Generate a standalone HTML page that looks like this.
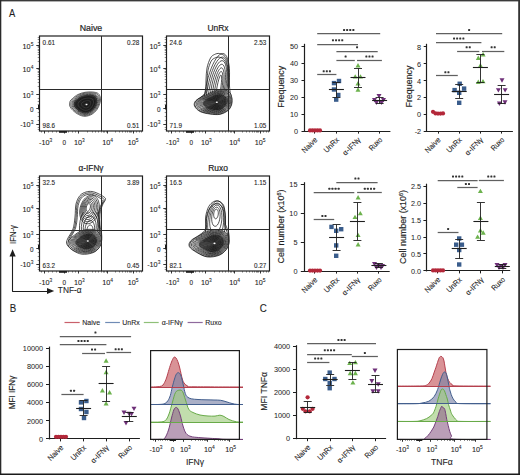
<!DOCTYPE html><html><head><meta charset="utf-8"><style>html,body{margin:0;padding:0;background:#fff;width:520px;height:475px;overflow:hidden;position:relative}</style></head><body><svg width="520" height="475" viewBox="0 0 520 475" style="position:absolute;left:0;top:0;font-family:'Liberation Sans', sans-serif">
<rect x="0" y="0" width="520" height="475" fill="#fff"/>
<rect x="0" y="0" width="520" height="1.4" fill="#3a3a3a"/>
<rect x="0" y="0" width="1.3" height="475" fill="#2a2a2a"/>
<rect x="518.2" y="0" width="1.8" height="475" fill="#333"/>
<rect x="0" y="473.5" width="520" height="1.5" fill="#1a1a1a"/>
<text transform="translate(9,16.8) scale(0.84,1)" font-size="11.2" text-anchor="start" fill="#1e1e1e" stroke="#1e1e1e" stroke-width="0.1">A</text>
<text transform="translate(9.8,311.8) scale(0.92,1)" font-size="10.6" text-anchor="start" fill="#1e1e1e" stroke="#1e1e1e" stroke-width="0.1">B</text>
<text transform="translate(259.8,312) scale(0.92,1)" font-size="10.6" text-anchor="start" fill="#1e1e1e" stroke="#1e1e1e" stroke-width="0.1">C</text>
<text transform="translate(91,31) scale(0.98,1)" font-size="9" text-anchor="middle" fill="#1e1e1e" stroke="#1e1e1e" stroke-width="0.2">Naive</text>
<line x1="36.3" y1="45.5" x2="39.5" y2="45.5" stroke="#1e1e1e" stroke-width="0.9"/>
<line x1="36.3" y1="68.5" x2="39.5" y2="68.5" stroke="#1e1e1e" stroke-width="0.9"/>
<line x1="36.3" y1="94.5" x2="39.5" y2="94.5" stroke="#1e1e1e" stroke-width="0.9"/>
<line x1="36.3" y1="108.5" x2="39.5" y2="108.5" stroke="#1e1e1e" stroke-width="0.9"/>
<line x1="36.3" y1="124.5" x2="39.5" y2="124.5" stroke="#1e1e1e" stroke-width="0.9"/>
<line x1="37.7" y1="61.5" x2="39.5" y2="61.5" stroke="#1e1e1e" stroke-width="0.5"/>
<line x1="37.7" y1="57.5" x2="39.5" y2="57.5" stroke="#1e1e1e" stroke-width="0.5"/>
<line x1="37.7" y1="54.5" x2="39.5" y2="54.5" stroke="#1e1e1e" stroke-width="0.5"/>
<line x1="37.7" y1="52.5" x2="39.5" y2="52.5" stroke="#1e1e1e" stroke-width="0.5"/>
<line x1="37.7" y1="50.5" x2="39.5" y2="50.5" stroke="#1e1e1e" stroke-width="0.5"/>
<line x1="37.7" y1="49.5" x2="39.5" y2="49.5" stroke="#1e1e1e" stroke-width="0.5"/>
<line x1="37.7" y1="47.5" x2="39.5" y2="47.5" stroke="#1e1e1e" stroke-width="0.5"/>
<line x1="37.7" y1="46.5" x2="39.5" y2="46.5" stroke="#1e1e1e" stroke-width="0.5"/>
<line x1="37.7" y1="86.5" x2="39.5" y2="86.5" stroke="#1e1e1e" stroke-width="0.5"/>
<line x1="37.7" y1="82.5" x2="39.5" y2="82.5" stroke="#1e1e1e" stroke-width="0.5"/>
<line x1="37.7" y1="79.5" x2="39.5" y2="79.5" stroke="#1e1e1e" stroke-width="0.5"/>
<line x1="37.7" y1="76.5" x2="39.5" y2="76.5" stroke="#1e1e1e" stroke-width="0.5"/>
<line x1="37.7" y1="74.5" x2="39.5" y2="74.5" stroke="#1e1e1e" stroke-width="0.5"/>
<line x1="37.7" y1="72.5" x2="39.5" y2="72.5" stroke="#1e1e1e" stroke-width="0.5"/>
<line x1="37.7" y1="71.5" x2="39.5" y2="71.5" stroke="#1e1e1e" stroke-width="0.5"/>
<line x1="37.7" y1="69.5" x2="39.5" y2="69.5" stroke="#1e1e1e" stroke-width="0.5"/>
<line x1="37.7" y1="37.5" x2="39.5" y2="37.5" stroke="#1e1e1e" stroke-width="0.5"/>
<line x1="37.7" y1="39.5" x2="39.5" y2="39.5" stroke="#1e1e1e" stroke-width="0.5"/>
<line x1="37.7" y1="42.5" x2="39.5" y2="42.5" stroke="#1e1e1e" stroke-width="0.5"/>
<line x1="37.7" y1="98.5" x2="39.5" y2="98.5" stroke="#1e1e1e" stroke-width="0.5"/>
<line x1="37.7" y1="101.5" x2="39.5" y2="101.5" stroke="#1e1e1e" stroke-width="0.5"/>
<line x1="37.7" y1="104.5" x2="39.5" y2="104.5" stroke="#1e1e1e" stroke-width="0.5"/>
<line x1="37.7" y1="112.5" x2="39.5" y2="112.5" stroke="#1e1e1e" stroke-width="0.5"/>
<line x1="37.7" y1="116.5" x2="39.5" y2="116.5" stroke="#1e1e1e" stroke-width="0.5"/>
<line x1="37.7" y1="120.5" x2="39.5" y2="120.5" stroke="#1e1e1e" stroke-width="0.5"/>
<line x1="37.7" y1="127.5" x2="39.5" y2="127.5" stroke="#1e1e1e" stroke-width="0.5"/>
<line x1="37.7" y1="129.5" x2="39.5" y2="129.5" stroke="#1e1e1e" stroke-width="0.5"/>
<rect x="38" y="105" width="1.8" height="4.5" fill="#1e1e1e"/>
<line x1="44.5" y1="131" x2="44.5" y2="133.5" stroke="#1e1e1e" stroke-width="0.9"/>
<line x1="64.5" y1="131" x2="64.5" y2="133.5" stroke="#1e1e1e" stroke-width="0.9"/>
<line x1="78.5" y1="131" x2="78.5" y2="133.5" stroke="#1e1e1e" stroke-width="0.9"/>
<line x1="107.5" y1="131" x2="107.5" y2="133.5" stroke="#1e1e1e" stroke-width="0.9"/>
<line x1="133.5" y1="131" x2="133.5" y2="133.5" stroke="#1e1e1e" stroke-width="0.9"/>
<line x1="87.5" y1="131" x2="87.5" y2="132.6" stroke="#1e1e1e" stroke-width="0.5"/>
<line x1="92.5" y1="131" x2="92.5" y2="132.6" stroke="#1e1e1e" stroke-width="0.5"/>
<line x1="95.5" y1="131" x2="95.5" y2="132.6" stroke="#1e1e1e" stroke-width="0.5"/>
<line x1="98.5" y1="131" x2="98.5" y2="132.6" stroke="#1e1e1e" stroke-width="0.5"/>
<line x1="101.5" y1="131" x2="101.5" y2="132.6" stroke="#1e1e1e" stroke-width="0.5"/>
<line x1="103.5" y1="131" x2="103.5" y2="132.6" stroke="#1e1e1e" stroke-width="0.5"/>
<line x1="104.5" y1="131" x2="104.5" y2="132.6" stroke="#1e1e1e" stroke-width="0.5"/>
<line x1="106.5" y1="131" x2="106.5" y2="132.6" stroke="#1e1e1e" stroke-width="0.5"/>
<line x1="115.5" y1="131" x2="115.5" y2="132.6" stroke="#1e1e1e" stroke-width="0.5"/>
<line x1="119.5" y1="131" x2="119.5" y2="132.6" stroke="#1e1e1e" stroke-width="0.5"/>
<line x1="122.5" y1="131" x2="122.5" y2="132.6" stroke="#1e1e1e" stroke-width="0.5"/>
<line x1="125.5" y1="131" x2="125.5" y2="132.6" stroke="#1e1e1e" stroke-width="0.5"/>
<line x1="127.5" y1="131" x2="127.5" y2="132.6" stroke="#1e1e1e" stroke-width="0.5"/>
<line x1="129.5" y1="131" x2="129.5" y2="132.6" stroke="#1e1e1e" stroke-width="0.5"/>
<line x1="130.5" y1="131" x2="130.5" y2="132.6" stroke="#1e1e1e" stroke-width="0.5"/>
<line x1="131.5" y1="131" x2="131.5" y2="132.6" stroke="#1e1e1e" stroke-width="0.5"/>
<line x1="41.5" y1="131" x2="41.5" y2="132.6" stroke="#1e1e1e" stroke-width="0.5"/>
<line x1="48.5" y1="131" x2="48.5" y2="132.6" stroke="#1e1e1e" stroke-width="0.5"/>
<line x1="52.5" y1="131" x2="52.5" y2="132.6" stroke="#1e1e1e" stroke-width="0.5"/>
<line x1="56.5" y1="131" x2="56.5" y2="132.6" stroke="#1e1e1e" stroke-width="0.5"/>
<line x1="68.5" y1="131" x2="68.5" y2="132.6" stroke="#1e1e1e" stroke-width="0.5"/>
<line x1="72.5" y1="131" x2="72.5" y2="132.6" stroke="#1e1e1e" stroke-width="0.5"/>
<line x1="75.5" y1="131" x2="75.5" y2="132.6" stroke="#1e1e1e" stroke-width="0.5"/>
<line x1="136.5" y1="131" x2="136.5" y2="132.6" stroke="#1e1e1e" stroke-width="0.5"/>
<line x1="139.5" y1="131" x2="139.5" y2="132.6" stroke="#1e1e1e" stroke-width="0.5"/>
<line x1="141.5" y1="131" x2="141.5" y2="132.6" stroke="#1e1e1e" stroke-width="0.5"/>
<rect x="59" y="131" width="8" height="1.8" fill="#1e1e1e"/>
<rect x="39.5" y="36" width="103" height="95" fill="none" stroke="#1e1e1e" stroke-width="1.2"/>
<text transform="translate(33.4,48.6) scale(0.93,1)" font-size="7.8" text-anchor="end" fill="#1e1e1e" stroke="#1e1e1e" stroke-width="0.1">10<tspan font-size="5.3" dy="-2.8" stroke-width="0.08">5</tspan></text>
<text transform="translate(33.4,71.8) scale(0.93,1)" font-size="7.8" text-anchor="end" fill="#1e1e1e" stroke="#1e1e1e" stroke-width="0.1">10<tspan font-size="5.3" dy="-2.8" stroke-width="0.08">4</tspan></text>
<text transform="translate(33.4,97.7) scale(0.93,1)" font-size="7.8" text-anchor="end" fill="#1e1e1e" stroke="#1e1e1e" stroke-width="0.1">10<tspan font-size="5.3" dy="-2.8" stroke-width="0.08">3</tspan></text>
<text transform="translate(33.4,127.1) scale(0.93,1)" font-size="7.8" text-anchor="end" fill="#1e1e1e" stroke="#1e1e1e" stroke-width="0.1">-10<tspan font-size="5.3" dy="-2.8" stroke-width="0.08">3</tspan></text>
<text transform="translate(33.6,111.5) scale(0.84,1)" font-size="7.6" text-anchor="end" fill="#1e1e1e" stroke="#1e1e1e" stroke-width="0.1">0</text>
<text transform="translate(39,144.5) scale(0.93,1)" font-size="7.8" text-anchor="start" fill="#1e1e1e" stroke="#1e1e1e" stroke-width="0.1">-10<tspan font-size="5.3" dy="-2.8" stroke-width="0.08">3</tspan></text>
<text transform="translate(62.6,144.5) scale(0.84,1)" font-size="7.6" text-anchor="start" fill="#1e1e1e" stroke="#1e1e1e" stroke-width="0.1">0</text>
<text transform="translate(74,144.5) scale(0.93,1)" font-size="7.8" text-anchor="start" fill="#1e1e1e" stroke="#1e1e1e" stroke-width="0.1">10<tspan font-size="5.3" dy="-2.8" stroke-width="0.08">3</tspan></text>
<text transform="translate(102.3,144.5) scale(0.93,1)" font-size="7.8" text-anchor="start" fill="#1e1e1e" stroke="#1e1e1e" stroke-width="0.1">10<tspan font-size="5.3" dy="-2.8" stroke-width="0.08">4</tspan></text>
<text transform="translate(127.8,144.5) scale(0.93,1)" font-size="7.8" text-anchor="start" fill="#1e1e1e" stroke="#1e1e1e" stroke-width="0.1">10<tspan font-size="5.3" dy="-2.8" stroke-width="0.08">5</tspan></text>
<text transform="translate(42.6,45.3) scale(0.86,1)" font-size="7.4" text-anchor="start" fill="#1e1e1e" stroke="#1e1e1e" stroke-width="0.1">0.61</text>
<text transform="translate(139.4,45.3) scale(0.86,1)" font-size="7.4" text-anchor="end" fill="#1e1e1e" stroke="#1e1e1e" stroke-width="0.1">0.28</text>
<text transform="translate(42.6,127.7) scale(0.86,1)" font-size="7.4" text-anchor="start" fill="#1e1e1e" stroke="#1e1e1e" stroke-width="0.1">98.6</text>
<text transform="translate(139.4,127.7) scale(0.86,1)" font-size="7.4" text-anchor="end" fill="#1e1e1e" stroke="#1e1e1e" stroke-width="0.1">0.51</text>
<text transform="translate(218,31) scale(0.94,1)" font-size="9" text-anchor="middle" fill="#1e1e1e" stroke="#1e1e1e" stroke-width="0.2">UnRx</text>
<line x1="163.3" y1="45.5" x2="166.5" y2="45.5" stroke="#1e1e1e" stroke-width="0.9"/>
<line x1="163.3" y1="68.5" x2="166.5" y2="68.5" stroke="#1e1e1e" stroke-width="0.9"/>
<line x1="163.3" y1="94.5" x2="166.5" y2="94.5" stroke="#1e1e1e" stroke-width="0.9"/>
<line x1="163.3" y1="108.5" x2="166.5" y2="108.5" stroke="#1e1e1e" stroke-width="0.9"/>
<line x1="163.3" y1="124.5" x2="166.5" y2="124.5" stroke="#1e1e1e" stroke-width="0.9"/>
<line x1="164.7" y1="61.5" x2="166.5" y2="61.5" stroke="#1e1e1e" stroke-width="0.5"/>
<line x1="164.7" y1="57.5" x2="166.5" y2="57.5" stroke="#1e1e1e" stroke-width="0.5"/>
<line x1="164.7" y1="54.5" x2="166.5" y2="54.5" stroke="#1e1e1e" stroke-width="0.5"/>
<line x1="164.7" y1="52.5" x2="166.5" y2="52.5" stroke="#1e1e1e" stroke-width="0.5"/>
<line x1="164.7" y1="50.5" x2="166.5" y2="50.5" stroke="#1e1e1e" stroke-width="0.5"/>
<line x1="164.7" y1="49.5" x2="166.5" y2="49.5" stroke="#1e1e1e" stroke-width="0.5"/>
<line x1="164.7" y1="47.5" x2="166.5" y2="47.5" stroke="#1e1e1e" stroke-width="0.5"/>
<line x1="164.7" y1="46.5" x2="166.5" y2="46.5" stroke="#1e1e1e" stroke-width="0.5"/>
<line x1="164.7" y1="86.5" x2="166.5" y2="86.5" stroke="#1e1e1e" stroke-width="0.5"/>
<line x1="164.7" y1="82.5" x2="166.5" y2="82.5" stroke="#1e1e1e" stroke-width="0.5"/>
<line x1="164.7" y1="79.5" x2="166.5" y2="79.5" stroke="#1e1e1e" stroke-width="0.5"/>
<line x1="164.7" y1="76.5" x2="166.5" y2="76.5" stroke="#1e1e1e" stroke-width="0.5"/>
<line x1="164.7" y1="74.5" x2="166.5" y2="74.5" stroke="#1e1e1e" stroke-width="0.5"/>
<line x1="164.7" y1="72.5" x2="166.5" y2="72.5" stroke="#1e1e1e" stroke-width="0.5"/>
<line x1="164.7" y1="71.5" x2="166.5" y2="71.5" stroke="#1e1e1e" stroke-width="0.5"/>
<line x1="164.7" y1="69.5" x2="166.5" y2="69.5" stroke="#1e1e1e" stroke-width="0.5"/>
<line x1="164.7" y1="37.5" x2="166.5" y2="37.5" stroke="#1e1e1e" stroke-width="0.5"/>
<line x1="164.7" y1="39.5" x2="166.5" y2="39.5" stroke="#1e1e1e" stroke-width="0.5"/>
<line x1="164.7" y1="42.5" x2="166.5" y2="42.5" stroke="#1e1e1e" stroke-width="0.5"/>
<line x1="164.7" y1="98.5" x2="166.5" y2="98.5" stroke="#1e1e1e" stroke-width="0.5"/>
<line x1="164.7" y1="101.5" x2="166.5" y2="101.5" stroke="#1e1e1e" stroke-width="0.5"/>
<line x1="164.7" y1="104.5" x2="166.5" y2="104.5" stroke="#1e1e1e" stroke-width="0.5"/>
<line x1="164.7" y1="112.5" x2="166.5" y2="112.5" stroke="#1e1e1e" stroke-width="0.5"/>
<line x1="164.7" y1="116.5" x2="166.5" y2="116.5" stroke="#1e1e1e" stroke-width="0.5"/>
<line x1="164.7" y1="120.5" x2="166.5" y2="120.5" stroke="#1e1e1e" stroke-width="0.5"/>
<line x1="164.7" y1="127.5" x2="166.5" y2="127.5" stroke="#1e1e1e" stroke-width="0.5"/>
<line x1="164.7" y1="129.5" x2="166.5" y2="129.5" stroke="#1e1e1e" stroke-width="0.5"/>
<rect x="165" y="105" width="1.8" height="4.5" fill="#1e1e1e"/>
<line x1="171.5" y1="131" x2="171.5" y2="133.5" stroke="#1e1e1e" stroke-width="0.9"/>
<line x1="191.5" y1="131" x2="191.5" y2="133.5" stroke="#1e1e1e" stroke-width="0.9"/>
<line x1="205.5" y1="131" x2="205.5" y2="133.5" stroke="#1e1e1e" stroke-width="0.9"/>
<line x1="234.5" y1="131" x2="234.5" y2="133.5" stroke="#1e1e1e" stroke-width="0.9"/>
<line x1="260.5" y1="131" x2="260.5" y2="133.5" stroke="#1e1e1e" stroke-width="0.9"/>
<line x1="214.5" y1="131" x2="214.5" y2="132.6" stroke="#1e1e1e" stroke-width="0.5"/>
<line x1="219.5" y1="131" x2="219.5" y2="132.6" stroke="#1e1e1e" stroke-width="0.5"/>
<line x1="222.5" y1="131" x2="222.5" y2="132.6" stroke="#1e1e1e" stroke-width="0.5"/>
<line x1="225.5" y1="131" x2="225.5" y2="132.6" stroke="#1e1e1e" stroke-width="0.5"/>
<line x1="228.5" y1="131" x2="228.5" y2="132.6" stroke="#1e1e1e" stroke-width="0.5"/>
<line x1="230.5" y1="131" x2="230.5" y2="132.6" stroke="#1e1e1e" stroke-width="0.5"/>
<line x1="231.5" y1="131" x2="231.5" y2="132.6" stroke="#1e1e1e" stroke-width="0.5"/>
<line x1="233.5" y1="131" x2="233.5" y2="132.6" stroke="#1e1e1e" stroke-width="0.5"/>
<line x1="242.5" y1="131" x2="242.5" y2="132.6" stroke="#1e1e1e" stroke-width="0.5"/>
<line x1="246.5" y1="131" x2="246.5" y2="132.6" stroke="#1e1e1e" stroke-width="0.5"/>
<line x1="249.5" y1="131" x2="249.5" y2="132.6" stroke="#1e1e1e" stroke-width="0.5"/>
<line x1="252.5" y1="131" x2="252.5" y2="132.6" stroke="#1e1e1e" stroke-width="0.5"/>
<line x1="254.5" y1="131" x2="254.5" y2="132.6" stroke="#1e1e1e" stroke-width="0.5"/>
<line x1="256.5" y1="131" x2="256.5" y2="132.6" stroke="#1e1e1e" stroke-width="0.5"/>
<line x1="257.5" y1="131" x2="257.5" y2="132.6" stroke="#1e1e1e" stroke-width="0.5"/>
<line x1="258.5" y1="131" x2="258.5" y2="132.6" stroke="#1e1e1e" stroke-width="0.5"/>
<line x1="168.5" y1="131" x2="168.5" y2="132.6" stroke="#1e1e1e" stroke-width="0.5"/>
<line x1="175.5" y1="131" x2="175.5" y2="132.6" stroke="#1e1e1e" stroke-width="0.5"/>
<line x1="179.5" y1="131" x2="179.5" y2="132.6" stroke="#1e1e1e" stroke-width="0.5"/>
<line x1="183.5" y1="131" x2="183.5" y2="132.6" stroke="#1e1e1e" stroke-width="0.5"/>
<line x1="195.5" y1="131" x2="195.5" y2="132.6" stroke="#1e1e1e" stroke-width="0.5"/>
<line x1="199.5" y1="131" x2="199.5" y2="132.6" stroke="#1e1e1e" stroke-width="0.5"/>
<line x1="202.5" y1="131" x2="202.5" y2="132.6" stroke="#1e1e1e" stroke-width="0.5"/>
<line x1="263.5" y1="131" x2="263.5" y2="132.6" stroke="#1e1e1e" stroke-width="0.5"/>
<line x1="266.5" y1="131" x2="266.5" y2="132.6" stroke="#1e1e1e" stroke-width="0.5"/>
<line x1="268.5" y1="131" x2="268.5" y2="132.6" stroke="#1e1e1e" stroke-width="0.5"/>
<rect x="186" y="131" width="8" height="1.8" fill="#1e1e1e"/>
<rect x="166.5" y="36" width="103" height="95" fill="none" stroke="#1e1e1e" stroke-width="1.2"/>
<text transform="translate(160.4,48.6) scale(0.93,1)" font-size="7.8" text-anchor="end" fill="#1e1e1e" stroke="#1e1e1e" stroke-width="0.1">10<tspan font-size="5.3" dy="-2.8" stroke-width="0.08">5</tspan></text>
<text transform="translate(160.4,71.8) scale(0.93,1)" font-size="7.8" text-anchor="end" fill="#1e1e1e" stroke="#1e1e1e" stroke-width="0.1">10<tspan font-size="5.3" dy="-2.8" stroke-width="0.08">4</tspan></text>
<text transform="translate(160.4,97.7) scale(0.93,1)" font-size="7.8" text-anchor="end" fill="#1e1e1e" stroke="#1e1e1e" stroke-width="0.1">10<tspan font-size="5.3" dy="-2.8" stroke-width="0.08">3</tspan></text>
<text transform="translate(160.4,127.1) scale(0.93,1)" font-size="7.8" text-anchor="end" fill="#1e1e1e" stroke="#1e1e1e" stroke-width="0.1">-10<tspan font-size="5.3" dy="-2.8" stroke-width="0.08">3</tspan></text>
<text transform="translate(160.6,111.5) scale(0.84,1)" font-size="7.6" text-anchor="end" fill="#1e1e1e" stroke="#1e1e1e" stroke-width="0.1">0</text>
<text transform="translate(166,144.5) scale(0.93,1)" font-size="7.8" text-anchor="start" fill="#1e1e1e" stroke="#1e1e1e" stroke-width="0.1">-10<tspan font-size="5.3" dy="-2.8" stroke-width="0.08">3</tspan></text>
<text transform="translate(189.6,144.5) scale(0.84,1)" font-size="7.6" text-anchor="start" fill="#1e1e1e" stroke="#1e1e1e" stroke-width="0.1">0</text>
<text transform="translate(201,144.5) scale(0.93,1)" font-size="7.8" text-anchor="start" fill="#1e1e1e" stroke="#1e1e1e" stroke-width="0.1">10<tspan font-size="5.3" dy="-2.8" stroke-width="0.08">3</tspan></text>
<text transform="translate(229.3,144.5) scale(0.93,1)" font-size="7.8" text-anchor="start" fill="#1e1e1e" stroke="#1e1e1e" stroke-width="0.1">10<tspan font-size="5.3" dy="-2.8" stroke-width="0.08">4</tspan></text>
<text transform="translate(254.8,144.5) scale(0.93,1)" font-size="7.8" text-anchor="start" fill="#1e1e1e" stroke="#1e1e1e" stroke-width="0.1">10<tspan font-size="5.3" dy="-2.8" stroke-width="0.08">5</tspan></text>
<text transform="translate(169.6,45.3) scale(0.86,1)" font-size="7.4" text-anchor="start" fill="#1e1e1e" stroke="#1e1e1e" stroke-width="0.1">24.6</text>
<text transform="translate(266.4,45.3) scale(0.86,1)" font-size="7.4" text-anchor="end" fill="#1e1e1e" stroke="#1e1e1e" stroke-width="0.1">2.53</text>
<text transform="translate(169.6,127.7) scale(0.86,1)" font-size="7.4" text-anchor="start" fill="#1e1e1e" stroke="#1e1e1e" stroke-width="0.1">71.9</text>
<text transform="translate(266.4,127.7) scale(0.86,1)" font-size="7.4" text-anchor="end" fill="#1e1e1e" stroke="#1e1e1e" stroke-width="0.1">1.05</text>
<text transform="translate(91,171) scale(0.92,1)" font-size="9" text-anchor="middle" fill="#1e1e1e" stroke="#1e1e1e" stroke-width="0.2">α-IFNγ</text>
<line x1="36.3" y1="185.5" x2="39.5" y2="185.5" stroke="#1e1e1e" stroke-width="0.9"/>
<line x1="36.3" y1="208.5" x2="39.5" y2="208.5" stroke="#1e1e1e" stroke-width="0.9"/>
<line x1="36.3" y1="234.5" x2="39.5" y2="234.5" stroke="#1e1e1e" stroke-width="0.9"/>
<line x1="36.3" y1="248.5" x2="39.5" y2="248.5" stroke="#1e1e1e" stroke-width="0.9"/>
<line x1="36.3" y1="264.5" x2="39.5" y2="264.5" stroke="#1e1e1e" stroke-width="0.9"/>
<line x1="37.7" y1="201.5" x2="39.5" y2="201.5" stroke="#1e1e1e" stroke-width="0.5"/>
<line x1="37.7" y1="197.5" x2="39.5" y2="197.5" stroke="#1e1e1e" stroke-width="0.5"/>
<line x1="37.7" y1="194.5" x2="39.5" y2="194.5" stroke="#1e1e1e" stroke-width="0.5"/>
<line x1="37.7" y1="192.5" x2="39.5" y2="192.5" stroke="#1e1e1e" stroke-width="0.5"/>
<line x1="37.7" y1="190.5" x2="39.5" y2="190.5" stroke="#1e1e1e" stroke-width="0.5"/>
<line x1="37.7" y1="189.5" x2="39.5" y2="189.5" stroke="#1e1e1e" stroke-width="0.5"/>
<line x1="37.7" y1="187.5" x2="39.5" y2="187.5" stroke="#1e1e1e" stroke-width="0.5"/>
<line x1="37.7" y1="186.5" x2="39.5" y2="186.5" stroke="#1e1e1e" stroke-width="0.5"/>
<line x1="37.7" y1="226.5" x2="39.5" y2="226.5" stroke="#1e1e1e" stroke-width="0.5"/>
<line x1="37.7" y1="222.5" x2="39.5" y2="222.5" stroke="#1e1e1e" stroke-width="0.5"/>
<line x1="37.7" y1="219.5" x2="39.5" y2="219.5" stroke="#1e1e1e" stroke-width="0.5"/>
<line x1="37.7" y1="216.5" x2="39.5" y2="216.5" stroke="#1e1e1e" stroke-width="0.5"/>
<line x1="37.7" y1="214.5" x2="39.5" y2="214.5" stroke="#1e1e1e" stroke-width="0.5"/>
<line x1="37.7" y1="212.5" x2="39.5" y2="212.5" stroke="#1e1e1e" stroke-width="0.5"/>
<line x1="37.7" y1="211.5" x2="39.5" y2="211.5" stroke="#1e1e1e" stroke-width="0.5"/>
<line x1="37.7" y1="209.5" x2="39.5" y2="209.5" stroke="#1e1e1e" stroke-width="0.5"/>
<line x1="37.7" y1="177.5" x2="39.5" y2="177.5" stroke="#1e1e1e" stroke-width="0.5"/>
<line x1="37.7" y1="179.5" x2="39.5" y2="179.5" stroke="#1e1e1e" stroke-width="0.5"/>
<line x1="37.7" y1="182.5" x2="39.5" y2="182.5" stroke="#1e1e1e" stroke-width="0.5"/>
<line x1="37.7" y1="238.5" x2="39.5" y2="238.5" stroke="#1e1e1e" stroke-width="0.5"/>
<line x1="37.7" y1="241.5" x2="39.5" y2="241.5" stroke="#1e1e1e" stroke-width="0.5"/>
<line x1="37.7" y1="244.5" x2="39.5" y2="244.5" stroke="#1e1e1e" stroke-width="0.5"/>
<line x1="37.7" y1="252.5" x2="39.5" y2="252.5" stroke="#1e1e1e" stroke-width="0.5"/>
<line x1="37.7" y1="256.5" x2="39.5" y2="256.5" stroke="#1e1e1e" stroke-width="0.5"/>
<line x1="37.7" y1="260.5" x2="39.5" y2="260.5" stroke="#1e1e1e" stroke-width="0.5"/>
<line x1="37.7" y1="267.5" x2="39.5" y2="267.5" stroke="#1e1e1e" stroke-width="0.5"/>
<line x1="37.7" y1="269.5" x2="39.5" y2="269.5" stroke="#1e1e1e" stroke-width="0.5"/>
<rect x="38" y="245" width="1.8" height="4.5" fill="#1e1e1e"/>
<line x1="44.5" y1="271" x2="44.5" y2="273.5" stroke="#1e1e1e" stroke-width="0.9"/>
<line x1="64.5" y1="271" x2="64.5" y2="273.5" stroke="#1e1e1e" stroke-width="0.9"/>
<line x1="78.5" y1="271" x2="78.5" y2="273.5" stroke="#1e1e1e" stroke-width="0.9"/>
<line x1="107.5" y1="271" x2="107.5" y2="273.5" stroke="#1e1e1e" stroke-width="0.9"/>
<line x1="133.5" y1="271" x2="133.5" y2="273.5" stroke="#1e1e1e" stroke-width="0.9"/>
<line x1="87.5" y1="271" x2="87.5" y2="272.6" stroke="#1e1e1e" stroke-width="0.5"/>
<line x1="92.5" y1="271" x2="92.5" y2="272.6" stroke="#1e1e1e" stroke-width="0.5"/>
<line x1="95.5" y1="271" x2="95.5" y2="272.6" stroke="#1e1e1e" stroke-width="0.5"/>
<line x1="98.5" y1="271" x2="98.5" y2="272.6" stroke="#1e1e1e" stroke-width="0.5"/>
<line x1="101.5" y1="271" x2="101.5" y2="272.6" stroke="#1e1e1e" stroke-width="0.5"/>
<line x1="103.5" y1="271" x2="103.5" y2="272.6" stroke="#1e1e1e" stroke-width="0.5"/>
<line x1="104.5" y1="271" x2="104.5" y2="272.6" stroke="#1e1e1e" stroke-width="0.5"/>
<line x1="106.5" y1="271" x2="106.5" y2="272.6" stroke="#1e1e1e" stroke-width="0.5"/>
<line x1="115.5" y1="271" x2="115.5" y2="272.6" stroke="#1e1e1e" stroke-width="0.5"/>
<line x1="119.5" y1="271" x2="119.5" y2="272.6" stroke="#1e1e1e" stroke-width="0.5"/>
<line x1="122.5" y1="271" x2="122.5" y2="272.6" stroke="#1e1e1e" stroke-width="0.5"/>
<line x1="125.5" y1="271" x2="125.5" y2="272.6" stroke="#1e1e1e" stroke-width="0.5"/>
<line x1="127.5" y1="271" x2="127.5" y2="272.6" stroke="#1e1e1e" stroke-width="0.5"/>
<line x1="129.5" y1="271" x2="129.5" y2="272.6" stroke="#1e1e1e" stroke-width="0.5"/>
<line x1="130.5" y1="271" x2="130.5" y2="272.6" stroke="#1e1e1e" stroke-width="0.5"/>
<line x1="131.5" y1="271" x2="131.5" y2="272.6" stroke="#1e1e1e" stroke-width="0.5"/>
<line x1="41.5" y1="271" x2="41.5" y2="272.6" stroke="#1e1e1e" stroke-width="0.5"/>
<line x1="48.5" y1="271" x2="48.5" y2="272.6" stroke="#1e1e1e" stroke-width="0.5"/>
<line x1="52.5" y1="271" x2="52.5" y2="272.6" stroke="#1e1e1e" stroke-width="0.5"/>
<line x1="56.5" y1="271" x2="56.5" y2="272.6" stroke="#1e1e1e" stroke-width="0.5"/>
<line x1="68.5" y1="271" x2="68.5" y2="272.6" stroke="#1e1e1e" stroke-width="0.5"/>
<line x1="72.5" y1="271" x2="72.5" y2="272.6" stroke="#1e1e1e" stroke-width="0.5"/>
<line x1="75.5" y1="271" x2="75.5" y2="272.6" stroke="#1e1e1e" stroke-width="0.5"/>
<line x1="136.5" y1="271" x2="136.5" y2="272.6" stroke="#1e1e1e" stroke-width="0.5"/>
<line x1="139.5" y1="271" x2="139.5" y2="272.6" stroke="#1e1e1e" stroke-width="0.5"/>
<line x1="141.5" y1="271" x2="141.5" y2="272.6" stroke="#1e1e1e" stroke-width="0.5"/>
<rect x="59" y="271" width="8" height="1.8" fill="#1e1e1e"/>
<rect x="39.5" y="176" width="103" height="95" fill="none" stroke="#1e1e1e" stroke-width="1.2"/>
<text transform="translate(33.4,188.6) scale(0.93,1)" font-size="7.8" text-anchor="end" fill="#1e1e1e" stroke="#1e1e1e" stroke-width="0.1">10<tspan font-size="5.3" dy="-2.8" stroke-width="0.08">5</tspan></text>
<text transform="translate(33.4,211.8) scale(0.93,1)" font-size="7.8" text-anchor="end" fill="#1e1e1e" stroke="#1e1e1e" stroke-width="0.1">10<tspan font-size="5.3" dy="-2.8" stroke-width="0.08">4</tspan></text>
<text transform="translate(33.4,237.7) scale(0.93,1)" font-size="7.8" text-anchor="end" fill="#1e1e1e" stroke="#1e1e1e" stroke-width="0.1">10<tspan font-size="5.3" dy="-2.8" stroke-width="0.08">3</tspan></text>
<text transform="translate(33.4,267.1) scale(0.93,1)" font-size="7.8" text-anchor="end" fill="#1e1e1e" stroke="#1e1e1e" stroke-width="0.1">-10<tspan font-size="5.3" dy="-2.8" stroke-width="0.08">3</tspan></text>
<text transform="translate(33.6,251.5) scale(0.84,1)" font-size="7.6" text-anchor="end" fill="#1e1e1e" stroke="#1e1e1e" stroke-width="0.1">0</text>
<text transform="translate(39,284.5) scale(0.93,1)" font-size="7.8" text-anchor="start" fill="#1e1e1e" stroke="#1e1e1e" stroke-width="0.1">-10<tspan font-size="5.3" dy="-2.8" stroke-width="0.08">3</tspan></text>
<text transform="translate(62.6,284.5) scale(0.84,1)" font-size="7.6" text-anchor="start" fill="#1e1e1e" stroke="#1e1e1e" stroke-width="0.1">0</text>
<text transform="translate(74,284.5) scale(0.93,1)" font-size="7.8" text-anchor="start" fill="#1e1e1e" stroke="#1e1e1e" stroke-width="0.1">10<tspan font-size="5.3" dy="-2.8" stroke-width="0.08">3</tspan></text>
<text transform="translate(102.3,284.5) scale(0.93,1)" font-size="7.8" text-anchor="start" fill="#1e1e1e" stroke="#1e1e1e" stroke-width="0.1">10<tspan font-size="5.3" dy="-2.8" stroke-width="0.08">4</tspan></text>
<text transform="translate(127.8,284.5) scale(0.93,1)" font-size="7.8" text-anchor="start" fill="#1e1e1e" stroke="#1e1e1e" stroke-width="0.1">10<tspan font-size="5.3" dy="-2.8" stroke-width="0.08">5</tspan></text>
<text transform="translate(42.6,185.3) scale(0.86,1)" font-size="7.4" text-anchor="start" fill="#1e1e1e" stroke="#1e1e1e" stroke-width="0.1">32.5</text>
<text transform="translate(139.4,185.3) scale(0.86,1)" font-size="7.4" text-anchor="end" fill="#1e1e1e" stroke="#1e1e1e" stroke-width="0.1">3.89</text>
<text transform="translate(42.6,267.7) scale(0.86,1)" font-size="7.4" text-anchor="start" fill="#1e1e1e" stroke="#1e1e1e" stroke-width="0.1">63.2</text>
<text transform="translate(139.4,267.7) scale(0.86,1)" font-size="7.4" text-anchor="end" fill="#1e1e1e" stroke="#1e1e1e" stroke-width="0.1">0.45</text>
<text transform="translate(218,171) scale(0.94,1)" font-size="9" text-anchor="middle" fill="#1e1e1e" stroke="#1e1e1e" stroke-width="0.2">Ruxo</text>
<line x1="163.3" y1="185.5" x2="166.5" y2="185.5" stroke="#1e1e1e" stroke-width="0.9"/>
<line x1="163.3" y1="208.5" x2="166.5" y2="208.5" stroke="#1e1e1e" stroke-width="0.9"/>
<line x1="163.3" y1="234.5" x2="166.5" y2="234.5" stroke="#1e1e1e" stroke-width="0.9"/>
<line x1="163.3" y1="248.5" x2="166.5" y2="248.5" stroke="#1e1e1e" stroke-width="0.9"/>
<line x1="163.3" y1="264.5" x2="166.5" y2="264.5" stroke="#1e1e1e" stroke-width="0.9"/>
<line x1="164.7" y1="201.5" x2="166.5" y2="201.5" stroke="#1e1e1e" stroke-width="0.5"/>
<line x1="164.7" y1="197.5" x2="166.5" y2="197.5" stroke="#1e1e1e" stroke-width="0.5"/>
<line x1="164.7" y1="194.5" x2="166.5" y2="194.5" stroke="#1e1e1e" stroke-width="0.5"/>
<line x1="164.7" y1="192.5" x2="166.5" y2="192.5" stroke="#1e1e1e" stroke-width="0.5"/>
<line x1="164.7" y1="190.5" x2="166.5" y2="190.5" stroke="#1e1e1e" stroke-width="0.5"/>
<line x1="164.7" y1="189.5" x2="166.5" y2="189.5" stroke="#1e1e1e" stroke-width="0.5"/>
<line x1="164.7" y1="187.5" x2="166.5" y2="187.5" stroke="#1e1e1e" stroke-width="0.5"/>
<line x1="164.7" y1="186.5" x2="166.5" y2="186.5" stroke="#1e1e1e" stroke-width="0.5"/>
<line x1="164.7" y1="226.5" x2="166.5" y2="226.5" stroke="#1e1e1e" stroke-width="0.5"/>
<line x1="164.7" y1="222.5" x2="166.5" y2="222.5" stroke="#1e1e1e" stroke-width="0.5"/>
<line x1="164.7" y1="219.5" x2="166.5" y2="219.5" stroke="#1e1e1e" stroke-width="0.5"/>
<line x1="164.7" y1="216.5" x2="166.5" y2="216.5" stroke="#1e1e1e" stroke-width="0.5"/>
<line x1="164.7" y1="214.5" x2="166.5" y2="214.5" stroke="#1e1e1e" stroke-width="0.5"/>
<line x1="164.7" y1="212.5" x2="166.5" y2="212.5" stroke="#1e1e1e" stroke-width="0.5"/>
<line x1="164.7" y1="211.5" x2="166.5" y2="211.5" stroke="#1e1e1e" stroke-width="0.5"/>
<line x1="164.7" y1="209.5" x2="166.5" y2="209.5" stroke="#1e1e1e" stroke-width="0.5"/>
<line x1="164.7" y1="177.5" x2="166.5" y2="177.5" stroke="#1e1e1e" stroke-width="0.5"/>
<line x1="164.7" y1="179.5" x2="166.5" y2="179.5" stroke="#1e1e1e" stroke-width="0.5"/>
<line x1="164.7" y1="182.5" x2="166.5" y2="182.5" stroke="#1e1e1e" stroke-width="0.5"/>
<line x1="164.7" y1="238.5" x2="166.5" y2="238.5" stroke="#1e1e1e" stroke-width="0.5"/>
<line x1="164.7" y1="241.5" x2="166.5" y2="241.5" stroke="#1e1e1e" stroke-width="0.5"/>
<line x1="164.7" y1="244.5" x2="166.5" y2="244.5" stroke="#1e1e1e" stroke-width="0.5"/>
<line x1="164.7" y1="252.5" x2="166.5" y2="252.5" stroke="#1e1e1e" stroke-width="0.5"/>
<line x1="164.7" y1="256.5" x2="166.5" y2="256.5" stroke="#1e1e1e" stroke-width="0.5"/>
<line x1="164.7" y1="260.5" x2="166.5" y2="260.5" stroke="#1e1e1e" stroke-width="0.5"/>
<line x1="164.7" y1="267.5" x2="166.5" y2="267.5" stroke="#1e1e1e" stroke-width="0.5"/>
<line x1="164.7" y1="269.5" x2="166.5" y2="269.5" stroke="#1e1e1e" stroke-width="0.5"/>
<rect x="165" y="245" width="1.8" height="4.5" fill="#1e1e1e"/>
<line x1="171.5" y1="271" x2="171.5" y2="273.5" stroke="#1e1e1e" stroke-width="0.9"/>
<line x1="191.5" y1="271" x2="191.5" y2="273.5" stroke="#1e1e1e" stroke-width="0.9"/>
<line x1="205.5" y1="271" x2="205.5" y2="273.5" stroke="#1e1e1e" stroke-width="0.9"/>
<line x1="234.5" y1="271" x2="234.5" y2="273.5" stroke="#1e1e1e" stroke-width="0.9"/>
<line x1="260.5" y1="271" x2="260.5" y2="273.5" stroke="#1e1e1e" stroke-width="0.9"/>
<line x1="214.5" y1="271" x2="214.5" y2="272.6" stroke="#1e1e1e" stroke-width="0.5"/>
<line x1="219.5" y1="271" x2="219.5" y2="272.6" stroke="#1e1e1e" stroke-width="0.5"/>
<line x1="222.5" y1="271" x2="222.5" y2="272.6" stroke="#1e1e1e" stroke-width="0.5"/>
<line x1="225.5" y1="271" x2="225.5" y2="272.6" stroke="#1e1e1e" stroke-width="0.5"/>
<line x1="228.5" y1="271" x2="228.5" y2="272.6" stroke="#1e1e1e" stroke-width="0.5"/>
<line x1="230.5" y1="271" x2="230.5" y2="272.6" stroke="#1e1e1e" stroke-width="0.5"/>
<line x1="231.5" y1="271" x2="231.5" y2="272.6" stroke="#1e1e1e" stroke-width="0.5"/>
<line x1="233.5" y1="271" x2="233.5" y2="272.6" stroke="#1e1e1e" stroke-width="0.5"/>
<line x1="242.5" y1="271" x2="242.5" y2="272.6" stroke="#1e1e1e" stroke-width="0.5"/>
<line x1="246.5" y1="271" x2="246.5" y2="272.6" stroke="#1e1e1e" stroke-width="0.5"/>
<line x1="249.5" y1="271" x2="249.5" y2="272.6" stroke="#1e1e1e" stroke-width="0.5"/>
<line x1="252.5" y1="271" x2="252.5" y2="272.6" stroke="#1e1e1e" stroke-width="0.5"/>
<line x1="254.5" y1="271" x2="254.5" y2="272.6" stroke="#1e1e1e" stroke-width="0.5"/>
<line x1="256.5" y1="271" x2="256.5" y2="272.6" stroke="#1e1e1e" stroke-width="0.5"/>
<line x1="257.5" y1="271" x2="257.5" y2="272.6" stroke="#1e1e1e" stroke-width="0.5"/>
<line x1="258.5" y1="271" x2="258.5" y2="272.6" stroke="#1e1e1e" stroke-width="0.5"/>
<line x1="168.5" y1="271" x2="168.5" y2="272.6" stroke="#1e1e1e" stroke-width="0.5"/>
<line x1="175.5" y1="271" x2="175.5" y2="272.6" stroke="#1e1e1e" stroke-width="0.5"/>
<line x1="179.5" y1="271" x2="179.5" y2="272.6" stroke="#1e1e1e" stroke-width="0.5"/>
<line x1="183.5" y1="271" x2="183.5" y2="272.6" stroke="#1e1e1e" stroke-width="0.5"/>
<line x1="195.5" y1="271" x2="195.5" y2="272.6" stroke="#1e1e1e" stroke-width="0.5"/>
<line x1="199.5" y1="271" x2="199.5" y2="272.6" stroke="#1e1e1e" stroke-width="0.5"/>
<line x1="202.5" y1="271" x2="202.5" y2="272.6" stroke="#1e1e1e" stroke-width="0.5"/>
<line x1="263.5" y1="271" x2="263.5" y2="272.6" stroke="#1e1e1e" stroke-width="0.5"/>
<line x1="266.5" y1="271" x2="266.5" y2="272.6" stroke="#1e1e1e" stroke-width="0.5"/>
<line x1="268.5" y1="271" x2="268.5" y2="272.6" stroke="#1e1e1e" stroke-width="0.5"/>
<rect x="186" y="271" width="8" height="1.8" fill="#1e1e1e"/>
<rect x="166.5" y="176" width="103" height="95" fill="none" stroke="#1e1e1e" stroke-width="1.2"/>
<text transform="translate(160.4,188.6) scale(0.93,1)" font-size="7.8" text-anchor="end" fill="#1e1e1e" stroke="#1e1e1e" stroke-width="0.1">10<tspan font-size="5.3" dy="-2.8" stroke-width="0.08">5</tspan></text>
<text transform="translate(160.4,211.8) scale(0.93,1)" font-size="7.8" text-anchor="end" fill="#1e1e1e" stroke="#1e1e1e" stroke-width="0.1">10<tspan font-size="5.3" dy="-2.8" stroke-width="0.08">4</tspan></text>
<text transform="translate(160.4,237.7) scale(0.93,1)" font-size="7.8" text-anchor="end" fill="#1e1e1e" stroke="#1e1e1e" stroke-width="0.1">10<tspan font-size="5.3" dy="-2.8" stroke-width="0.08">3</tspan></text>
<text transform="translate(160.4,267.1) scale(0.93,1)" font-size="7.8" text-anchor="end" fill="#1e1e1e" stroke="#1e1e1e" stroke-width="0.1">-10<tspan font-size="5.3" dy="-2.8" stroke-width="0.08">3</tspan></text>
<text transform="translate(160.6,251.5) scale(0.84,1)" font-size="7.6" text-anchor="end" fill="#1e1e1e" stroke="#1e1e1e" stroke-width="0.1">0</text>
<text transform="translate(166,284.5) scale(0.93,1)" font-size="7.8" text-anchor="start" fill="#1e1e1e" stroke="#1e1e1e" stroke-width="0.1">-10<tspan font-size="5.3" dy="-2.8" stroke-width="0.08">3</tspan></text>
<text transform="translate(189.6,284.5) scale(0.84,1)" font-size="7.6" text-anchor="start" fill="#1e1e1e" stroke="#1e1e1e" stroke-width="0.1">0</text>
<text transform="translate(201,284.5) scale(0.93,1)" font-size="7.8" text-anchor="start" fill="#1e1e1e" stroke="#1e1e1e" stroke-width="0.1">10<tspan font-size="5.3" dy="-2.8" stroke-width="0.08">3</tspan></text>
<text transform="translate(229.3,284.5) scale(0.93,1)" font-size="7.8" text-anchor="start" fill="#1e1e1e" stroke="#1e1e1e" stroke-width="0.1">10<tspan font-size="5.3" dy="-2.8" stroke-width="0.08">4</tspan></text>
<text transform="translate(254.8,284.5) scale(0.93,1)" font-size="7.8" text-anchor="start" fill="#1e1e1e" stroke="#1e1e1e" stroke-width="0.1">10<tspan font-size="5.3" dy="-2.8" stroke-width="0.08">5</tspan></text>
<text transform="translate(169.6,185.3) scale(0.86,1)" font-size="7.4" text-anchor="start" fill="#1e1e1e" stroke="#1e1e1e" stroke-width="0.1">16.5</text>
<text transform="translate(266.4,185.3) scale(0.86,1)" font-size="7.4" text-anchor="end" fill="#1e1e1e" stroke="#1e1e1e" stroke-width="0.1">1.15</text>
<text transform="translate(169.6,267.7) scale(0.86,1)" font-size="7.4" text-anchor="start" fill="#1e1e1e" stroke="#1e1e1e" stroke-width="0.1">82.1</text>
<text transform="translate(266.4,267.7) scale(0.86,1)" font-size="7.4" text-anchor="end" fill="#1e1e1e" stroke="#1e1e1e" stroke-width="0.1">0.27</text>
<path d="M72.5,98.5 C73.83,97.33 75.92,95.53 78,94.5 C80.08,93.47 82.58,92.72 85,92.3 C87.42,91.88 90.28,91.78 92.5,92 C94.72,92.22 96.97,92.52 98.3,93.6 C99.63,94.68 100.25,96.85 100.5,98.5 C100.75,100.15 100.38,101.67 99.8,103.5 C99.22,105.33 98.3,107.72 97,109.5 C95.7,111.28 94,113.07 92,114.2 C90,115.33 87.25,116.25 85,116.3 C82.75,116.35 80.5,115.47 78.5,114.5 C76.5,113.53 74.45,111.92 73,110.5 C71.55,109.08 70.3,107.5 69.8,106 C69.3,104.5 69.55,102.75 70,101.5 C70.45,100.25 71.17,99.67 72.5,98.5Z" fill="none" stroke="#111" stroke-width="0.65"/>
<path d="M73.48,98.91 C74.72,97.83 76.66,96.15 78.59,95.19 C80.53,94.23 82.86,93.53 85.1,93.15 C87.35,92.76 90.02,92.67 92.08,92.87 C94.14,93.07 96.23,93.35 97.47,94.36 C98.71,95.36 99.29,97.38 99.52,98.91 C99.75,100.45 99.41,101.86 98.87,103.56 C98.33,105.27 97.47,107.48 96.27,109.14 C95.06,110.8 93.48,112.46 91.62,113.51 C89.76,114.57 87.2,115.42 85.1,115.47 C83.01,115.51 80.92,114.69 79.06,113.79 C77.2,112.89 75.29,111.39 73.94,110.07 C72.6,108.76 71.43,107.28 70.97,105.89 C70.5,104.49 70.74,102.87 71.16,101.7 C71.57,100.54 72.24,100 73.48,98.91Z" fill="none" stroke="#111" stroke-width="0.65"/>
<path d="M74.46,99.33 C75.61,98.32 77.4,96.77 79.19,95.89 C80.98,95 83.13,94.35 85.21,93.99 C87.29,93.64 89.75,93.55 91.66,93.74 C93.57,93.92 95.5,94.18 96.65,95.11 C97.79,96.04 98.32,97.91 98.54,99.33 C98.75,100.74 98.44,102.05 97.94,103.63 C97.44,105.2 96.65,107.25 95.53,108.79 C94.41,110.32 92.95,111.85 91.23,112.83 C89.51,113.8 87.14,114.59 85.21,114.63 C83.27,114.68 81.34,113.92 79.62,113.09 C77.9,112.25 76.14,110.86 74.89,109.65 C73.64,108.43 72.57,107.07 72.14,105.78 C71.71,104.49 71.92,102.98 72.31,101.91 C72.7,100.83 73.31,100.33 74.46,99.33Z" fill="none" stroke="#111" stroke-width="0.65"/>
<path d="M75.3,99.68 C76.37,98.75 78.03,97.31 79.7,96.48 C81.37,95.65 83.37,95.05 85.3,94.72 C87.23,94.39 89.53,94.31 91.3,94.48 C93.07,94.65 94.87,94.89 95.94,95.76 C97.01,96.63 97.5,98.36 97.7,99.68 C97.9,101 97.61,102.21 97.14,103.68 C96.67,105.15 95.94,107.05 94.9,108.48 C93.86,109.91 92.5,111.33 90.9,112.24 C89.3,113.15 87.1,113.88 85.3,113.92 C83.5,113.96 81.7,113.25 80.1,112.48 C78.5,111.71 76.86,110.41 75.7,109.28 C74.54,108.15 73.54,106.88 73.14,105.68 C72.74,104.48 72.94,103.08 73.3,102.08 C73.66,101.08 74.23,100.61 75.3,99.68Z" fill="none" stroke="#111" stroke-width="0.72"/>
<path d="M76.22,100.07 C77.2,99.21 78.73,97.89 80.26,97.13 C81.79,96.37 83.62,95.82 85.4,95.51 C87.17,95.21 89.28,95.13 90.91,95.29 C92.53,95.45 94.19,95.67 95.17,96.47 C96.15,97.26 96.6,98.85 96.78,100.07 C96.97,101.28 96.7,102.39 96.27,103.74 C95.84,105.09 95.17,106.84 94.21,108.15 C93.26,109.46 92.01,110.77 90.54,111.6 C89.07,112.43 87.05,113.1 85.4,113.14 C83.75,113.18 82.09,112.53 80.62,111.82 C79.16,111.11 77.65,109.92 76.58,108.88 C75.52,107.84 74.6,106.68 74.23,105.58 C73.87,104.47 74.05,103.19 74.38,102.27 C74.71,101.35 75.24,100.92 76.22,100.07Z" fill="none" stroke="#111" stroke-width="0.72"/>
<path d="M77.01,100.4 C77.92,99.61 79.33,98.39 80.74,97.69 C82.15,96.99 83.85,96.48 85.48,96.2 C87.12,95.92 89.06,95.85 90.57,96 C92.07,96.14 93.59,96.35 94.5,97.08 C95.4,97.82 95.82,99.28 95.99,100.4 C96.16,101.52 95.91,102.55 95.51,103.79 C95.12,105.03 94.5,106.65 93.62,107.86 C92.73,109.06 91.58,110.27 90.23,111.04 C88.87,111.81 87.01,112.43 85.48,112.46 C83.96,112.5 82.43,111.9 81.08,111.24 C79.72,110.59 78.33,109.49 77.35,108.53 C76.37,107.57 75.52,106.5 75.18,105.48 C74.84,104.47 75.01,103.28 75.32,102.43 C75.62,101.59 76.11,101.19 77.01,100.4Z" fill="none" stroke="#111" stroke-width="0.72"/>
<path d="M77.77,100.72 C78.6,99.99 79.9,98.87 81.2,98.22 C82.5,97.58 84.06,97.11 85.56,96.85 C87.07,96.59 88.86,96.53 90.24,96.66 C91.63,96.8 93.03,96.99 93.86,97.66 C94.69,98.34 95.08,99.69 95.23,100.72 C95.39,101.75 95.16,102.69 94.8,103.84 C94.43,104.98 93.86,106.47 93.05,107.58 C92.24,108.69 91.18,109.81 89.93,110.51 C88.68,111.22 86.97,111.79 85.56,111.82 C84.16,111.85 82.76,111.3 81.51,110.7 C80.26,110.1 78.98,109.09 78.08,108.21 C77.17,107.32 76.39,106.33 76.08,105.4 C75.77,104.46 75.93,103.37 76.21,102.59 C76.49,101.81 76.93,101.45 77.77,100.72Z" fill="none" stroke="#111" stroke-width="0.72"/>
<path d="M78.5,101.03 C79.26,100.36 80.45,99.33 81.64,98.74 C82.83,98.15 84.26,97.72 85.64,97.48 C87.02,97.24 88.66,97.19 89.93,97.31 C91.2,97.43 92.48,97.61 93.25,98.23 C94.01,98.84 94.36,100.08 94.5,101.03 C94.65,101.97 94.44,102.84 94.1,103.89 C93.77,104.93 93.25,106.3 92.5,107.32 C91.76,108.34 90.79,109.36 89.64,110 C88.5,110.65 86.93,111.18 85.64,111.2 C84.36,111.23 83.07,110.73 81.93,110.17 C80.78,109.62 79.61,108.7 78.78,107.89 C77.95,107.08 77.24,106.17 76.95,105.31 C76.67,104.46 76.81,103.46 77.07,102.74 C77.32,102.03 77.73,101.69 78.5,101.03Z" fill="none" stroke="#111" stroke-width="0.72"/>
<path d="M79.21,101.33 C79.9,100.72 80.99,99.78 82.07,99.24 C83.16,98.7 84.46,98.31 85.72,98.1 C86.98,97.88 88.47,97.83 89.63,97.94 C90.78,98.05 91.95,98.21 92.65,98.77 C93.34,99.34 93.66,100.47 93.79,101.33 C93.92,102.19 93.73,102.98 93.43,103.93 C93.12,104.89 92.65,106.13 91.97,107.06 C91.29,107.99 90.41,108.92 89.37,109.51 C88.32,110.1 86.89,110.57 85.72,110.6 C84.55,110.63 83.37,110.17 82.33,109.66 C81.29,109.16 80.22,108.32 79.47,107.58 C78.71,106.84 78.06,106.02 77.8,105.23 C77.54,104.45 77.67,103.54 77.9,102.89 C78.14,102.24 78.51,101.93 79.21,101.33Z" fill="none" stroke="#111" stroke-width="0.72"/>
<path d="M79.9,101.62 C80.53,101.07 81.51,100.22 82.49,99.73 C83.48,99.25 84.65,98.89 85.79,98.7 C86.93,98.5 88.28,98.45 89.33,98.56 C90.37,98.66 91.43,98.8 92.06,99.31 C92.69,99.82 92.98,100.84 93.1,101.62 C93.21,102.4 93.04,103.11 92.77,103.98 C92.49,104.84 92.06,105.96 91.45,106.8 C90.84,107.64 90.03,108.48 89.09,109.02 C88.15,109.55 86.85,109.98 85.79,110.01 C84.73,110.03 83.67,109.61 82.73,109.16 C81.79,108.7 80.82,107.94 80.14,107.27 C79.46,106.61 78.87,105.86 78.63,105.15 C78.4,104.45 78.51,103.62 78.72,103.03 C78.94,102.44 79.27,102.17 79.9,101.62Z" fill="none" stroke="#111" stroke-width="0.72"/>
<path d="M80.59,101.91 C81.15,101.42 82.03,100.66 82.91,100.22 C83.79,99.78 84.85,99.47 85.87,99.29 C86.89,99.11 88.1,99.07 89.03,99.16 C89.97,99.26 90.92,99.38 91.48,99.84 C92.05,100.3 92.31,101.21 92.41,101.91 C92.52,102.61 92.36,103.25 92.12,104.02 C91.87,104.79 91.48,105.8 90.93,106.55 C90.38,107.31 89.67,108.06 88.82,108.54 C87.98,109.02 86.82,109.4 85.87,109.43 C84.92,109.45 83.97,109.07 83.12,108.67 C82.28,108.26 81.41,107.57 80.8,106.98 C80.19,106.38 79.66,105.71 79.45,105.08 C79.24,104.44 79.34,103.7 79.53,103.18 C79.72,102.65 80.03,102.4 80.59,101.91Z" fill="none" stroke="#111" stroke-width="0.72"/>
<path d="M81.26,102.19 C81.76,101.76 82.54,101.08 83.32,100.7 C84.1,100.31 85.03,100.03 85.94,99.87 C86.84,99.72 87.92,99.68 88.74,99.76 C89.57,99.84 90.42,99.96 90.91,100.36 C91.41,100.77 91.64,101.58 91.74,102.19 C91.83,102.81 91.69,103.38 91.47,104.06 C91.26,104.75 90.91,105.64 90.43,106.31 C89.94,106.97 89.31,107.64 88.56,108.07 C87.81,108.49 86.78,108.83 85.94,108.85 C85.1,108.87 84.26,108.54 83.51,108.18 C82.76,107.82 81.99,107.21 81.45,106.68 C80.91,106.15 80.44,105.56 80.25,105 C80.07,104.44 80.16,103.78 80.33,103.32 C80.5,102.85 80.76,102.63 81.26,102.19Z" fill="none" stroke="#111" stroke-width="0.72"/>
<path d="M81.93,102.47 C82.37,102.09 83.05,101.51 83.73,101.17 C84.41,100.83 85.22,100.59 86.01,100.45 C86.8,100.31 87.73,100.28 88.46,100.35 C89.18,100.42 89.92,100.52 90.35,100.87 C90.79,101.23 90.99,101.94 91.07,102.47 C91.15,103.01 91.03,103.51 90.84,104.11 C90.65,104.7 90.35,105.48 89.93,106.06 C89.5,106.65 88.95,107.23 88.3,107.6 C87.64,107.97 86.74,108.27 86.01,108.28 C85.28,108.3 84.54,108.01 83.89,107.7 C83.24,107.38 82.57,106.85 82.09,106.39 C81.62,105.93 81.21,105.41 81.05,104.92 C80.89,104.43 80.97,103.86 81.11,103.45 C81.26,103.05 81.49,102.85 81.93,102.47Z" fill="none" stroke="#111" stroke-width="0.72"/>
<path d="M82.59,102.75 C82.96,102.43 83.54,101.92 84.13,101.63 C84.71,101.35 85.41,101.14 86.08,101.02 C86.76,100.9 87.56,100.88 88.18,100.94 C88.79,101 89.42,101.08 89.8,101.38 C90.17,101.69 90.34,102.29 90.41,102.75 C90.48,103.21 90.38,103.64 90.21,104.15 C90.05,104.66 89.8,105.33 89.43,105.82 C89.07,106.32 88.59,106.82 88.04,107.14 C87.48,107.45 86.71,107.71 86.08,107.72 C85.45,107.74 84.82,107.49 84.27,107.22 C83.71,106.95 83.13,106.5 82.73,106.1 C82.32,105.71 81.98,105.27 81.84,104.85 C81.7,104.43 81.77,103.94 81.89,103.59 C82.02,103.24 82.22,103.08 82.59,102.75Z" fill="none" stroke="#111" stroke-width="0.72"/>
<path d="M83.24,103.03 C83.55,102.76 84.04,102.34 84.52,102.1 C85.01,101.86 85.59,101.68 86.15,101.58 C86.71,101.49 87.38,101.46 87.9,101.51 C88.41,101.57 88.94,101.64 89.25,101.89 C89.56,102.14 89.7,102.64 89.76,103.03 C89.82,103.41 89.73,103.76 89.59,104.19 C89.46,104.62 89.25,105.17 88.94,105.59 C88.64,106 88.25,106.42 87.78,106.68 C87.31,106.94 86.67,107.16 86.15,107.17 C85.63,107.18 85.1,106.97 84.64,106.75 C84.17,106.53 83.7,106.15 83.36,105.82 C83.02,105.49 82.73,105.12 82.61,104.77 C82.5,104.42 82.56,104.02 82.66,103.73 C82.77,103.43 82.93,103.3 83.24,103.03Z" fill="none" stroke="#111" stroke-width="0.72"/>
<path d="M83.89,103.3 C84.14,103.08 84.53,102.75 84.92,102.55 C85.3,102.36 85.77,102.22 86.22,102.14 C86.67,102.07 87.21,102.05 87.62,102.09 C88.03,102.13 88.45,102.18 88.7,102.39 C88.95,102.59 89.06,102.99 89.11,103.3 C89.16,103.61 89.09,103.89 88.98,104.23 C88.87,104.57 88.7,105.02 88.46,105.35 C88.22,105.68 87.9,106.02 87.53,106.23 C87.15,106.44 86.64,106.61 86.22,106.62 C85.8,106.63 85.38,106.46 85.01,106.28 C84.64,106.1 84.25,105.8 83.98,105.54 C83.71,105.27 83.48,104.98 83.39,104.7 C83.29,104.42 83.34,104.09 83.42,103.86 C83.51,103.63 83.64,103.52 83.89,103.3Z" fill="none" stroke="#111" stroke-width="0.72"/>
<path d="M84.53,103.57 C84.72,103.41 85.01,103.15 85.3,103.01 C85.6,102.86 85.95,102.76 86.29,102.7 C86.63,102.64 87.03,102.63 87.34,102.66 C87.66,102.69 87.97,102.73 88.16,102.88 C88.35,103.03 88.43,103.34 88.47,103.57 C88.5,103.8 88.45,104.02 88.37,104.27 C88.29,104.53 88.16,104.87 87.98,105.12 C87.79,105.37 87.55,105.62 87.27,105.78 C86.99,105.94 86.61,106.07 86.29,106.07 C85.97,106.08 85.66,105.96 85.37,105.82 C85.09,105.68 84.81,105.46 84.6,105.26 C84.4,105.06 84.22,104.84 84.15,104.63 C84.08,104.41 84.12,104.17 84.18,103.99 C84.24,103.82 84.34,103.73 84.53,103.57Z" fill="none" stroke="#111" stroke-width="0.72"/>
<path d="M85.17,103.84 C85.29,103.73 85.49,103.56 85.69,103.46 C85.89,103.36 86.13,103.29 86.36,103.25 C86.59,103.21 86.86,103.2 87.07,103.22 C87.28,103.24 87.5,103.27 87.62,103.37 C87.75,103.48 87.81,103.68 87.83,103.84 C87.86,104 87.82,104.14 87.77,104.31 C87.71,104.49 87.62,104.72 87.5,104.89 C87.38,105.05 87.21,105.22 87.02,105.33 C86.83,105.44 86.57,105.53 86.36,105.53 C86.14,105.54 85.93,105.45 85.74,105.36 C85.55,105.27 85.35,105.12 85.22,104.98 C85.08,104.85 84.96,104.69 84.91,104.55 C84.86,104.41 84.89,104.24 84.93,104.12 C84.97,104.01 85.04,103.95 85.17,103.84Z" fill="none" stroke="#111" stroke-width="0.72"/>
<path d="M85.8,104.11 C85.87,104.05 85.97,103.96 86.08,103.91 C86.18,103.85 86.3,103.82 86.42,103.8 C86.55,103.77 86.69,103.77 86.8,103.78 C86.91,103.79 87.02,103.81 87.09,103.86 C87.16,103.91 87.19,104.02 87.2,104.11 C87.21,104.19 87.19,104.26 87.17,104.36 C87.14,104.45 87.09,104.57 87.03,104.66 C86.96,104.74 86.88,104.83 86.78,104.89 C86.68,104.95 86.54,104.99 86.42,105 C86.31,105 86.2,104.95 86.1,104.91 C86,104.86 85.9,104.78 85.83,104.71 C85.75,104.63 85.69,104.56 85.67,104.48 C85.64,104.41 85.65,104.32 85.67,104.26 C85.7,104.19 85.73,104.16 85.8,104.11Z" fill="none" stroke="#111" stroke-width="0.72"/>
<path d="M75.93,99.94 C76.95,99.05 78.53,97.69 80.11,96.9 C81.7,96.11 83.6,95.54 85.43,95.23 C87.27,94.91 89.45,94.84 91.13,95 C92.82,95.16 94.53,95.39 95.54,96.22 C96.55,97.04 97.02,98.69 97.21,99.94 C97.4,101.19 97.12,102.35 96.68,103.74 C96.24,105.13 95.54,106.94 94.55,108.3 C93.56,109.66 92.27,111.01 90.75,111.87 C89.23,112.73 87.14,113.43 85.43,113.47 C83.72,113.51 82.01,112.83 80.49,112.1 C78.97,111.37 77.41,110.14 76.31,109.06 C75.21,107.98 74.26,106.78 73.88,105.64 C73.5,104.5 73.69,103.17 74.03,102.22 C74.37,101.27 74.92,100.83 75.93,99.94Z" fill="#141414" fill-opacity="0.85"/>
<path d="M76.7,100.27 C77.63,99.45 79.09,98.19 80.55,97.47 C82.01,96.75 83.76,96.22 85.45,95.93 C87.14,95.64 89.15,95.57 90.7,95.72 C92.25,95.87 93.83,96.08 94.76,96.84 C95.69,97.6 96.12,99.11 96.3,100.27 C96.47,101.42 96.22,102.49 95.81,103.77 C95.4,105.05 94.76,106.72 93.85,107.97 C92.94,109.22 91.75,110.47 90.35,111.26 C88.95,112.05 87.03,112.7 85.45,112.73 C83.88,112.77 82.3,112.15 80.9,111.47 C79.5,110.79 78.06,109.66 77.05,108.67 C76.03,107.68 75.16,106.57 74.81,105.52 C74.46,104.47 74.64,103.25 74.95,102.37 C75.27,101.5 75.77,101.09 76.7,100.27Z" fill="none" stroke="#666" stroke-width="0.35"/>
<path d="M79.5,101.45 C80.17,100.87 81.21,99.97 82.25,99.45 C83.29,98.93 84.54,98.56 85.75,98.35 C86.96,98.14 88.39,98.09 89.5,98.2 C90.61,98.31 91.73,98.46 92.4,99 C93.07,99.54 93.38,100.63 93.5,101.45 C93.62,102.28 93.44,103.03 93.15,103.95 C92.86,104.87 92.4,106.06 91.75,106.95 C91.1,107.84 90.25,108.73 89.25,109.3 C88.25,109.87 86.88,110.33 85.75,110.35 C84.62,110.38 83.5,109.93 82.5,109.45 C81.5,108.97 80.47,108.16 79.75,107.45 C79.03,106.74 78.4,105.95 78.15,105.2 C77.9,104.45 78.03,103.58 78.25,102.95 C78.47,102.33 78.83,102.03 79.5,101.45Z" fill="none" stroke="#666" stroke-width="0.35"/>
<path d="M82.3,102.63 C82.7,102.28 83.33,101.74 83.95,101.43 C84.58,101.12 85.33,100.89 86.05,100.77 C86.77,100.64 87.63,100.62 88.3,100.68 C88.97,100.75 89.64,100.83 90.04,101.16 C90.44,101.48 90.62,102.13 90.7,102.63 C90.78,103.12 90.66,103.58 90.49,104.13 C90.31,104.68 90.04,105.4 89.65,105.93 C89.26,106.47 88.75,107 88.15,107.34 C87.55,107.68 86.72,107.95 86.05,107.97 C85.38,107.98 84.7,107.72 84.1,107.43 C83.5,107.14 82.89,106.65 82.45,106.23 C82.02,105.8 81.64,105.33 81.49,104.88 C81.34,104.43 81.41,103.91 81.55,103.53 C81.69,103.16 81.9,102.98 82.3,102.63Z" fill="none" stroke="#666" stroke-width="0.35"/>
<path d="M85.1,103.81 C85.23,103.69 85.44,103.51 85.65,103.41 C85.86,103.31 86.11,103.23 86.35,103.19 C86.59,103.15 86.88,103.14 87.1,103.16 C87.32,103.18 87.55,103.21 87.68,103.32 C87.81,103.43 87.88,103.65 87.9,103.81 C87.93,103.97 87.89,104.13 87.83,104.31 C87.77,104.49 87.68,104.73 87.55,104.91 C87.42,105.09 87.25,105.27 87.05,105.38 C86.85,105.49 86.57,105.59 86.35,105.59 C86.12,105.59 85.9,105.51 85.7,105.41 C85.5,105.31 85.3,105.15 85.15,105.01 C85.01,104.87 84.88,104.71 84.83,104.56 C84.78,104.41 84.8,104.23 84.85,104.11 C84.89,103.98 84.97,103.93 85.1,103.81Z" fill="none" stroke="#666" stroke-width="0.35"/>
<ellipse cx="86.5" cy="104.4" rx="1.02" ry="0.77" fill="#fff"/>
<path d="M219.5,53.5 C221.25,53.83 223.53,54.75 225,56.5 C226.47,58.25 227.63,60.92 228.3,64 C228.97,67.08 228.8,71.33 229,75 C229.2,78.67 229.25,82.83 229.5,86 C229.75,89.17 230.08,91.83 230.5,94 C230.92,96.17 231.83,97.17 232,99 C232.17,100.83 232.17,103.08 231.5,105 C230.83,106.92 229.92,108.95 228,110.5 C226.08,112.05 223,113.72 220,114.3 C217,114.88 213.33,114.47 210,114 C206.67,113.53 202.58,112.83 200,111.5 C197.42,110.17 195.25,107.75 194.5,106 C193.75,104.25 194.42,102.5 195.5,101 C196.58,99.5 199.33,98.5 201,97 C202.67,95.5 204.67,94.83 205.5,92 C206.33,89.17 205.75,84 206,80 C206.25,76 206.25,71.67 207,68 C207.75,64.33 209.25,60.25 210.5,58 C211.75,55.75 213,55.25 214.5,54.5 C216,53.75 217.75,53.17 219.5,53.5Z" fill="none" stroke="#111" stroke-width="0.72"/>
<path d="M219.25,57.15 C220.82,57.45 222.88,58.27 224.2,59.85 C225.52,61.42 226.57,63.82 227.17,66.6 C227.77,69.38 227.62,73.2 227.8,76.5 C227.98,79.8 228.03,83.55 228.25,86.4 C228.47,89.25 228.78,91.65 229.15,93.6 C229.53,95.55 230.35,96.45 230.5,98.1 C230.65,99.75 230.65,101.78 230.05,103.5 C229.45,105.22 228.62,107.06 226.9,108.45 C225.18,109.84 222.4,111.34 219.7,111.87 C217,112.4 213.7,112.02 210.7,111.6 C207.7,111.18 204.02,110.55 201.7,109.35 C199.38,108.15 197.43,105.98 196.75,104.4 C196.07,102.83 196.68,101.25 197.65,99.9 C198.62,98.55 201.1,97.65 202.6,96.3 C204.1,94.95 205.9,94.35 206.65,91.8 C207.4,89.25 206.88,84.6 207.1,81 C207.32,77.4 207.32,73.5 208,70.2 C208.68,66.9 210.03,63.23 211.15,61.2 C212.28,59.18 213.4,58.72 214.75,58.05 C216.1,57.38 217.68,56.85 219.25,57.15Z" fill="none" stroke="#111" stroke-width="0.72"/>
<defs><clipPath id="cu1"><rect x="180" y="40" width="70" height="60"/></clipPath><clipPath id="cu4"><rect x="180" y="190" width="70" height="46"/></clipPath></defs>
<g clip-path="url(#cu1)">
<path d="M228,92 C227.47,95.32 226.78,98.76 226.01,101.96 C225.24,105.17 224.34,108.37 223.38,111.25 C222.42,114.13 221.35,116.87 220.28,119.22 C219.2,121.57 218.04,123.68 216.92,125.34 C215.79,127 214.62,128.33 213.53,129.19 C212.43,130.05 211.33,130.5 210.34,130.5 C209.35,130.5 208.39,130.05 207.57,129.19 C206.75,128.33 206.01,127 205.42,125.34 C204.82,123.68 204.34,121.57 204.01,119.22 C203.69,116.87 203.5,114.13 203.46,111.25 C203.42,108.37 203.54,105.17 203.8,101.96 C204.05,98.76 204.47,95.32 205,92 C205.53,88.68 206.22,85.24 206.99,82.04 C207.76,78.83 208.66,75.63 209.62,72.75 C210.58,69.87 211.65,67.13 212.72,64.78 C213.8,62.43 214.96,60.32 216.08,58.66 C217.21,57 218.38,55.67 219.47,54.81 C220.57,53.95 221.67,53.5 222.66,53.5 C223.65,53.5 224.61,53.95 225.43,54.81 C226.25,55.67 226.99,57 227.58,58.66 C228.18,60.32 228.66,62.43 228.99,64.78 C229.31,67.13 229.5,69.87 229.54,72.75 C229.58,75.63 229.46,78.83 229.2,82.04 C228.95,85.24 228.53,88.68 228,92Z" fill="none" stroke="#111" stroke-width="0.72"/>
<path d="M226.75,91.67 C226.27,94.65 225.66,97.74 224.98,100.62 C224.3,103.5 223.5,106.37 222.65,108.96 C221.81,111.54 220.88,114.01 219.93,116.12 C218.99,118.23 217.98,120.12 217,121.62 C216.02,123.11 215.01,124.3 214.06,125.07 C213.11,125.84 212.16,126.25 211.3,126.25 C210.44,126.25 209.62,125.84 208.92,125.07 C208.22,124.3 207.59,123.11 207.08,121.62 C206.58,120.12 206.18,118.23 205.91,116.12 C205.64,114.01 205.49,111.54 205.48,108.96 C205.46,106.37 205.58,103.5 205.82,100.62 C206.06,97.74 206.44,94.65 206.92,91.67 C207.39,88.68 208,85.6 208.69,82.72 C209.37,79.83 210.17,76.96 211.01,74.38 C211.85,71.79 212.79,69.32 213.73,67.21 C214.68,65.1 215.69,63.21 216.67,61.72 C217.65,60.22 218.66,59.03 219.61,58.26 C220.56,57.49 221.51,57.08 222.37,57.08 C223.22,57.08 224.04,57.49 224.74,58.26 C225.45,59.03 226.08,60.22 226.58,61.72 C227.09,63.21 227.49,65.1 227.76,67.21 C228.03,69.32 228.17,71.79 228.19,74.38 C228.2,76.96 228.08,79.83 227.84,82.72 C227.6,85.6 227.23,88.68 226.75,91.67Z" fill="none" stroke="#111" stroke-width="0.72"/>
<path d="M225.5,91.33 C225.08,93.98 224.54,96.71 223.95,99.27 C223.35,101.83 222.66,104.38 221.93,106.67 C221.2,108.96 220.4,111.15 219.59,113.02 C218.78,114.89 217.92,116.57 217.08,117.89 C216.25,119.21 215.39,120.27 214.58,120.96 C213.78,121.64 212.98,122 212.26,122 C211.54,122 210.86,121.64 210.27,120.96 C209.69,120.27 209.16,119.21 208.75,117.89 C208.34,116.57 208.01,114.89 207.8,113.02 C207.6,111.15 207.49,108.96 207.5,106.67 C207.5,104.38 207.62,101.83 207.85,99.27 C208.07,96.71 208.41,93.98 208.83,91.33 C209.26,88.69 209.79,85.95 210.39,83.4 C210.98,80.84 211.68,78.29 212.4,76 C213.13,73.71 213.94,71.52 214.74,69.65 C215.55,67.78 216.42,66.1 217.25,64.78 C218.08,63.45 218.95,62.4 219.75,61.71 C220.55,61.03 221.35,60.67 222.07,60.67 C222.79,60.67 223.48,61.03 224.06,61.71 C224.65,62.4 225.17,63.45 225.58,64.78 C225.99,66.1 226.32,67.78 226.53,69.65 C226.74,71.52 226.84,73.71 226.84,76 C226.83,78.29 226.71,80.84 226.49,83.4 C226.26,85.95 225.92,88.69 225.5,91.33Z" fill="none" stroke="#111" stroke-width="0.72"/>
<path d="M224.25,91 C223.88,93.31 223.42,95.69 222.91,97.92 C222.4,100.15 221.82,102.38 221.21,104.38 C220.59,106.37 219.92,108.28 219.25,109.92 C218.57,111.55 217.86,113.01 217.17,114.17 C216.48,115.32 215.77,116.24 215.11,116.84 C214.45,117.44 213.8,117.75 213.22,117.75 C212.64,117.75 212.09,117.44 211.62,116.84 C211.15,116.24 210.74,115.32 210.42,114.17 C210.1,113.01 209.85,111.55 209.7,109.92 C209.55,108.28 209.49,106.37 209.51,104.38 C209.54,102.38 209.67,100.15 209.87,97.92 C210.08,95.69 210.38,93.31 210.75,91 C211.12,88.69 211.58,86.31 212.09,84.08 C212.6,81.85 213.18,79.62 213.79,77.62 C214.41,75.63 215.08,73.72 215.75,72.08 C216.43,70.45 217.14,68.99 217.83,67.83 C218.52,66.68 219.23,65.76 219.89,65.16 C220.55,64.56 221.2,64.25 221.78,64.25 C222.36,64.25 222.91,64.56 223.38,65.16 C223.85,65.76 224.26,66.68 224.58,67.83 C224.9,68.99 225.15,70.45 225.3,72.08 C225.45,73.72 225.51,75.63 225.49,77.62 C225.46,79.62 225.33,81.85 225.13,84.08 C224.92,86.31 224.62,88.69 224.25,91Z" fill="none" stroke="#111" stroke-width="0.72"/>
<path d="M223,90.67 C222.68,92.64 222.3,94.67 221.88,96.58 C221.46,98.48 220.98,100.38 220.48,102.08 C219.99,103.79 219.44,105.42 218.9,106.81 C218.37,108.21 217.8,109.46 217.25,110.44 C216.71,111.43 216.15,112.21 215.64,112.72 C215.13,113.23 214.63,113.5 214.18,113.5 C213.73,113.5 213.32,113.23 212.97,112.72 C212.62,112.21 212.31,111.43 212.09,110.44 C211.86,109.46 211.69,108.21 211.6,106.81 C211.5,105.42 211.48,103.79 211.53,102.08 C211.58,100.38 211.71,98.48 211.9,96.58 C212.09,94.67 212.35,92.64 212.67,90.67 C212.98,88.7 213.37,86.66 213.79,84.76 C214.21,82.85 214.69,80.96 215.19,79.25 C215.68,77.54 216.23,75.91 216.76,74.52 C217.3,73.13 217.87,71.88 218.41,70.89 C218.96,69.91 219.51,69.12 220.02,68.61 C220.54,68.1 221.04,67.83 221.49,67.83 C221.93,67.83 222.35,68.1 222.7,68.61 C223.05,69.12 223.35,69.91 223.58,70.89 C223.81,71.88 223.98,73.13 224.07,74.52 C224.16,75.91 224.18,77.54 224.13,79.25 C224.08,80.96 223.96,82.85 223.77,84.76 C223.58,86.66 223.32,88.7 223,90.67Z" fill="none" stroke="#111" stroke-width="0.72"/>
<path d="M221.75,90.33 C221.49,91.97 221.18,93.65 220.84,95.23 C220.51,96.81 220.14,98.38 219.76,99.79 C219.38,101.21 218.96,102.56 218.56,103.71 C218.16,104.86 217.74,105.9 217.34,106.72 C216.94,107.53 216.54,108.18 216.17,108.61 C215.8,109.03 215.45,109.25 215.14,109.25 C214.83,109.25 214.55,109.03 214.32,108.61 C214.08,108.18 213.89,107.53 213.75,106.72 C213.62,105.9 213.53,104.86 213.49,103.71 C213.46,102.56 213.48,101.21 213.55,99.79 C213.62,98.38 213.75,96.81 213.92,95.23 C214.09,93.65 214.32,91.97 214.58,90.33 C214.84,88.7 215.16,87.01 215.49,85.44 C215.82,83.86 216.2,82.29 216.58,80.88 C216.96,79.46 217.37,78.11 217.77,76.96 C218.18,75.8 218.6,74.77 219,73.95 C219.39,73.14 219.8,72.48 220.16,72.06 C220.53,71.64 220.88,71.42 221.19,71.42 C221.5,71.42 221.79,71.64 222.02,72.06 C222.25,72.48 222.44,73.14 222.58,73.95 C222.72,74.77 222.81,75.8 222.84,76.96 C222.87,78.11 222.85,79.46 222.78,80.88 C222.71,82.29 222.58,83.86 222.41,85.44 C222.24,87.01 222.01,88.7 221.75,90.33Z" fill="none" stroke="#111" stroke-width="0.72"/>
<path d="M220.5,90 C220.29,91.29 220.06,92.63 219.81,93.88 C219.57,95.13 219.3,96.38 219.03,97.5 C218.77,98.62 218.49,99.69 218.22,100.61 C217.95,101.52 217.67,102.34 217.42,102.99 C217.17,103.64 216.92,104.15 216.7,104.49 C216.48,104.82 216.27,105 216.1,105 C215.93,105 215.78,104.82 215.66,104.49 C215.55,104.15 215.47,103.64 215.42,102.99 C215.38,102.34 215.36,101.52 215.39,100.61 C215.41,99.69 215.47,98.62 215.57,97.5 C215.66,96.38 215.79,95.13 215.95,93.88 C216.1,92.63 216.29,91.29 216.5,90 C216.71,88.71 216.94,87.37 217.19,86.12 C217.43,84.87 217.7,83.62 217.97,82.5 C218.23,81.38 218.51,80.31 218.78,79.39 C219.05,78.48 219.33,77.66 219.58,77.01 C219.83,76.36 220.08,75.85 220.3,75.51 C220.52,75.18 220.73,75 220.9,75 C221.07,75 221.22,75.18 221.34,75.51 C221.45,75.85 221.53,76.36 221.58,77.01 C221.62,77.66 221.64,78.48 221.61,79.39 C221.59,80.31 221.53,81.38 221.43,82.5 C221.34,83.62 221.21,84.87 221.05,86.12 C220.9,87.37 220.71,88.71 220.5,90Z" fill="none" stroke="#111" stroke-width="0.72"/>
</g>
<path d="M225.54,90.61 C227.28,91.25 229.31,92.52 230.29,93.94 C231.27,95.36 231.35,97.34 231.43,99.17 C231.51,100.99 231.43,103.04 230.76,104.86 C230.1,106.69 229.26,108.62 227.44,110.09 C225.62,111.56 222.69,113.15 219.84,113.7 C216.99,114.25 213.51,113.86 210.34,113.41 C207.17,112.97 203.29,112.31 200.84,111.04 C198.39,109.77 196.33,107.48 195.62,105.81 C194.9,104.15 195.54,102.49 196.56,101.06 C197.59,99.64 199.97,98.37 201.79,97.27 C203.61,96.16 205.59,95.37 207.49,94.42 C209.39,93.47 211.13,92.28 213.19,91.56 C215.25,90.85 217.78,90.3 219.84,90.14 C221.9,89.98 223.8,89.98 225.54,90.61Z" fill="#fff" fill-opacity="1.0"/>
<path d="M225.72,90.37 C227.5,91.02 229.57,92.31 230.57,93.76 C231.58,95.22 231.66,97.24 231.74,99.1 C231.82,100.96 231.74,103.06 231.06,104.92 C230.38,106.78 229.52,108.75 227.66,110.25 C225.8,111.76 222.81,113.37 219.9,113.94 C216.99,114.51 213.44,114.1 210.2,113.65 C206.97,113.2 203.01,112.52 200.5,111.22 C198,109.93 195.9,107.59 195.17,105.89 C194.44,104.19 195.09,102.49 196.14,101.04 C197.19,99.58 199.61,98.29 201.47,97.16 C203.33,96.03 205.35,95.22 207.29,94.25 C209.23,93.28 211.01,92.07 213.11,91.34 C215.22,90.61 217.8,90.05 219.9,89.88 C222.01,89.72 223.95,89.72 225.72,90.37Z" fill="none" stroke="#111" stroke-width="0.72"/>
<path d="M225.13,91.16 C226.79,91.76 228.73,92.97 229.66,94.33 C230.6,95.69 230.67,97.58 230.75,99.31 C230.82,101.05 230.75,103.01 230.11,104.75 C229.48,106.48 228.68,108.32 226.94,109.73 C225.21,111.13 222.42,112.64 219.7,113.17 C216.98,113.7 213.66,113.32 210.64,112.9 C207.62,112.47 203.92,111.84 201.58,110.63 C199.24,109.42 197.28,107.24 196.6,105.65 C195.92,104.07 196.53,102.48 197.51,101.12 C198.49,99.76 200.75,98.56 202.49,97.5 C204.23,96.44 206.11,95.69 207.92,94.78 C209.74,93.88 211.4,92.74 213.36,92.07 C215.32,91.39 217.74,90.86 219.7,90.71 C221.66,90.56 223.47,90.56 225.13,91.16Z" fill="none" stroke="#111" stroke-width="0.72"/>
<path d="M224.62,91.84 C226.18,92.41 227.99,93.54 228.87,94.82 C229.75,96.09 229.82,97.87 229.89,99.49 C229.96,101.12 229.89,102.97 229.3,104.6 C228.7,106.22 227.95,107.95 226.32,109.27 C224.69,110.59 222.07,112 219.52,112.5 C216.97,113 213.85,112.64 211.02,112.25 C208.19,111.85 204.72,111.25 202.52,110.12 C200.32,108.99 198.48,106.93 197.84,105.45 C197.21,103.96 197.77,102.47 198.69,101.19 C199.62,99.92 201.74,98.79 203.37,97.79 C205,96.8 206.77,96.09 208.47,95.24 C210.17,94.39 211.73,93.33 213.57,92.69 C215.41,92.06 217.68,91.56 219.52,91.42 C221.36,91.28 223.06,91.28 224.62,91.84Z" fill="none" stroke="#111" stroke-width="0.72"/>
<path d="M224.13,92.49 C225.6,93.03 227.3,94.09 228.12,95.28 C228.94,96.48 229.01,98.14 229.08,99.67 C229.14,101.2 229.08,102.92 228.52,104.45 C227.96,105.98 227.26,107.6 225.73,108.84 C224.2,110.07 221.74,111.4 219.35,111.87 C216.96,112.33 214.04,112 211.38,111.63 C208.72,111.26 205.47,110.7 203.41,109.63 C201.35,108.57 199.62,106.64 199.02,105.25 C198.42,103.85 198.96,102.46 199.82,101.26 C200.68,100.07 202.68,99 204.2,98.07 C205.73,97.14 207.39,96.48 208.99,95.68 C210.58,94.89 212.04,93.89 213.77,93.29 C215.5,92.69 217.62,92.23 219.35,92.1 C221.08,91.96 222.67,91.96 224.13,92.49Z" fill="none" stroke="#111" stroke-width="0.72"/>
<path d="M223.66,93.12 C225.03,93.62 226.62,94.61 227.39,95.73 C228.17,96.85 228.23,98.41 228.29,99.84 C228.35,101.27 228.29,102.88 227.77,104.31 C227.25,105.74 226.59,107.26 225.16,108.42 C223.73,109.57 221.43,110.82 219.19,111.25 C216.95,111.69 214.21,111.38 211.73,111.03 C209.24,110.68 206.19,110.16 204.27,109.16 C202.34,108.17 200.72,106.37 200.16,105.06 C199.6,103.75 200.1,102.45 200.91,101.33 C201.72,100.21 203.58,99.22 205.01,98.35 C206.44,97.48 208,96.85 209.49,96.11 C210.98,95.36 212.35,94.43 213.96,93.87 C215.58,93.31 217.57,92.87 219.19,92.75 C220.8,92.63 222.3,92.63 223.66,93.12Z" fill="none" stroke="#111" stroke-width="0.72"/>
<path d="M223.21,93.74 C224.48,94.2 225.97,95.13 226.69,96.17 C227.41,97.22 227.47,98.67 227.52,100 C227.58,101.34 227.52,102.85 227.04,104.18 C226.55,105.51 225.93,106.93 224.6,108.01 C223.26,109.09 221.12,110.25 219.03,110.66 C216.94,111.06 214.39,110.77 212.06,110.45 C209.74,110.12 206.9,109.63 205.1,108.71 C203.3,107.78 201.79,106.09 201.27,104.88 C200.75,103.66 201.21,102.44 201.97,101.39 C202.72,100.35 204.46,99.42 205.8,98.61 C207.13,97.8 208.58,97.22 209.98,96.52 C211.37,95.82 212.65,94.95 214.15,94.43 C215.66,93.91 217.52,93.5 219.03,93.39 C220.54,93.27 221.93,93.27 223.21,93.74Z" fill="none" stroke="#111" stroke-width="0.72"/>
<path d="M222.76,94.34 C223.94,94.77 225.33,95.63 225.99,96.6 C226.66,97.57 226.72,98.92 226.77,100.16 C226.83,101.4 226.77,102.81 226.32,104.05 C225.87,105.29 225.29,106.61 224.05,107.61 C222.81,108.61 220.81,109.69 218.87,110.07 C216.93,110.45 214.56,110.18 212.4,109.88 C210.24,109.57 207.59,109.12 205.92,108.26 C204.25,107.39 202.85,105.83 202.36,104.7 C201.87,103.56 202.31,102.43 203.01,101.46 C203.71,100.49 205.33,99.62 206.57,98.87 C207.81,98.11 209.16,97.57 210.45,96.93 C211.75,96.28 212.94,95.47 214.34,94.98 C215.74,94.5 217.47,94.12 218.87,94.01 C220.28,93.9 221.57,93.9 222.76,94.34Z" fill="none" stroke="#111" stroke-width="0.72"/>
<path d="M222.32,94.93 C223.41,95.33 224.69,96.12 225.31,97.02 C225.93,97.92 225.98,99.17 226.03,100.32 C226.08,101.47 226.03,102.77 225.61,103.92 C225.19,105.07 224.66,106.29 223.51,107.22 C222.37,108.15 220.52,109.14 218.72,109.49 C216.92,109.84 214.72,109.59 212.72,109.31 C210.72,109.03 208.28,108.62 206.73,107.82 C205.18,107.02 203.88,105.57 203.43,104.52 C202.98,103.47 203.38,102.42 204.03,101.52 C204.68,100.62 206.18,99.82 207.33,99.12 C208.48,98.42 209.73,97.92 210.92,97.32 C212.12,96.72 213.22,95.97 214.52,95.53 C215.82,95.08 217.42,94.73 218.72,94.63 C220.02,94.53 221.22,94.53 222.32,94.93Z" fill="none" stroke="#111" stroke-width="0.72"/>
<path d="M221.88,95.51 C222.89,95.88 224.07,96.61 224.64,97.44 C225.21,98.27 225.26,99.42 225.3,100.48 C225.35,101.54 225.3,102.73 224.92,103.79 C224.53,104.85 224.04,105.97 222.98,106.83 C221.93,107.68 220.22,108.6 218.57,108.93 C216.91,109.25 214.89,109.02 213.04,108.76 C211.2,108.5 208.95,108.12 207.52,107.38 C206.1,106.64 204.9,105.31 204.49,104.34 C204.07,103.38 204.44,102.41 205.04,101.58 C205.64,100.75 207.02,100.02 208.07,99.37 C209.13,98.73 210.28,98.27 211.39,97.72 C212.49,97.16 213.51,96.47 214.7,96.06 C215.9,95.65 217.37,95.32 218.57,95.23 C219.76,95.14 220.87,95.14 221.88,95.51Z" fill="none" stroke="#111" stroke-width="0.72"/>
<path d="M221.45,96.08 C222.38,96.42 223.46,97.09 223.98,97.85 C224.5,98.61 224.54,99.66 224.58,100.63 C224.63,101.6 224.58,102.7 224.23,103.66 C223.88,104.63 223.43,105.66 222.46,106.45 C221.49,107.23 219.93,108.07 218.42,108.37 C216.9,108.66 215.05,108.45 213.36,108.21 C211.68,107.98 209.61,107.62 208.31,106.95 C207,106.28 205.91,105.06 205.53,104.17 C205.15,103.29 205.49,102.4 206.03,101.64 C206.58,100.88 207.84,100.21 208.81,99.62 C209.78,99.03 210.84,98.61 211.85,98.1 C212.86,97.6 213.78,96.97 214.88,96.59 C215.97,96.21 217.32,95.91 218.42,95.83 C219.51,95.75 220.52,95.75 221.45,96.08Z" fill="none" stroke="#111" stroke-width="0.72"/>
<path d="M221.03,96.65 C221.87,96.96 222.85,97.57 223.32,98.26 C223.8,98.95 223.83,99.9 223.87,100.78 C223.91,101.66 223.87,102.66 223.55,103.54 C223.23,104.42 222.82,105.35 221.94,106.07 C221.06,106.78 219.65,107.54 218.27,107.81 C216.89,108.08 215.21,107.89 213.68,107.67 C212.15,107.46 210.27,107.14 209.08,106.53 C207.9,105.91 206.9,104.8 206.56,104 C206.21,103.2 206.52,102.39 207.02,101.7 C207.51,101.01 208.66,100.4 209.54,99.87 C210.42,99.33 211.38,98.95 212.3,98.49 C213.22,98.03 214.06,97.45 215.05,97.11 C216.05,96.77 217.27,96.5 218.27,96.42 C219.26,96.34 220.18,96.34 221.03,96.65Z" fill="none" stroke="#111" stroke-width="0.72"/>
<path d="M220.6,97.21 C221.36,97.49 222.25,98.04 222.67,98.66 C223.1,99.28 223.13,100.14 223.17,100.94 C223.2,101.73 223.17,102.62 222.88,103.42 C222.59,104.21 222.22,105.05 221.43,105.69 C220.64,106.33 219.36,107.02 218.12,107.26 C216.88,107.5 215.37,107.33 213.99,107.14 C212.61,106.95 210.92,106.66 209.85,106.1 C208.78,105.55 207.89,104.55 207.58,103.83 C207.27,103.11 207.54,102.38 207.99,101.76 C208.44,101.14 209.47,100.59 210.27,100.11 C211.06,99.63 211.92,99.28 212.75,98.87 C213.57,98.45 214.33,97.94 215.23,97.63 C216.12,97.32 217.23,97.08 218.12,97.01 C219.02,96.94 219.85,96.94 220.6,97.21Z" fill="none" stroke="#111" stroke-width="0.72"/>
<path d="M220.19,97.77 C220.86,98.02 221.65,98.51 222.03,99.06 C222.41,99.61 222.44,100.38 222.47,101.08 C222.5,101.79 222.47,102.59 222.21,103.29 C221.96,104 221.63,104.75 220.92,105.32 C220.22,105.89 219.08,106.5 217.98,106.72 C216.87,106.93 215.52,106.78 214.3,106.61 C213.07,106.44 211.56,106.18 210.61,105.69 C209.66,105.2 208.86,104.31 208.59,103.66 C208.31,103.02 208.56,102.37 208.96,101.82 C209.36,101.27 210.28,100.78 210.98,100.35 C211.69,99.92 212.45,99.61 213.19,99.24 C213.93,98.88 214.6,98.42 215.4,98.14 C216.2,97.86 217.18,97.65 217.98,97.59 C218.78,97.53 219.51,97.53 220.19,97.77Z" fill="none" stroke="#111" stroke-width="0.72"/>
<path d="M219.77,98.32 C220.37,98.54 221.06,98.97 221.39,99.46 C221.72,99.94 221.75,100.61 221.78,101.23 C221.81,101.85 221.78,102.55 221.55,103.17 C221.33,103.79 221.04,104.45 220.42,104.95 C219.8,105.45 218.8,105.99 217.83,106.18 C216.86,106.37 215.68,106.23 214.6,106.08 C213.52,105.93 212.2,105.71 211.37,105.27 C210.53,104.84 209.83,104.06 209.59,103.5 C209.35,102.93 209.56,102.36 209.91,101.88 C210.26,101.39 211.07,100.96 211.69,100.59 C212.31,100.21 212.99,99.94 213.63,99.62 C214.28,99.29 214.87,98.89 215.57,98.65 C216.27,98.4 217.13,98.22 217.83,98.16 C218.53,98.11 219.18,98.11 219.77,98.32Z" fill="none" stroke="#111" stroke-width="0.72"/>
<path d="M219.36,98.87 C219.87,99.06 220.47,99.43 220.76,99.85 C221.05,100.27 221.07,100.85 221.09,101.38 C221.11,101.91 221.09,102.52 220.9,103.05 C220.7,103.59 220.46,104.15 219.92,104.59 C219.39,105.02 218.53,105.48 217.69,105.64 C216.86,105.81 215.83,105.69 214.9,105.56 C213.98,105.43 212.84,105.24 212.12,104.86 C211.4,104.49 210.79,103.82 210.59,103.33 C210.38,102.84 210.56,102.36 210.86,101.94 C211.17,101.52 211.86,101.15 212.4,100.82 C212.93,100.5 213.51,100.27 214.07,99.99 C214.63,99.71 215.14,99.36 215.74,99.15 C216.34,98.94 217.09,98.78 217.69,98.73 C218.3,98.69 218.85,98.69 219.36,98.87Z" fill="none" stroke="#111" stroke-width="0.72"/>
<path d="M218.96,99.42 C219.39,99.57 219.89,99.89 220.13,100.24 C220.37,100.59 220.39,101.08 220.41,101.53 C220.43,101.98 220.41,102.48 220.25,102.93 C220.08,103.38 219.87,103.86 219.43,104.22 C218.98,104.59 218.25,104.98 217.55,105.11 C216.85,105.25 215.99,105.15 215.21,105.04 C214.42,104.93 213.47,104.77 212.86,104.46 C212.26,104.14 211.75,103.58 211.57,103.17 C211.4,102.76 211.55,102.35 211.81,102 C212.06,101.64 212.65,101.33 213.1,101.06 C213.55,100.78 214.03,100.59 214.5,100.35 C214.97,100.12 215.4,99.83 215.91,99.65 C216.42,99.48 217.04,99.34 217.55,99.3 C218.06,99.26 218.53,99.26 218.96,99.42Z" fill="none" stroke="#111" stroke-width="0.72"/>
<path d="M218.55,99.96 C218.9,100.08 219.31,100.34 219.5,100.62 C219.7,100.91 219.72,101.31 219.73,101.67 C219.75,102.04 219.73,102.45 219.6,102.81 C219.47,103.18 219.3,103.57 218.93,103.86 C218.57,104.16 217.98,104.47 217.41,104.58 C216.84,104.7 216.14,104.62 215.51,104.53 C214.87,104.44 214.09,104.31 213.6,104.05 C213.11,103.8 212.7,103.34 212.55,103 C212.41,102.67 212.54,102.34 212.74,102.05 C212.95,101.77 213.43,101.51 213.79,101.29 C214.16,101.07 214.55,100.91 214.93,100.72 C215.31,100.53 215.66,100.29 216.08,100.15 C216.49,100.01 217,99.89 217.41,99.86 C217.82,99.83 218.2,99.83 218.55,99.96Z" fill="none" stroke="#111" stroke-width="0.72"/>
<path d="M218.15,100.5 C218.42,100.59 218.73,100.79 218.88,101.01 C219.03,101.23 219.05,101.53 219.06,101.82 C219.07,102.1 219.06,102.41 218.96,102.7 C218.85,102.98 218.72,103.28 218.44,103.5 C218.16,103.73 217.71,103.97 217.27,104.06 C216.83,104.15 216.29,104.08 215.8,104.02 C215.31,103.95 214.71,103.85 214.34,103.65 C213.96,103.45 213.64,103.1 213.53,102.84 C213.42,102.59 213.52,102.33 213.68,102.11 C213.83,101.89 214.2,101.69 214.48,101.52 C214.76,101.35 215.07,101.23 215.36,101.08 C215.66,100.94 215.92,100.75 216.24,100.64 C216.56,100.53 216.95,100.45 217.27,100.42 C217.59,100.4 217.88,100.4 218.15,100.5Z" fill="none" stroke="#111" stroke-width="0.72"/>
<path d="M217.75,101.03 C217.94,101.1 218.16,101.24 218.27,101.39 C218.37,101.55 218.38,101.76 218.39,101.96 C218.4,102.16 218.39,102.38 218.32,102.58 C218.25,102.78 218.15,102.99 217.96,103.15 C217.76,103.31 217.44,103.48 217.13,103.54 C216.82,103.6 216.44,103.56 216.1,103.51 C215.75,103.46 215.33,103.39 215.07,103.25 C214.8,103.11 214.58,102.86 214.5,102.68 C214.42,102.5 214.49,102.32 214.6,102.17 C214.71,102.01 214.97,101.87 215.17,101.75 C215.37,101.63 215.58,101.55 215.79,101.44 C215.99,101.34 216.18,101.21 216.41,101.13 C216.63,101.06 216.91,101 217.13,100.98 C217.35,100.96 217.56,100.96 217.75,101.03Z" fill="none" stroke="#111" stroke-width="0.72"/>
<path d="M217.35,101.56 C217.46,101.6 217.59,101.68 217.65,101.77 C217.71,101.86 217.72,101.99 217.72,102.1 C217.73,102.22 217.72,102.35 217.68,102.46 C217.64,102.58 217.59,102.7 217.47,102.79 C217.36,102.89 217.17,102.98 216.99,103.02 C216.81,103.05 216.59,103.03 216.39,103 C216.19,102.97 215.95,102.93 215.79,102.85 C215.64,102.77 215.51,102.63 215.46,102.52 C215.42,102.42 215.46,102.31 215.52,102.22 C215.59,102.13 215.74,102.05 215.85,101.98 C215.97,101.91 216.09,101.86 216.21,101.8 C216.33,101.74 216.44,101.67 216.57,101.62 C216.7,101.58 216.86,101.54 216.99,101.53 C217.12,101.52 217.24,101.52 217.35,101.56Z" fill="none" stroke="#111" stroke-width="0.72"/>
<path d="M222.77,94.75 C223.91,95.16 225.23,95.99 225.87,96.92 C226.51,97.85 226.56,99.14 226.61,100.33 C226.67,101.52 226.61,102.86 226.18,104.05 C225.75,105.24 225.2,106.5 224.01,107.46 C222.82,108.42 220.91,109.45 219.05,109.82 C217.19,110.18 214.92,109.92 212.85,109.63 C210.78,109.34 208.25,108.91 206.65,108.08 C205.05,107.25 203.71,105.75 203.24,104.67 C202.78,103.59 203.19,102.5 203.86,101.57 C204.53,100.64 206.08,99.81 207.27,99.09 C208.46,98.37 209.75,97.85 210.99,97.23 C212.23,96.61 213.37,95.84 214.71,95.37 C216.05,94.91 217.71,94.54 219.05,94.44 C220.39,94.34 221.63,94.34 222.77,94.75Z" fill="#161616" fill-opacity="0.6"/>
<ellipse cx="216.8" cy="102.3" rx="1.08" ry="0.81" fill="#fff"/>
<path d="M92,191.5 C94,191.75 96,192.58 98,193.5 C100,194.42 102.75,196 104,197 C105.25,198 105.75,198.17 105.5,199.5 C105.25,200.83 103.42,202.58 102.5,205 C101.58,207.42 100.42,210.67 100,214 C99.58,217.33 99.75,221.83 100,225 C100.25,228.17 101.25,230.33 101.5,233 C101.75,235.67 102.08,238.33 101.5,241 C100.92,243.67 99.58,247 98,249 C96.42,251 94.67,252.13 92,253 C89.33,253.87 85.17,254.62 82,254.2 C78.83,253.78 75.5,252.12 73,250.5 C70.5,248.88 67.92,246.42 67,244.5 C66.08,242.58 66.5,241.58 67.5,239 C68.5,236.42 71.75,232.67 73,229 C74.25,225.33 74.5,221.17 75,217 C75.5,212.83 75.17,207.58 76,204 C76.83,200.42 78.33,197.5 80,195.5 C81.67,193.5 84,192.67 86,192 C88,191.33 90,191.25 92,191.5Z" fill="none" stroke="#111" stroke-width="0.72"/>
<path d="M91.76,192.93 C93.6,193.16 95.44,193.95 97.28,194.82 C99.12,195.7 101.65,197.2 102.8,198.15 C103.95,199.1 104.41,199.26 104.18,200.53 C103.95,201.79 102.26,203.45 101.42,205.75 C100.58,208.05 99.5,211.13 99.12,214.3 C98.74,217.47 98.89,221.74 99.12,224.75 C99.35,227.76 100.27,229.82 100.5,232.35 C100.73,234.88 101.04,237.42 100.5,239.95 C99.96,242.48 98.74,245.65 97.28,247.55 C95.82,249.45 94.21,250.53 91.76,251.35 C89.31,252.17 85.47,252.89 82.56,252.49 C79.65,252.09 76.58,250.51 74.28,248.97 C71.98,247.44 69.6,245.1 68.76,243.28 C67.92,241.45 68.3,240.5 69.22,238.05 C70.14,235.6 73.13,232.03 74.28,228.55 C75.43,225.07 75.66,221.11 76.12,217.15 C76.58,213.19 76.27,208.2 77.04,204.8 C77.81,201.4 79.19,198.62 80.72,196.72 C82.25,194.82 84.4,194.03 86.24,193.4 C88.08,192.77 89.92,192.69 91.76,192.93Z" fill="none" stroke="#111" stroke-width="0.72"/>
<path d="M91.52,194.35 C93.2,194.57 94.88,195.32 96.56,196.15 C98.24,196.98 100.55,198.4 101.6,199.3 C102.65,200.2 103.07,200.35 102.86,201.55 C102.65,202.75 101.11,204.32 100.34,206.5 C99.57,208.68 98.59,211.6 98.24,214.6 C97.89,217.6 98.03,221.65 98.24,224.5 C98.45,227.35 99.29,229.3 99.5,231.7 C99.71,234.1 99.99,236.5 99.5,238.9 C99.01,241.3 97.89,244.3 96.56,246.1 C95.23,247.9 93.76,248.92 91.52,249.7 C89.28,250.48 85.78,251.16 83.12,250.78 C80.46,250.41 77.66,248.9 75.56,247.45 C73.46,246 71.29,243.78 70.52,242.05 C69.75,240.33 70.1,239.43 70.94,237.1 C71.78,234.77 74.51,231.4 75.56,228.1 C76.61,224.8 76.82,221.05 77.24,217.3 C77.66,213.55 77.38,208.82 78.08,205.6 C78.78,202.38 80.04,199.75 81.44,197.95 C82.84,196.15 84.8,195.4 86.48,194.8 C88.16,194.2 89.84,194.12 91.52,194.35Z" fill="none" stroke="#111" stroke-width="0.72"/>
<defs><clipPath id="cu3"><rect x="50" y="212" width="70" height="26"/></clipPath></defs>
<g clip-path="url(#cu3)">
<path d="M99.48,226.7 C99.36,228.33 99.13,230.02 98.79,231.58 C98.46,233.14 98.01,234.69 97.48,236.08 C96.95,237.47 96.31,238.78 95.62,239.9 C94.93,241.01 94.14,242 93.34,242.76 C92.54,243.53 91.66,244.12 90.8,244.49 C89.94,244.85 89.04,245.01 88.17,244.95 C87.31,244.89 86.44,244.61 85.64,244.13 C84.84,243.65 84.05,242.94 83.36,242.07 C82.68,241.2 82.04,240.11 81.51,238.91 C80.98,237.71 80.53,236.32 80.2,234.87 C79.87,233.43 79.63,231.83 79.52,230.23 C79.41,228.64 79.41,226.94 79.52,225.3 C79.64,223.67 79.87,221.98 80.21,220.42 C80.54,218.86 80.99,217.31 81.52,215.92 C82.05,214.53 82.69,213.22 83.38,212.1 C84.07,210.99 84.86,210 85.66,209.24 C86.46,208.47 87.34,207.88 88.2,207.51 C89.06,207.15 89.96,206.99 90.83,207.05 C91.69,207.11 92.56,207.39 93.36,207.87 C94.16,208.35 94.95,209.06 95.64,209.93 C96.32,210.8 96.96,211.89 97.49,213.09 C98.02,214.29 98.47,215.68 98.8,217.13 C99.13,218.57 99.37,220.17 99.48,221.77 C99.59,223.36 99.59,225.06 99.48,226.7Z" fill="none" stroke="#111" stroke-width="0.72"/>
<path d="M97.85,227.58 C97.76,228.91 97.57,230.28 97.29,231.56 C97.02,232.83 96.65,234.1 96.21,235.23 C95.78,236.36 95.25,237.43 94.68,238.34 C94.11,239.25 93.47,240.05 92.8,240.68 C92.14,241.3 91.42,241.79 90.71,242.08 C90,242.38 89.25,242.51 88.54,242.46 C87.83,242.41 87.11,242.18 86.45,241.79 C85.79,241.39 85.14,240.81 84.57,240.1 C84.01,239.39 83.48,238.5 83.04,237.53 C82.6,236.55 82.23,235.41 81.96,234.23 C81.68,233.05 81.49,231.75 81.4,230.45 C81.3,229.14 81.3,227.76 81.4,226.42 C81.49,225.09 81.68,223.72 81.96,222.44 C82.23,221.17 82.6,219.9 83.04,218.77 C83.47,217.64 84,216.57 84.57,215.66 C85.14,214.75 85.78,213.95 86.45,213.32 C87.11,212.7 87.83,212.21 88.54,211.92 C89.25,211.62 90,211.49 90.71,211.54 C91.42,211.59 92.14,211.82 92.8,212.21 C93.46,212.61 94.11,213.19 94.68,213.9 C95.24,214.61 95.77,215.5 96.21,216.47 C96.65,217.45 97.02,218.59 97.29,219.77 C97.57,220.95 97.76,222.25 97.85,223.55 C97.95,224.86 97.95,226.24 97.85,227.58Z" fill="none" stroke="#111" stroke-width="0.72"/>
<path d="M96.23,228.45 C96.16,229.49 96.01,230.55 95.8,231.54 C95.58,232.52 95.29,233.5 94.95,234.38 C94.6,235.25 94.19,236.08 93.74,236.79 C93.3,237.49 92.79,238.11 92.27,238.59 C91.75,239.08 91.18,239.45 90.62,239.68 C90.06,239.91 89.47,240.01 88.91,239.97 C88.35,239.93 87.78,239.75 87.26,239.45 C86.74,239.14 86.23,238.69 85.78,238.14 C85.33,237.59 84.92,236.9 84.57,236.14 C84.23,235.39 83.93,234.51 83.72,233.59 C83.5,232.68 83.35,231.67 83.27,230.66 C83.2,229.65 83.19,228.58 83.27,227.55 C83.34,226.51 83.49,225.45 83.7,224.46 C83.92,223.48 84.21,222.5 84.55,221.62 C84.9,220.75 85.31,219.92 85.76,219.21 C86.2,218.51 86.71,217.89 87.23,217.41 C87.75,216.92 88.32,216.55 88.88,216.32 C89.44,216.09 90.03,215.99 90.59,216.03 C91.15,216.07 91.72,216.25 92.24,216.55 C92.76,216.86 93.27,217.31 93.72,217.86 C94.17,218.41 94.58,219.1 94.93,219.86 C95.27,220.61 95.57,221.49 95.78,222.41 C96,223.32 96.15,224.33 96.23,225.34 C96.3,226.35 96.31,227.42 96.23,228.45Z" fill="none" stroke="#111" stroke-width="0.72"/>
<path d="M94.61,229.33 C94.56,230.06 94.45,230.82 94.3,231.51 C94.14,232.21 93.93,232.91 93.68,233.53 C93.43,234.15 93.13,234.73 92.81,235.23 C92.48,235.73 92.11,236.17 91.73,236.51 C91.35,236.85 90.94,237.11 90.53,237.28 C90.12,237.44 89.69,237.51 89.28,237.48 C88.87,237.45 88.46,237.32 88.08,237.1 C87.69,236.89 87.32,236.57 86.99,236.18 C86.66,235.79 86.36,235.3 86.11,234.76 C85.85,234.22 85.64,233.6 85.47,232.95 C85.31,232.3 85.2,231.59 85.14,230.87 C85.09,230.16 85.09,229.4 85.14,228.67 C85.19,227.94 85.3,227.18 85.45,226.49 C85.61,225.79 85.82,225.09 86.07,224.47 C86.32,223.85 86.62,223.27 86.94,222.77 C87.27,222.27 87.64,221.83 88.02,221.49 C88.4,221.15 88.81,220.89 89.22,220.72 C89.63,220.56 90.06,220.49 90.47,220.52 C90.88,220.55 91.29,220.68 91.67,220.9 C92.06,221.11 92.43,221.43 92.76,221.82 C93.09,222.21 93.39,222.7 93.64,223.24 C93.9,223.78 94.11,224.4 94.28,225.05 C94.44,225.7 94.55,226.41 94.61,227.13 C94.66,227.84 94.66,228.6 94.61,229.33Z" fill="none" stroke="#111" stroke-width="0.72"/>
<path d="M92.99,230.21 C92.96,230.64 92.9,231.08 92.8,231.49 C92.7,231.9 92.57,232.31 92.42,232.68 C92.26,233.04 92.07,233.38 91.87,233.67 C91.67,233.97 91.43,234.22 91.19,234.42 C90.96,234.62 90.69,234.78 90.44,234.87 C90.18,234.97 89.91,235.01 89.65,234.99 C89.39,234.97 89.13,234.89 88.89,234.76 C88.65,234.63 88.41,234.45 88.2,234.21 C87.99,233.98 87.8,233.7 87.64,233.38 C87.48,233.06 87.34,232.69 87.23,232.31 C87.13,231.93 87.06,231.51 87.02,231.09 C86.98,230.67 86.98,230.22 87.01,229.79 C87.04,229.36 87.1,228.92 87.2,228.51 C87.3,228.1 87.43,227.69 87.58,227.32 C87.74,226.96 87.93,226.62 88.13,226.33 C88.33,226.03 88.57,225.78 88.81,225.58 C89.04,225.38 89.31,225.22 89.56,225.13 C89.82,225.03 90.09,224.99 90.35,225.01 C90.61,225.03 90.87,225.11 91.11,225.24 C91.35,225.37 91.59,225.55 91.8,225.79 C92.01,226.02 92.2,226.3 92.36,226.62 C92.52,226.94 92.66,227.31 92.77,227.69 C92.87,228.07 92.94,228.49 92.98,228.91 C93.02,229.33 93.02,229.78 92.99,230.21Z" fill="none" stroke="#111" stroke-width="0.72"/>
</g>
<path d="M98.72,211.8 C98.42,213.01 97.99,214.24 97.5,215.36 C97,216.48 96.39,217.57 95.73,218.52 C95.07,219.48 94.31,220.36 93.54,221.07 C92.76,221.79 91.91,222.4 91.07,222.83 C90.23,223.27 89.34,223.56 88.5,223.68 C87.65,223.81 86.79,223.77 85.99,223.57 C85.2,223.37 84.42,223 83.73,222.5 C83.04,221.99 82.39,221.31 81.85,220.54 C81.32,219.76 80.85,218.82 80.5,217.82 C80.15,216.82 79.9,215.69 79.76,214.54 C79.63,213.39 79.6,212.15 79.69,210.92 C79.77,209.7 79.98,208.42 80.28,207.2 C80.58,205.99 81.01,204.76 81.5,203.64 C82,202.52 82.61,201.43 83.27,200.48 C83.93,199.52 84.69,198.64 85.46,197.93 C86.24,197.21 87.09,196.6 87.93,196.17 C88.77,195.73 89.66,195.44 90.5,195.32 C91.35,195.19 92.21,195.23 93.01,195.43 C93.8,195.63 94.58,196 95.27,196.5 C95.96,197.01 96.61,197.69 97.15,198.46 C97.68,199.24 98.15,200.18 98.5,201.18 C98.85,202.18 99.1,203.31 99.24,204.46 C99.37,205.61 99.4,206.85 99.31,208.08 C99.23,209.3 99.02,210.58 98.72,211.8Z" fill="none" stroke="#111" stroke-width="0.72"/>
<path d="M97.3,211.16 C97.04,212.23 96.67,213.31 96.23,214.3 C95.8,215.28 95.27,216.24 94.69,217.08 C94.11,217.92 93.46,218.69 92.78,219.33 C92.1,219.96 91.36,220.49 90.63,220.88 C89.9,221.26 89.13,221.52 88.39,221.63 C87.66,221.74 86.91,221.71 86.22,221.54 C85.52,221.37 84.85,221.04 84.25,220.6 C83.65,220.16 83.09,219.57 82.63,218.88 C82.16,218.2 81.76,217.38 81.46,216.5 C81.16,215.63 80.94,214.63 80.83,213.62 C80.71,212.61 80.69,211.52 80.77,210.44 C80.85,209.37 81.03,208.24 81.3,207.17 C81.56,206.1 81.93,205.02 82.37,204.04 C82.8,203.05 83.33,202.09 83.91,201.25 C84.49,200.41 85.14,199.64 85.82,199.01 C86.5,198.37 87.24,197.84 87.97,197.45 C88.7,197.07 89.47,196.81 90.21,196.7 C90.94,196.59 91.69,196.62 92.38,196.8 C93.08,196.97 93.75,197.29 94.35,197.73 C94.95,198.18 95.51,198.77 95.97,199.45 C96.44,200.13 96.84,200.95 97.14,201.83 C97.44,202.71 97.66,203.7 97.77,204.71 C97.89,205.72 97.91,206.82 97.83,207.89 C97.75,208.97 97.57,210.1 97.3,211.16Z" fill="none" stroke="#111" stroke-width="0.72"/>
<path d="M95.89,210.53 C95.66,211.45 95.35,212.38 94.97,213.23 C94.6,214.08 94.14,214.91 93.65,215.64 C93.16,216.36 92.6,217.03 92.02,217.58 C91.44,218.13 90.81,218.59 90.19,218.92 C89.57,219.26 88.91,219.48 88.29,219.58 C87.66,219.68 87.02,219.65 86.44,219.51 C85.85,219.36 85.28,219.08 84.77,218.7 C84.27,218.33 83.79,217.82 83.4,217.23 C83.01,216.64 82.67,215.94 82.42,215.18 C82.16,214.43 81.98,213.57 81.89,212.7 C81.79,211.83 81.78,210.89 81.85,209.96 C81.92,209.03 82.08,208.06 82.31,207.14 C82.54,206.22 82.85,205.29 83.23,204.44 C83.6,203.58 84.06,202.75 84.55,202.03 C85.04,201.31 85.6,200.64 86.18,200.09 C86.76,199.54 87.39,199.08 88.01,198.74 C88.63,198.41 89.29,198.18 89.91,198.09 C90.54,197.99 91.18,198.01 91.76,198.16 C92.35,198.31 92.92,198.58 93.43,198.96 C93.93,199.34 94.41,199.85 94.8,200.44 C95.19,201.02 95.53,201.73 95.78,202.48 C96.04,203.24 96.22,204.09 96.31,204.96 C96.41,205.83 96.42,206.78 96.35,207.71 C96.28,208.63 96.12,209.61 95.89,210.53Z" fill="none" stroke="#111" stroke-width="0.72"/>
<path d="M94.48,209.89 C94.29,210.67 94.02,211.45 93.71,212.17 C93.4,212.88 93.02,213.58 92.61,214.19 C92.2,214.8 91.74,215.37 91.26,215.83 C90.79,216.29 90.27,216.69 89.75,216.97 C89.24,217.25 88.7,217.44 88.18,217.53 C87.67,217.61 87.14,217.6 86.66,217.48 C86.18,217.36 85.71,217.13 85.29,216.81 C84.88,216.49 84.49,216.07 84.17,215.58 C83.85,215.09 83.58,214.5 83.37,213.86 C83.17,213.23 83.02,212.51 82.95,211.78 C82.88,211.05 82.87,210.26 82.93,209.48 C82.99,208.7 83.13,207.88 83.32,207.11 C83.51,206.33 83.78,205.55 84.09,204.83 C84.4,204.12 84.78,203.42 85.19,202.81 C85.6,202.2 86.06,201.63 86.54,201.17 C87.01,200.71 87.53,200.31 88.05,200.03 C88.56,199.75 89.1,199.56 89.62,199.47 C90.13,199.39 90.66,199.4 91.14,199.52 C91.62,199.64 92.09,199.87 92.51,200.19 C92.92,200.51 93.31,200.93 93.63,201.42 C93.95,201.91 94.22,202.5 94.43,203.14 C94.63,203.77 94.78,204.49 94.85,205.22 C94.92,205.95 94.93,206.74 94.87,207.52 C94.81,208.3 94.67,209.12 94.48,209.89Z" fill="none" stroke="#111" stroke-width="0.72"/>
<path d="M93.07,209.26 C92.91,209.88 92.7,210.52 92.45,211.1 C92.2,211.68 91.9,212.25 91.57,212.75 C91.25,213.24 90.88,213.7 90.5,214.08 C90.13,214.46 89.72,214.78 89.31,215.01 C88.91,215.25 88.48,215.41 88.08,215.48 C87.67,215.55 87.26,215.54 86.89,215.44 C86.51,215.35 86.14,215.17 85.82,214.91 C85.49,214.66 85.19,214.32 84.95,213.92 C84.7,213.53 84.49,213.05 84.33,212.54 C84.17,212.03 84.06,211.45 84.01,210.86 C83.96,210.27 83.96,209.63 84.01,209 C84.07,208.37 84.18,207.71 84.33,207.08 C84.49,206.45 84.7,205.81 84.95,205.23 C85.2,204.65 85.5,204.08 85.83,203.59 C86.15,203.09 86.52,202.63 86.9,202.25 C87.27,201.87 87.68,201.55 88.09,201.32 C88.49,201.09 88.92,200.93 89.32,200.86 C89.73,200.78 90.14,200.8 90.51,200.89 C90.89,200.98 91.26,201.17 91.58,201.42 C91.91,201.67 92.21,202.01 92.45,202.41 C92.7,202.8 92.91,203.28 93.07,203.79 C93.23,204.3 93.34,204.88 93.39,205.47 C93.44,206.06 93.44,206.7 93.39,207.33 C93.33,207.97 93.22,208.63 93.07,209.26Z" fill="none" stroke="#111" stroke-width="0.72"/>
<path d="M91.65,208.62 C91.53,209.1 91.37,209.59 91.19,210.04 C91,210.48 90.78,210.92 90.54,211.3 C90.3,211.69 90.02,212.04 89.75,212.33 C89.47,212.63 89.17,212.88 88.87,213.06 C88.58,213.24 88.27,213.37 87.97,213.43 C87.68,213.48 87.38,213.48 87.11,213.41 C86.84,213.34 86.57,213.21 86.34,213.02 C86.11,212.83 85.89,212.57 85.72,212.27 C85.54,211.97 85.39,211.61 85.29,211.22 C85.18,210.83 85.11,210.39 85.07,209.94 C85.04,209.49 85.05,209 85.09,208.52 C85.14,208.04 85.23,207.53 85.35,207.05 C85.47,206.57 85.63,206.08 85.81,205.63 C86,205.18 86.22,204.75 86.46,204.36 C86.7,203.98 86.98,203.62 87.25,203.33 C87.53,203.04 87.83,202.79 88.13,202.61 C88.42,202.43 88.73,202.3 89.03,202.24 C89.32,202.18 89.62,202.19 89.89,202.25 C90.16,202.32 90.43,202.46 90.66,202.65 C90.89,202.84 91.11,203.1 91.28,203.39 C91.46,203.69 91.61,204.06 91.71,204.44 C91.82,204.83 91.89,205.27 91.93,205.72 C91.96,206.18 91.95,206.67 91.91,207.15 C91.86,207.63 91.77,208.14 91.65,208.62Z" fill="none" stroke="#111" stroke-width="0.72"/>
<path d="M90.24,207.98 C90.16,208.32 90.05,208.66 89.92,208.97 C89.8,209.28 89.65,209.59 89.5,209.86 C89.34,210.13 89.17,210.38 88.99,210.59 C88.81,210.79 88.62,210.97 88.43,211.1 C88.25,211.23 88.05,211.33 87.87,211.37 C87.68,211.42 87.5,211.42 87.33,211.38 C87.16,211.34 87,211.25 86.86,211.12 C86.72,211 86.59,210.82 86.49,210.62 C86.39,210.42 86.3,210.17 86.24,209.9 C86.18,209.64 86.15,209.33 86.14,209.02 C86.12,208.71 86.14,208.37 86.18,208.04 C86.21,207.7 86.28,207.35 86.36,207.02 C86.44,206.68 86.55,206.34 86.68,206.03 C86.8,205.72 86.95,205.41 87.1,205.14 C87.26,204.87 87.43,204.62 87.61,204.41 C87.79,204.21 87.98,204.03 88.17,203.9 C88.35,203.77 88.55,203.67 88.73,203.63 C88.92,203.58 89.1,203.58 89.27,203.62 C89.44,203.66 89.6,203.75 89.74,203.88 C89.88,204 90.01,204.18 90.11,204.38 C90.21,204.58 90.3,204.83 90.36,205.1 C90.42,205.36 90.45,205.67 90.46,205.98 C90.48,206.29 90.46,206.63 90.42,206.96 C90.39,207.3 90.32,207.65 90.24,207.98Z" fill="none" stroke="#111" stroke-width="0.72"/>
<path d="M95.59,230.55 C97.57,231.5 98.91,233.56 99.86,235.3 C100.81,237.04 101.45,238.94 101.29,241 C101.13,243.06 100.34,245.83 98.91,247.65 C97.49,249.47 95.51,251.05 92.74,251.93 C89.97,252.8 85.62,253.27 82.29,252.88 C78.97,252.48 75.09,250.9 72.79,249.55 C70.49,248.2 69.07,246.38 68.52,244.8 C67.96,243.22 68.44,241.63 69.47,240.05 C70.49,238.47 72.87,236.73 74.69,235.3 C76.51,233.88 78.17,232.45 80.39,231.5 C82.61,230.55 85.46,229.76 87.99,229.6 C90.52,229.44 93.61,229.6 95.59,230.55Z" fill="#fff" fill-opacity="1.0"/>
<path d="M95.75,230.33 C97.77,231.3 99.15,233.4 100.12,235.18 C101.09,236.96 101.74,238.9 101.57,241 C101.41,243.1 100.6,245.93 99.15,247.79 C97.69,249.65 95.67,251.27 92.84,252.16 C90.01,253.04 85.57,253.53 82.17,253.12 C78.78,252.72 74.82,251.1 72.47,249.73 C70.13,248.36 68.67,246.5 68.11,244.88 C67.54,243.26 68.03,241.65 69.08,240.03 C70.13,238.41 72.55,236.63 74.41,235.18 C76.27,233.73 77.97,232.27 80.23,231.3 C82.5,230.33 85.41,229.52 87.99,229.36 C90.58,229.2 93.73,229.36 95.75,230.33Z" fill="none" stroke="#111" stroke-width="0.72"/>
<path d="M95.17,231.11 C97.04,232.01 98.32,233.96 99.22,235.61 C100.12,237.25 100.71,239.05 100.56,241 C100.42,242.95 99.67,245.57 98.32,247.29 C96.97,249.02 95.1,250.51 92.47,251.34 C89.85,252.16 85.73,252.61 82.59,252.24 C79.44,251.86 75.77,250.36 73.6,249.09 C71.42,247.82 70.08,246.09 69.55,244.6 C69.03,243.1 69.48,241.6 70.45,240.1 C71.42,238.6 73.67,236.95 75.39,235.61 C77.12,234.26 78.69,232.91 80.79,232.01 C82.89,231.11 85.58,230.36 87.98,230.21 C90.38,230.06 93.3,230.21 95.17,231.11Z" fill="none" stroke="#111" stroke-width="0.72"/>
<path d="M94.67,231.79 C96.41,232.63 97.6,234.44 98.43,235.98 C99.27,237.51 99.83,239.19 99.69,241 C99.55,242.81 98.85,245.26 97.6,246.86 C96.34,248.47 94.6,249.86 92.15,250.63 C89.71,251.4 85.87,251.82 82.94,251.47 C80.01,251.12 76.59,249.72 74.57,248.54 C72.55,247.35 71.29,245.75 70.8,244.35 C70.31,242.95 70.73,241.56 71.64,240.16 C72.55,238.77 74.64,237.23 76.24,235.98 C77.85,234.72 79.31,233.46 81.27,232.63 C83.22,231.79 85.73,231.09 87.97,230.95 C90.2,230.81 92.92,230.95 94.67,231.79Z" fill="none" stroke="#111" stroke-width="0.72"/>
<path d="M94.19,232.43 C95.81,233.21 96.91,234.9 97.69,236.33 C98.47,237.75 98.99,239.31 98.86,241 C98.73,242.69 98.08,244.96 96.91,246.45 C95.75,247.95 94.12,249.24 91.85,249.96 C89.58,250.67 86.01,251.06 83.28,250.74 C80.56,250.41 77.37,249.11 75.49,248.01 C73.61,246.91 72.44,245.41 71.99,244.12 C71.53,242.82 71.92,241.52 72.77,240.22 C73.61,238.92 75.56,237.49 77.05,236.33 C78.54,235.16 79.91,233.99 81.72,233.21 C83.54,232.43 85.88,231.78 87.96,231.65 C90.03,231.52 92.56,231.65 94.19,232.43Z" fill="none" stroke="#111" stroke-width="0.72"/>
<path d="M93.72,233.05 C95.23,233.77 96.25,235.34 96.98,236.66 C97.7,237.99 98.18,239.43 98.06,241 C97.94,242.57 97.34,244.67 96.25,246.06 C95.17,247.44 93.66,248.65 91.56,249.31 C89.45,249.97 86.14,250.33 83.61,250.03 C81.08,249.73 78.13,248.53 76.38,247.5 C74.64,246.48 73.55,245.09 73.13,243.89 C72.71,242.69 73.07,241.48 73.85,240.28 C74.64,239.07 76.44,237.75 77.83,236.66 C79.21,235.58 80.48,234.5 82.16,233.77 C83.85,233.05 86.02,232.45 87.94,232.33 C89.87,232.21 92.22,232.33 93.72,233.05Z" fill="none" stroke="#111" stroke-width="0.72"/>
<path d="M93.27,233.66 C94.66,234.32 95.61,235.77 96.28,236.99 C96.94,238.22 97.39,239.55 97.28,241 C97.17,242.45 96.61,244.39 95.61,245.67 C94.61,246.95 93.22,248.06 91.27,248.68 C89.32,249.29 86.26,249.62 83.93,249.34 C81.59,249.07 78.87,247.95 77.25,247.01 C75.64,246.06 74.64,244.78 74.25,243.67 C73.86,242.56 74.19,241.45 74.92,240.33 C75.64,239.22 77.31,238 78.59,236.99 C79.87,235.99 81.04,234.99 82.59,234.32 C84.15,233.66 86.15,233.1 87.93,232.99 C89.71,232.88 91.88,232.99 93.27,233.66Z" fill="none" stroke="#111" stroke-width="0.72"/>
<path d="M92.83,234.25 C94.11,234.86 94.98,236.19 95.59,237.32 C96.21,238.44 96.61,239.67 96.51,241 C96.41,242.33 95.9,244.12 94.98,245.29 C94.06,246.47 92.78,247.49 90.99,248.06 C89.2,248.62 86.39,248.93 84.24,248.67 C82.09,248.41 79.59,247.39 78.11,246.52 C76.62,245.65 75.7,244.48 75.34,243.45 C74.99,242.43 75.29,241.41 75.96,240.39 C76.62,239.36 78.16,238.24 79.33,237.32 C80.51,236.4 81.58,235.48 83.01,234.86 C84.45,234.25 86.29,233.74 87.92,233.64 C89.56,233.53 91.55,233.64 92.83,234.25Z" fill="none" stroke="#111" stroke-width="0.72"/>
<path d="M92.4,234.83 C93.56,235.39 94.36,236.61 94.92,237.64 C95.48,238.66 95.85,239.79 95.76,241 C95.67,242.21 95.2,243.85 94.36,244.92 C93.52,246 92.35,246.93 90.71,247.45 C89.08,247.96 86.51,248.24 84.55,248.01 C82.59,247.77 80.3,246.84 78.94,246.04 C77.59,245.25 76.75,244.18 76.42,243.24 C76.09,242.31 76.37,241.37 76.98,240.44 C77.59,239.51 78.99,238.48 80.06,237.64 C81.14,236.8 82.12,235.96 83.43,235.39 C84.74,234.83 86.42,234.37 87.91,234.27 C89.41,234.18 91.23,234.27 92.4,234.83Z" fill="none" stroke="#111" stroke-width="0.72"/>
<path d="M91.97,235.41 C93.03,235.92 93.75,237.02 94.25,237.95 C94.76,238.88 95.1,239.9 95.02,241 C94.93,242.1 94.51,243.58 93.75,244.56 C92.98,245.53 91.93,246.38 90.44,246.84 C88.96,247.31 86.63,247.56 84.85,247.35 C83.07,247.14 81,246.29 79.77,245.57 C78.54,244.85 77.78,243.88 77.48,243.03 C77.19,242.19 77.44,241.34 77.99,240.49 C78.54,239.64 79.81,238.71 80.79,237.95 C81.76,237.19 82.65,236.43 83.84,235.92 C85.02,235.41 86.55,234.99 87.9,234.9 C89.26,234.82 90.91,234.9 91.97,235.41Z" fill="none" stroke="#111" stroke-width="0.72"/>
<path d="M91.54,235.98 C92.5,236.43 93.14,237.42 93.6,238.26 C94.06,239.1 94.36,240.01 94.28,241 C94.21,241.99 93.83,243.32 93.14,244.2 C92.46,245.07 91.51,245.83 90.17,246.25 C88.84,246.67 86.75,246.9 85.15,246.71 C83.55,246.52 81.69,245.76 80.59,245.11 C79.48,244.46 78.8,243.59 78.53,242.83 C78.26,242.07 78.49,241.3 78.99,240.54 C79.48,239.78 80.62,238.95 81.5,238.26 C82.37,237.58 83.17,236.89 84.24,236.43 C85.3,235.98 86.67,235.6 87.89,235.52 C89.11,235.44 90.59,235.52 91.54,235.98Z" fill="none" stroke="#111" stroke-width="0.72"/>
<path d="M91.13,236.54 C91.97,236.94 92.54,237.82 92.95,238.57 C93.36,239.31 93.63,240.12 93.56,241 C93.49,241.88 93.15,243.06 92.54,243.84 C91.94,244.62 91.09,245.29 89.91,245.66 C88.73,246.04 86.87,246.24 85.45,246.07 C84.03,245.9 82.37,245.22 81.39,244.65 C80.41,244.08 79.8,243.3 79.57,242.62 C79.33,241.95 79.53,241.27 79.97,240.59 C80.41,239.92 81.43,239.18 82.2,238.57 C82.98,237.96 83.69,237.35 84.64,236.94 C85.58,236.54 86.8,236.2 87.88,236.13 C88.96,236.07 90.28,236.13 91.13,236.54Z" fill="none" stroke="#111" stroke-width="0.72"/>
<path d="M90.71,237.1 C91.45,237.45 91.95,238.22 92.31,238.87 C92.66,239.52 92.9,240.23 92.84,241 C92.78,241.77 92.49,242.8 91.95,243.48 C91.42,244.17 90.68,244.76 89.65,245.08 C88.61,245.41 86.98,245.59 85.74,245.44 C84.5,245.29 83.05,244.7 82.19,244.19 C81.33,243.69 80.8,243.01 80.59,242.42 C80.39,241.83 80.56,241.24 80.95,240.65 C81.33,240.05 82.22,239.4 82.9,238.87 C83.58,238.34 84.2,237.81 85.03,237.45 C85.86,237.1 86.92,236.8 87.87,236.74 C88.82,236.68 89.97,236.74 90.71,237.1Z" fill="none" stroke="#111" stroke-width="0.72"/>
<path d="M90.3,237.65 C90.94,237.95 91.37,238.61 91.67,239.17 C91.98,239.73 92.18,240.34 92.13,241 C92.08,241.66 91.82,242.55 91.37,243.13 C90.91,243.72 90.27,244.23 89.39,244.51 C88.5,244.79 87.1,244.94 86.03,244.81 C84.96,244.68 83.72,244.18 82.98,243.74 C82.25,243.31 81.79,242.73 81.61,242.22 C81.43,241.71 81.59,241.2 81.92,240.7 C82.25,240.19 83.01,239.63 83.59,239.17 C84.18,238.71 84.71,238.26 85.42,237.95 C86.13,237.65 87.05,237.39 87.86,237.34 C88.67,237.29 89.66,237.34 90.3,237.65Z" fill="none" stroke="#111" stroke-width="0.72"/>
<path d="M89.89,238.19 C90.42,238.45 90.79,239 91.04,239.47 C91.3,239.94 91.47,240.45 91.42,241 C91.38,241.55 91.17,242.3 90.79,242.79 C90.4,243.28 89.87,243.7 89.13,243.93 C88.38,244.17 87.21,244.3 86.32,244.19 C85.43,244.08 84.38,243.66 83.77,243.3 C83.15,242.94 82.77,242.45 82.62,242.02 C82.47,241.6 82.6,241.17 82.87,240.74 C83.15,240.32 83.79,239.85 84.28,239.47 C84.77,239.09 85.21,238.7 85.81,238.45 C86.4,238.19 87.17,237.98 87.85,237.94 C88.53,237.9 89.36,237.94 89.89,238.19Z" fill="none" stroke="#111" stroke-width="0.72"/>
<path d="M89.49,238.74 C89.92,238.94 90.21,239.39 90.41,239.76 C90.62,240.14 90.76,240.55 90.72,241 C90.69,241.45 90.52,242.05 90.21,242.44 C89.9,242.84 89.47,243.18 88.87,243.37 C88.27,243.56 87.33,243.66 86.61,243.57 C85.89,243.49 85.04,243.14 84.55,242.85 C84.05,242.56 83.74,242.17 83.62,241.82 C83.5,241.48 83.6,241.14 83.83,240.79 C84.05,240.45 84.56,240.07 84.96,239.76 C85.35,239.46 85.71,239.15 86.19,238.94 C86.67,238.74 87.29,238.56 87.84,238.53 C88.39,238.49 89.06,238.53 89.49,238.74Z" fill="none" stroke="#111" stroke-width="0.72"/>
<path d="M89.09,239.27 C89.41,239.43 89.64,239.77 89.79,240.06 C89.95,240.35 90.05,240.66 90.03,241 C90,241.34 89.87,241.8 89.64,242.1 C89.4,242.4 89.07,242.66 88.62,242.8 C88.16,242.95 87.44,243.03 86.89,242.96 C86.34,242.9 85.7,242.63 85.32,242.41 C84.94,242.19 84.71,241.89 84.61,241.63 C84.52,241.37 84.6,241.1 84.77,240.84 C84.94,240.58 85.33,240.29 85.63,240.06 C85.93,239.82 86.21,239.59 86.58,239.43 C86.94,239.27 87.41,239.14 87.83,239.12 C88.25,239.09 88.76,239.12 89.09,239.27Z" fill="none" stroke="#111" stroke-width="0.72"/>
<path d="M88.69,239.81 C88.91,239.92 89.07,240.15 89.18,240.35 C89.28,240.55 89.36,240.77 89.34,241 C89.32,241.23 89.23,241.55 89.07,241.76 C88.9,241.97 88.68,242.15 88.36,242.25 C88.05,242.34 87.55,242.4 87.17,242.35 C86.79,242.31 86.35,242.13 86.09,241.97 C85.83,241.82 85.66,241.61 85.6,241.43 C85.54,241.25 85.59,241.07 85.71,240.89 C85.83,240.71 86.1,240.51 86.31,240.35 C86.51,240.19 86.7,240.03 86.96,239.92 C87.21,239.81 87.53,239.72 87.82,239.7 C88.11,239.68 88.46,239.7 88.69,239.81Z" fill="none" stroke="#111" stroke-width="0.72"/>
<path d="M88.29,240.34 C88.42,240.4 88.5,240.53 88.56,240.64 C88.62,240.75 88.66,240.87 88.65,241 C88.64,241.13 88.59,241.3 88.5,241.42 C88.41,241.53 88.29,241.63 88.11,241.69 C87.94,241.75 87.66,241.78 87.45,241.75 C87.24,241.72 87,241.62 86.85,241.54 C86.71,241.45 86.62,241.34 86.58,241.24 C86.55,241.14 86.58,241.04 86.64,240.94 C86.71,240.84 86.86,240.73 86.97,240.64 C87.09,240.55 87.19,240.46 87.33,240.4 C87.47,240.34 87.65,240.29 87.81,240.28 C87.97,240.27 88.17,240.28 88.29,240.34Z" fill="none" stroke="#111" stroke-width="0.72"/>
<path d="M93.15,234.37 C94.44,234.99 95.32,236.33 95.94,237.47 C96.56,238.61 96.97,239.85 96.87,241.19 C96.77,242.53 96.25,244.34 95.32,245.53 C94.39,246.72 93.1,247.75 91.29,248.32 C89.48,248.89 86.64,249.2 84.47,248.94 C82.3,248.68 79.77,247.65 78.27,246.77 C76.77,245.89 75.84,244.7 75.48,243.67 C75.12,242.64 75.43,241.6 76.1,240.57 C76.77,239.54 78.32,238.4 79.51,237.47 C80.7,236.54 81.78,235.61 83.23,234.99 C84.68,234.37 86.54,233.85 88.19,233.75 C89.84,233.65 91.86,233.75 93.15,234.37Z" fill="#161616" fill-opacity="0.6"/>
<ellipse cx="87.8" cy="241" rx="1.08" ry="0.81" fill="#fff"/>
<path d="M218.9,201.2 C220.55,201.82 222.57,203.13 223.6,205.3 C224.63,207.47 224.78,211 225.1,214.2 C225.42,217.4 224.93,221.55 225.5,224.5 C226.07,227.45 227.88,228.95 228.5,231.9 C229.12,234.85 229.57,239.27 229.2,242.2 C228.83,245.13 228.02,247.3 226.3,249.5 C224.58,251.7 222.1,254.17 218.9,255.4 C215.7,256.63 210.78,257.38 207.1,256.9 C203.42,256.42 199.75,254.22 196.8,252.5 C193.85,250.78 190.38,248.57 189.4,246.6 C188.42,244.63 189.18,242.67 190.9,240.7 C192.62,238.73 197.25,236.77 199.7,234.8 C202.15,232.83 204.62,231.85 205.6,228.9 C206.58,225.95 205.1,220.78 205.6,217.1 C206.1,213.42 207.25,209.38 208.6,206.8 C209.95,204.22 211.98,202.53 213.7,201.6 C215.42,200.67 217.25,200.58 218.9,201.2Z" fill="none" stroke="#111" stroke-width="0.72"/>
<path d="M218.43,204.14 C219.95,204.71 221.8,205.92 222.75,207.92 C223.7,209.91 223.84,213.16 224.13,216.1 C224.42,219.05 223.98,222.87 224.5,225.58 C225.02,228.29 226.69,229.67 227.26,232.39 C227.83,235.1 228.24,239.17 227.9,241.86 C227.57,244.56 226.82,246.56 225.24,248.58 C223.66,250.6 221.37,252.87 218.43,254.01 C215.48,255.14 210.96,255.83 207.57,255.39 C204.18,254.94 200.81,252.92 198.1,251.34 C195.38,249.76 192.19,247.72 191.29,245.91 C190.38,244.1 191.09,242.29 192.67,240.48 C194.25,238.67 198.51,236.87 200.76,235.06 C203.02,233.25 205.29,232.34 206.19,229.63 C207.1,226.91 205.73,222.16 206.19,218.77 C206.65,215.38 207.71,211.67 208.95,209.3 C210.19,206.92 212.06,205.37 213.64,204.51 C215.22,203.65 216.91,203.58 218.43,204.14Z" fill="none" stroke="#111" stroke-width="0.72"/>
<g clip-path="url(#cu4)">
<path d="M225.4,225 C225.23,227.07 224.95,229.21 224.57,231.21 C224.19,233.21 223.69,235.21 223.13,237 C222.56,238.79 221.89,240.51 221.17,241.97 C220.46,243.43 219.65,244.75 218.84,245.78 C218.02,246.82 217.14,247.65 216.28,248.18 C215.42,248.72 214.53,249 213.68,249 C212.83,249 211.98,248.72 211.21,248.18 C210.44,247.65 209.69,246.82 209.04,245.78 C208.39,244.75 207.79,243.43 207.31,241.97 C206.83,240.51 206.43,238.79 206.15,237 C205.87,235.21 205.7,233.21 205.64,231.21 C205.58,229.21 205.63,227.07 205.8,225 C205.97,222.93 206.25,220.79 206.63,218.79 C207.01,216.79 207.51,214.79 208.07,213 C208.64,211.21 209.31,209.49 210.03,208.03 C210.74,206.57 211.55,205.25 212.36,204.22 C213.18,203.18 214.06,202.35 214.92,201.82 C215.78,201.28 216.67,201 217.52,201 C218.37,201 219.22,201.28 219.99,201.82 C220.76,202.35 221.51,203.18 222.16,204.22 C222.81,205.25 223.41,206.57 223.89,208.03 C224.37,209.49 224.77,211.21 225.05,213 C225.33,214.79 225.5,216.79 225.56,218.79 C225.62,220.79 225.57,222.93 225.4,225Z" fill="none" stroke="#111" stroke-width="0.72"/>
<path d="M223.62,222.25 C223.49,223.91 223.26,225.62 222.96,227.22 C222.65,228.82 222.25,230.42 221.8,231.85 C221.34,233.28 220.79,234.66 220.22,235.83 C219.64,237 218.99,238.05 218.33,238.88 C217.67,239.71 216.96,240.37 216.27,240.8 C215.57,241.22 214.85,241.45 214.16,241.45 C213.48,241.45 212.79,241.22 212.17,240.8 C211.54,240.37 210.93,239.71 210.41,238.88 C209.88,238.05 209.4,237 209.01,235.83 C208.62,234.66 208.3,233.28 208.07,231.85 C207.84,230.42 207.7,228.82 207.65,227.22 C207.6,225.62 207.64,223.91 207.77,222.25 C207.91,220.59 208.14,218.88 208.44,217.28 C208.75,215.68 209.15,214.08 209.6,212.65 C210.06,211.22 210.61,209.84 211.18,208.67 C211.76,207.5 212.41,206.45 213.07,205.62 C213.73,204.79 214.44,204.13 215.13,203.7 C215.83,203.28 216.55,203.05 217.24,203.05 C217.92,203.05 218.61,203.28 219.23,203.7 C219.86,204.13 220.47,204.79 220.99,205.62 C221.52,206.45 222,207.5 222.39,208.67 C222.78,209.84 223.1,211.22 223.33,212.65 C223.56,214.08 223.7,215.68 223.75,217.28 C223.8,218.88 223.76,220.59 223.62,222.25Z" fill="none" stroke="#111" stroke-width="0.72"/>
<path d="M221.85,219.5 C221.75,220.74 221.58,222.03 221.35,223.23 C221.11,224.43 220.81,225.62 220.46,226.7 C220.12,227.78 219.7,228.8 219.26,229.68 C218.82,230.56 218.33,231.35 217.83,231.97 C217.33,232.59 216.78,233.09 216.25,233.41 C215.72,233.73 215.17,233.9 214.65,233.9 C214.13,233.9 213.6,233.73 213.12,233.41 C212.64,233.09 212.18,232.59 211.78,231.97 C211.38,231.35 211.01,230.56 210.71,229.68 C210.41,228.8 210.16,227.78 209.98,226.7 C209.81,225.62 209.7,224.43 209.66,223.23 C209.62,222.03 209.65,220.74 209.75,219.5 C209.85,218.26 210.02,216.97 210.25,215.77 C210.49,214.57 210.79,213.38 211.14,212.3 C211.48,211.22 211.9,210.2 212.34,209.32 C212.78,208.44 213.27,207.65 213.77,207.03 C214.27,206.41 214.82,205.91 215.35,205.59 C215.88,205.27 216.43,205.1 216.95,205.1 C217.47,205.1 218,205.27 218.48,205.59 C218.96,205.91 219.42,206.41 219.82,207.03 C220.22,207.65 220.59,208.44 220.89,209.32 C221.19,210.2 221.44,211.22 221.62,212.3 C221.79,213.38 221.9,214.57 221.94,215.77 C221.98,216.97 221.95,218.26 221.85,219.5Z" fill="none" stroke="#111" stroke-width="0.72"/>
<path d="M220.08,216.75 C220.01,217.58 219.89,218.43 219.73,219.23 C219.58,220.03 219.37,220.83 219.13,221.55 C218.89,222.27 218.61,222.95 218.31,223.54 C218.01,224.12 217.67,224.65 217.32,225.06 C216.98,225.48 216.6,225.81 216.24,226.02 C215.87,226.24 215.49,226.35 215.13,226.35 C214.77,226.35 214.41,226.24 214.08,226.02 C213.75,225.81 213.43,225.48 213.15,225.06 C212.87,224.65 212.61,224.12 212.4,223.54 C212.2,222.95 212.02,222.27 211.9,221.55 C211.78,220.83 211.7,220.03 211.67,219.23 C211.64,218.43 211.66,217.58 211.72,216.75 C211.79,215.92 211.91,215.07 212.07,214.27 C212.22,213.47 212.43,212.67 212.67,211.95 C212.91,211.23 213.19,210.55 213.49,209.96 C213.79,209.38 214.13,208.85 214.48,208.44 C214.82,208.02 215.2,207.69 215.56,207.48 C215.93,207.26 216.31,207.15 216.67,207.15 C217.03,207.15 217.39,207.26 217.72,207.48 C218.05,207.69 218.37,208.02 218.65,208.44 C218.93,208.85 219.19,209.38 219.4,209.96 C219.6,210.55 219.78,211.23 219.9,211.95 C220.02,212.67 220.1,213.47 220.13,214.27 C220.16,215.07 220.14,215.92 220.08,216.75Z" fill="none" stroke="#111" stroke-width="0.72"/>
<path d="M218.3,214 C218.27,214.41 218.21,214.84 218.12,215.24 C218.04,215.64 217.93,216.04 217.8,216.4 C217.67,216.76 217.52,217.1 217.35,217.39 C217.19,217.69 217.01,217.95 216.82,218.16 C216.63,218.36 216.42,218.53 216.22,218.64 C216.02,218.74 215.81,218.8 215.62,218.8 C215.42,218.8 215.22,218.74 215.03,218.64 C214.85,218.53 214.67,218.36 214.52,218.16 C214.36,217.95 214.22,217.69 214.1,217.39 C213.99,217.1 213.89,216.76 213.82,216.4 C213.75,216.04 213.7,215.64 213.68,215.24 C213.66,214.84 213.67,214.41 213.7,214 C213.73,213.59 213.79,213.16 213.88,212.76 C213.96,212.36 214.07,211.96 214.2,211.6 C214.33,211.24 214.48,210.9 214.65,210.61 C214.81,210.31 214.99,210.05 215.18,209.84 C215.37,209.64 215.58,209.47 215.78,209.36 C215.98,209.26 216.19,209.2 216.38,209.2 C216.58,209.2 216.78,209.26 216.97,209.36 C217.15,209.47 217.33,209.64 217.48,209.84 C217.64,210.05 217.78,210.31 217.9,210.61 C218.01,210.9 218.11,211.24 218.18,211.6 C218.25,211.96 218.3,212.36 218.32,212.76 C218.34,213.16 218.33,213.59 218.3,214Z" fill="none" stroke="#111" stroke-width="0.72"/>
</g>
<path d="M217.82,230.67 C220.2,230.99 223.65,230.99 225.43,232.57 C227.2,234.15 228.23,237.64 228.46,240.17 C228.7,242.7 228.31,245.43 226.85,247.77 C225.39,250.11 222.95,252.82 219.72,254.23 C216.5,255.64 211.14,256.59 207.47,256.22 C203.8,255.86 200.49,253.68 197.69,252.04 C194.88,250.41 191.59,248.31 190.66,246.44 C189.72,244.57 190.72,242.51 192.08,240.83 C193.44,239.16 196.59,237.75 198.82,236.37 C201.06,234.99 203.42,233.52 205.47,232.57 C207.53,231.62 209.12,230.99 211.18,230.67 C213.23,230.35 215.45,230.35 217.82,230.67Z" fill="#fff" fill-opacity="1.0"/>
<path d="M217.9,230.4 C220.32,230.73 223.84,230.73 225.66,232.34 C227.47,233.96 228.52,237.52 228.76,240.1 C229,242.69 228.6,245.47 227.11,247.86 C225.62,250.25 223.13,253.02 219.84,254.46 C216.54,255.9 211.07,256.87 207.32,256.5 C203.57,256.12 200.19,253.89 197.33,252.23 C194.47,250.56 191.11,248.41 190.15,246.5 C189.2,244.6 190.22,242.49 191.61,240.78 C193,239.07 196.22,237.63 198.5,236.22 C200.77,234.82 203.18,233.31 205.28,232.34 C207.39,231.37 209,230.73 211.1,230.4 C213.21,230.08 215.47,230.08 217.9,230.4Z" fill="none" stroke="#111" stroke-width="0.72"/>
<path d="M217.67,231.26 C219.93,231.57 223.22,231.57 224.92,233.07 C226.61,234.58 227.59,237.91 227.81,240.32 C228.04,242.74 227.66,245.33 226.27,247.57 C224.89,249.8 222.56,252.38 219.48,253.73 C216.4,255.07 211.3,255.97 207.8,255.63 C204.3,255.28 201.14,253.2 198.47,251.64 C195.8,250.09 192.66,248.08 191.77,246.3 C190.88,244.52 191.83,242.55 193.13,240.95 C194.42,239.35 197.43,238.01 199.56,236.7 C201.68,235.38 203.93,233.98 205.9,233.07 C207.86,232.17 209.37,231.57 211.33,231.26 C213.29,230.96 215.41,230.96 217.67,231.26Z" fill="none" stroke="#111" stroke-width="0.72"/>
<path d="M217.48,232.01 C219.6,232.29 222.69,232.29 224.28,233.71 C225.86,235.13 226.78,238.24 227,240.51 C227.21,242.78 226.85,245.21 225.55,247.31 C224.25,249.41 222.07,251.83 219.18,253.09 C216.29,254.35 211.5,255.2 208.21,254.88 C204.92,254.55 201.96,252.59 199.45,251.14 C196.95,249.68 194,247.79 193.16,246.12 C192.33,244.45 193.22,242.61 194.44,241.1 C195.66,239.6 198.48,238.34 200.47,237.11 C202.47,235.88 204.58,234.56 206.42,233.71 C208.27,232.86 209.68,232.29 211.52,232.01 C213.37,231.73 215.35,231.73 217.48,232.01Z" fill="none" stroke="#111" stroke-width="0.72"/>
<path d="M217.29,232.72 C219.28,232.98 222.18,232.98 223.67,234.31 C225.16,235.64 226.02,238.56 226.22,240.69 C226.42,242.82 226.09,245.1 224.86,247.07 C223.64,249.03 221.59,251.31 218.88,252.49 C216.17,253.67 211.68,254.47 208.6,254.16 C205.52,253.86 202.74,252.02 200.39,250.65 C198.04,249.29 195.27,247.52 194.49,245.95 C193.71,244.38 194.54,242.66 195.69,241.25 C196.83,239.84 199.47,238.66 201.35,237.5 C203.22,236.34 205.2,235.11 206.93,234.31 C208.65,233.51 209.98,232.98 211.71,232.72 C213.44,232.45 215.3,232.45 217.29,232.72Z" fill="none" stroke="#111" stroke-width="0.72"/>
<path d="M217.11,233.4 C218.98,233.65 221.69,233.65 223.08,234.89 C224.47,236.14 225.28,238.87 225.47,240.86 C225.65,242.85 225.34,244.99 224.2,246.83 C223.06,248.67 221.14,250.8 218.6,251.91 C216.07,253.01 211.86,253.76 208.98,253.47 C206.09,253.19 203.49,251.47 201.29,250.19 C199.09,248.91 196.51,247.25 195.77,245.79 C195.04,244.32 195.82,242.7 196.89,241.39 C197.96,240.07 200.44,238.96 202.19,237.88 C203.94,236.8 205.8,235.64 207.41,234.89 C209.03,234.15 210.27,233.65 211.89,233.4 C213.51,233.15 215.25,233.15 217.11,233.4Z" fill="none" stroke="#111" stroke-width="0.72"/>
<path d="M216.94,234.07 C218.68,234.3 221.21,234.3 222.51,235.46 C223.81,236.62 224.56,239.18 224.74,241.03 C224.91,242.89 224.62,244.89 223.55,246.6 C222.48,248.32 220.7,250.31 218.33,251.34 C215.96,252.37 212.04,253.07 209.35,252.8 C206.65,252.53 204.23,250.93 202.18,249.74 C200.12,248.54 197.71,247 197.02,245.63 C196.34,244.26 197.07,242.75 198.07,241.52 C199.06,240.29 201.37,239.26 203.01,238.25 C204.65,237.24 206.38,236.16 207.88,235.46 C209.39,234.77 210.55,234.3 212.06,234.07 C213.57,233.84 215.2,233.84 216.94,234.07Z" fill="none" stroke="#111" stroke-width="0.72"/>
<path d="M216.77,234.72 C218.39,234.94 220.74,234.94 221.95,236.02 C223.16,237.1 223.86,239.47 224.02,241.2 C224.18,242.93 223.91,244.78 222.92,246.38 C221.92,247.98 220.26,249.82 218.06,250.78 C215.86,251.74 212.21,252.39 209.71,252.14 C207.2,251.89 204.95,250.4 203.04,249.29 C201.13,248.18 198.88,246.75 198.25,245.47 C197.61,244.2 198.29,242.8 199.22,241.65 C200.15,240.51 202.29,239.55 203.82,238.61 C205.34,237.67 206.95,236.67 208.35,236.02 C209.75,235.37 210.83,234.94 212.23,234.72 C213.64,234.51 215.15,234.51 216.77,234.72Z" fill="none" stroke="#111" stroke-width="0.72"/>
<path d="M216.6,235.37 C218.1,235.57 220.28,235.57 221.39,236.57 C222.51,237.56 223.16,239.76 223.31,241.36 C223.46,242.96 223.21,244.68 222.29,246.16 C221.37,247.64 219.84,249.35 217.8,250.23 C215.76,251.12 212.38,251.72 210.06,251.49 C207.75,251.26 205.66,249.88 203.89,248.86 C202.12,247.83 200.04,246.5 199.45,245.32 C198.86,244.14 199.49,242.84 200.35,241.78 C201.21,240.72 203.2,239.83 204.61,238.96 C206.02,238.09 207.51,237.16 208.8,236.57 C210.1,235.97 211.1,235.57 212.4,235.37 C213.7,235.17 215.1,235.17 216.6,235.37Z" fill="none" stroke="#111" stroke-width="0.72"/>
<path d="M216.43,236 C217.81,236.18 219.82,236.18 220.85,237.1 C221.88,238.03 222.48,240.05 222.62,241.52 C222.76,243 222.53,244.58 221.68,245.94 C220.83,247.3 219.41,248.88 217.54,249.7 C215.66,250.51 212.55,251.07 210.41,250.86 C208.28,250.64 206.35,249.37 204.73,248.43 C203.1,247.48 201.18,246.25 200.64,245.17 C200.1,244.08 200.68,242.88 201.47,241.91 C202.26,240.93 204.09,240.11 205.39,239.31 C206.69,238.51 208.06,237.66 209.25,237.1 C210.45,236.55 211.37,236.18 212.57,236 C213.76,235.82 215.05,235.82 216.43,236Z" fill="none" stroke="#111" stroke-width="0.72"/>
<path d="M216.27,236.63 C217.53,236.79 219.37,236.79 220.31,237.64 C221.26,238.48 221.8,240.33 221.93,241.68 C222.06,243.03 221.85,244.48 221.07,245.73 C220.3,246.97 219,248.41 217.28,249.16 C215.56,249.91 212.71,250.42 210.76,250.22 C208.8,250.03 207.04,248.87 205.55,248 C204.06,247.13 202.31,246.01 201.81,245.02 C201.31,244.02 201.85,242.93 202.57,242.04 C203.29,241.14 204.97,240.39 206.16,239.66 C207.35,238.93 208.6,238.14 209.7,237.64 C210.79,237.13 211.64,236.79 212.73,236.63 C213.83,236.46 215.01,236.46 216.27,236.63Z" fill="none" stroke="#111" stroke-width="0.72"/>
<path d="M216.11,237.25 C217.26,237.4 218.92,237.4 219.78,238.16 C220.64,238.93 221.14,240.61 221.25,241.84 C221.37,243.06 221.18,244.38 220.47,245.51 C219.77,246.65 218.59,247.95 217.03,248.64 C215.46,249.32 212.88,249.78 211.1,249.6 C209.33,249.42 207.73,248.37 206.37,247.58 C205.02,246.79 203.42,245.77 202.97,244.87 C202.52,243.97 203,242.97 203.66,242.16 C204.32,241.35 205.84,240.67 206.92,240 C208,239.34 209.14,238.62 210.14,238.16 C211.13,237.7 211.9,237.4 212.89,237.25 C213.89,237.09 214.96,237.09 216.11,237.25Z" fill="none" stroke="#111" stroke-width="0.72"/>
<path d="M215.95,237.86 C216.98,238 218.48,238 219.26,238.69 C220.03,239.37 220.48,240.89 220.58,241.99 C220.68,243.1 220.51,244.28 219.88,245.3 C219.24,246.32 218.18,247.5 216.77,248.11 C215.37,248.73 213.04,249.14 211.44,248.98 C209.84,248.82 208.4,247.87 207.18,247.16 C205.96,246.45 204.53,245.54 204.12,244.72 C203.71,243.91 204.15,243.01 204.74,242.28 C205.33,241.55 206.7,240.94 207.68,240.34 C208.65,239.74 209.68,239.1 210.57,238.69 C211.47,238.27 212.16,238 213.05,237.86 C213.95,237.72 214.91,237.72 215.95,237.86Z" fill="none" stroke="#111" stroke-width="0.72"/>
<path d="M215.79,238.47 C216.71,238.59 218.05,238.59 218.73,239.2 C219.42,239.82 219.82,241.17 219.91,242.15 C220.01,243.13 219.85,244.19 219.29,245.09 C218.72,246 217.78,247.05 216.53,247.6 C215.27,248.14 213.2,248.51 211.78,248.37 C210.35,248.23 209.07,247.38 207.98,246.75 C206.9,246.12 205.62,245.3 205.26,244.58 C204.9,243.85 205.28,243.06 205.81,242.41 C206.34,241.76 207.56,241.21 208.42,240.68 C209.29,240.14 210.2,239.57 211,239.2 C211.8,238.83 212.41,238.59 213.21,238.47 C214.01,238.34 214.87,238.34 215.79,238.47Z" fill="none" stroke="#111" stroke-width="0.72"/>
<path d="M215.63,239.07 C216.44,239.18 217.61,239.18 218.22,239.71 C218.82,240.25 219.17,241.44 219.25,242.3 C219.33,243.16 219.2,244.09 218.7,244.89 C218.21,245.68 217.38,246.61 216.28,247.09 C215.18,247.57 213.36,247.89 212.11,247.76 C210.86,247.64 209.73,246.9 208.78,246.34 C207.82,245.79 206.7,245.07 206.39,244.43 C206.07,243.8 206.41,243.1 206.87,242.53 C207.33,241.96 208.41,241.48 209.17,241.01 C209.93,240.54 210.73,240.04 211.43,239.71 C212.13,239.39 212.67,239.18 213.37,239.07 C214.07,238.96 214.82,238.96 215.63,239.07Z" fill="none" stroke="#111" stroke-width="0.72"/>
<path d="M215.48,239.67 C216.17,239.76 217.18,239.76 217.7,240.22 C218.23,240.69 218.53,241.71 218.6,242.45 C218.67,243.2 218.55,243.99 218.12,244.68 C217.7,245.37 216.98,246.16 216.03,246.58 C215.09,246.99 213.52,247.27 212.44,247.16 C211.36,247.06 210.39,246.41 209.57,245.94 C208.75,245.46 207.78,244.84 207.51,244.29 C207.23,243.74 207.52,243.14 207.92,242.65 C208.32,242.16 209.25,241.74 209.9,241.34 C210.56,240.93 211.25,240.5 211.85,240.22 C212.46,239.94 212.92,239.76 213.52,239.67 C214.13,239.57 214.78,239.57 215.48,239.67Z" fill="none" stroke="#111" stroke-width="0.72"/>
<path d="M215.32,240.26 C215.91,240.34 216.76,240.34 217.2,240.73 C217.63,241.12 217.89,241.98 217.95,242.6 C218,243.23 217.91,243.9 217.55,244.48 C217.19,245.06 216.59,245.72 215.79,246.07 C214.99,246.42 213.67,246.65 212.77,246.56 C211.86,246.47 211.04,245.94 210.35,245.53 C209.66,245.13 208.85,244.61 208.62,244.15 C208.39,243.69 208.63,243.18 208.97,242.77 C209.3,242.35 210.08,242.01 210.63,241.67 C211.18,241.33 211.77,240.96 212.27,240.73 C212.78,240.49 213.17,240.34 213.68,240.26 C214.19,240.18 214.73,240.18 215.32,240.26Z" fill="none" stroke="#111" stroke-width="0.72"/>
<path d="M215.17,240.85 C215.64,240.91 216.33,240.91 216.69,241.23 C217.05,241.55 217.25,242.24 217.3,242.75 C217.35,243.26 217.27,243.81 216.98,244.28 C216.68,244.75 216.19,245.29 215.55,245.57 C214.9,245.85 213.83,246.04 213.09,245.97 C212.35,245.9 211.69,245.46 211.13,245.13 C210.57,244.81 209.91,244.38 209.72,244.01 C209.53,243.63 209.73,243.22 210.01,242.89 C210.28,242.55 210.91,242.27 211.36,241.99 C211.81,241.71 212.28,241.42 212.69,241.23 C213.1,241.04 213.42,240.91 213.83,240.85 C214.25,240.79 214.69,240.79 215.17,240.85Z" fill="none" stroke="#111" stroke-width="0.72"/>
<path d="M215.01,241.43 C215.38,241.48 215.91,241.48 216.19,241.73 C216.46,241.97 216.62,242.51 216.66,242.9 C216.69,243.29 216.63,243.71 216.41,244.07 C216.18,244.44 215.81,244.85 215.31,245.07 C214.81,245.29 213.98,245.44 213.41,245.38 C212.85,245.32 212.34,244.99 211.9,244.73 C211.47,244.48 210.96,244.16 210.82,243.87 C210.67,243.58 210.83,243.26 211.04,243 C211.25,242.74 211.74,242.53 212.08,242.31 C212.42,242.1 212.79,241.87 213.11,241.73 C213.42,241.58 213.67,241.48 213.99,241.43 C214.3,241.39 214.65,241.39 215.01,241.43Z" fill="none" stroke="#111" stroke-width="0.72"/>
<path d="M214.86,242.02 C215.12,242.05 215.49,242.05 215.69,242.22 C215.88,242.4 215.99,242.77 216.02,243.05 C216.04,243.32 216,243.62 215.84,243.87 C215.68,244.13 215.42,244.42 215.07,244.58 C214.72,244.73 214.14,244.83 213.74,244.79 C213.34,244.75 212.98,244.52 212.67,244.34 C212.37,244.16 212.01,243.93 211.91,243.73 C211.81,243.53 211.92,243.3 212.06,243.12 C212.21,242.94 212.55,242.79 212.8,242.64 C213.04,242.49 213.3,242.33 213.52,242.22 C213.74,242.12 213.92,242.05 214.14,242.02 C214.36,241.98 214.6,241.98 214.86,242.02Z" fill="none" stroke="#111" stroke-width="0.72"/>
<path d="M214.71,242.6 C214.86,242.62 215.08,242.62 215.19,242.72 C215.3,242.82 215.37,243.04 215.38,243.2 C215.4,243.36 215.37,243.53 215.28,243.68 C215.19,243.82 215.03,244 214.83,244.08 C214.63,244.17 214.29,244.23 214.06,244.21 C213.82,244.19 213.61,244.05 213.44,243.95 C213.26,243.84 213.05,243.71 212.99,243.59 C212.94,243.47 213,243.34 213.08,243.24 C213.17,243.13 213.37,243.04 213.51,242.96 C213.65,242.87 213.8,242.78 213.93,242.72 C214.06,242.66 214.16,242.62 214.29,242.6 C214.42,242.58 214.56,242.58 214.71,242.6Z" fill="none" stroke="#111" stroke-width="0.72"/>
<path d="M216.86,235.17 C218.41,235.37 220.66,235.37 221.82,236.41 C222.98,237.44 223.65,239.71 223.8,241.37 C223.96,243.02 223.7,244.8 222.75,246.33 C221.8,247.86 220.21,249.62 218.1,250.54 C215.99,251.46 212.5,252.08 210.1,251.85 C207.7,251.61 205.55,250.18 203.72,249.12 C201.89,248.05 199.74,246.68 199.13,245.46 C198.52,244.24 199.17,242.9 200.06,241.8 C200.95,240.71 203,239.79 204.46,238.89 C205.92,237.99 207.46,237.03 208.8,236.41 C210.14,235.79 211.18,235.37 212.52,235.17 C213.86,234.96 215.31,234.96 216.86,235.17Z" fill="#161616" fill-opacity="0.6"/>
<ellipse cx="214.5" cy="243.4" rx="1.08" ry="0.81" fill="#fff"/>
<line x1="101.5" y1="36" x2="101.5" y2="131" stroke="#2a2a2a" stroke-width="1"/>
<line x1="39.5" y1="89.5" x2="142.5" y2="89.5" stroke="#2a2a2a" stroke-width="1"/>
<line x1="228.5" y1="36" x2="228.5" y2="131" stroke="#2a2a2a" stroke-width="1"/>
<line x1="166.5" y1="89.5" x2="269.5" y2="89.5" stroke="#2a2a2a" stroke-width="1"/>
<line x1="101.5" y1="176" x2="101.5" y2="271" stroke="#2a2a2a" stroke-width="1"/>
<line x1="39.5" y1="230.5" x2="142.5" y2="230.5" stroke="#2a2a2a" stroke-width="1"/>
<line x1="228.5" y1="176" x2="228.5" y2="271" stroke="#2a2a2a" stroke-width="1"/>
<line x1="166.5" y1="229.5" x2="269.5" y2="229.5" stroke="#2a2a2a" stroke-width="1"/>
<line x1="12.5" y1="253" x2="12.5" y2="291" stroke="#1e1e1e" stroke-width="1.1"/>
<line x1="12.1" y1="291.5" x2="50" y2="291.5" stroke="#1e1e1e" stroke-width="1.1"/>
<path d="M12.6,249.3 L9.5,256.5 L15.7,256.5 Z" fill="#1e1e1e"/>
<path d="M54.2,291 L47,287.9 L47,294.1 Z" fill="#1e1e1e"/>
<text transform="translate(15.9,234.5) rotate(-90) scale(0.9,1)" font-size="8.6" text-anchor="middle" fill="#1e1e1e" stroke="#1e1e1e" stroke-width="0.1">IFN-γ</text>
<text transform="translate(57.8,293.3) scale(0.87,1)" font-size="9.6" text-anchor="start" fill="#1e1e1e" stroke="#1e1e1e" stroke-width="0.1">TNF-α</text>
<line x1="304.5" y1="43.8" x2="304.5" y2="131.6" stroke="#1e1e1e" stroke-width="1.2"/>
<line x1="304.1" y1="131.5" x2="390.4" y2="131.5" stroke="#1e1e1e" stroke-width="1.2"/>
<line x1="301.5" y1="131.5" x2="304.7" y2="131.5" stroke="#1e1e1e" stroke-width="1"/>
<text transform="translate(298.2,133.85) scale(0.93,1)" font-size="7.9" text-anchor="end" fill="#1e1e1e" stroke="#1e1e1e" stroke-width="0.04">0</text>
<line x1="301.5" y1="114.5" x2="304.7" y2="114.5" stroke="#1e1e1e" stroke-width="1"/>
<text transform="translate(298.2,116.93) scale(0.93,1)" font-size="7.9" text-anchor="end" fill="#1e1e1e" stroke="#1e1e1e" stroke-width="0.04">10</text>
<line x1="301.5" y1="97.5" x2="304.7" y2="97.5" stroke="#1e1e1e" stroke-width="1"/>
<text transform="translate(298.2,100.01) scale(0.93,1)" font-size="7.9" text-anchor="end" fill="#1e1e1e" stroke="#1e1e1e" stroke-width="0.04">20</text>
<line x1="301.5" y1="80.5" x2="304.7" y2="80.5" stroke="#1e1e1e" stroke-width="1"/>
<text transform="translate(298.2,83.09) scale(0.93,1)" font-size="7.9" text-anchor="end" fill="#1e1e1e" stroke="#1e1e1e" stroke-width="0.04">30</text>
<line x1="301.5" y1="63.5" x2="304.7" y2="63.5" stroke="#1e1e1e" stroke-width="1"/>
<text transform="translate(298.2,66.17) scale(0.93,1)" font-size="7.9" text-anchor="end" fill="#1e1e1e" stroke="#1e1e1e" stroke-width="0.04">40</text>
<line x1="301.5" y1="46.5" x2="304.7" y2="46.5" stroke="#1e1e1e" stroke-width="1"/>
<text transform="translate(298.2,49.25) scale(0.93,1)" font-size="7.9" text-anchor="end" fill="#1e1e1e" stroke="#1e1e1e" stroke-width="0.04">50</text>
<line x1="314.5" y1="131" x2="314.5" y2="133.6" stroke="#1e1e1e" stroke-width="1"/>
<line x1="336.5" y1="131" x2="336.5" y2="133.6" stroke="#1e1e1e" stroke-width="1"/>
<line x1="358.5" y1="131" x2="358.5" y2="133.6" stroke="#1e1e1e" stroke-width="1"/>
<line x1="379.5" y1="131" x2="379.5" y2="133.6" stroke="#1e1e1e" stroke-width="1"/>
<text transform="translate(318,140.3) rotate(-45) scale(0.95,1)" font-size="7.7" text-anchor="end" fill="#1e1e1e" stroke="#1e1e1e" stroke-width="0.1">Naive</text>
<text transform="translate(339.6,140.3) rotate(-45) scale(0.95,1)" font-size="7.7" text-anchor="end" fill="#1e1e1e" stroke="#1e1e1e" stroke-width="0.1">UnRx</text>
<text transform="translate(361.2,140.3) rotate(-45) scale(0.95,1)" font-size="7.7" text-anchor="end" fill="#1e1e1e" stroke="#1e1e1e" stroke-width="0.1">α-IFNγ</text>
<text transform="translate(382.8,140.3) rotate(-45) scale(0.86,1)" font-size="7.7" text-anchor="end" fill="#1e1e1e" stroke="#1e1e1e" stroke-width="0.1">Ruxo</text>
<text transform="translate(284.2,86.8) rotate(-90)" font-size="8.9" text-anchor="middle" fill="#1e1e1e" stroke="#1e1e1e" stroke-width="0.15">Frequency</text>
<circle cx="310" cy="130.4" r="2.1" fill="#b3283a"/>
<circle cx="312.5" cy="130.4" r="2.1" fill="#b3283a"/>
<circle cx="315" cy="130.4" r="2.1" fill="#b3283a"/>
<circle cx="317.5" cy="130.4" r="2.1" fill="#b3283a"/>
<circle cx="320" cy="130.4" r="2.1" fill="#b3283a"/>
<rect x="331.8" y="80.9" width="4.4" height="4.4" fill="#3a5d8c"/>
<rect x="336.8" y="78.8" width="4.4" height="4.4" fill="#3a5d8c"/>
<rect x="331.8" y="87.3" width="4.4" height="4.4" fill="#3a5d8c"/>
<rect x="336.1" y="92.8" width="4.4" height="4.4" fill="#3a5d8c"/>
<rect x="334" y="97.4" width="4.4" height="4.4" fill="#3a5d8c"/>
<line x1="336.5" y1="82.2" x2="336.5" y2="97.2" stroke="#1e1e1e" stroke-width="0.9"/>
<line x1="328.9" y1="89.5" x2="343.9" y2="89.5" stroke="#1e1e1e" stroke-width="1.1"/>
<line x1="332.4" y1="82.5" x2="340.4" y2="82.5" stroke="#1e1e1e" stroke-width="0.9"/>
<line x1="332.4" y1="97.5" x2="340.4" y2="97.5" stroke="#1e1e1e" stroke-width="0.9"/>
<path d="M358,63 L360.5,67.4 L355.5,67.4Z" fill="#6cb24d"/>
<path d="M355.2,74.2 L357.7,78.6 L352.7,78.6Z" fill="#6cb24d"/>
<path d="M360.5,74.2 L363,78.6 L358,78.6Z" fill="#6cb24d"/>
<path d="M358,81 L360.5,85.4 L355.5,85.4Z" fill="#6cb24d"/>
<path d="M358,87.3 L360.5,91.7 L355.5,91.7Z" fill="#6cb24d"/>
<line x1="358.5" y1="68.2" x2="358.5" y2="87.3" stroke="#1e1e1e" stroke-width="0.9"/>
<line x1="350.5" y1="77.5" x2="365.5" y2="77.5" stroke="#1e1e1e" stroke-width="1.1"/>
<line x1="354" y1="68.5" x2="362" y2="68.5" stroke="#1e1e1e" stroke-width="0.9"/>
<line x1="354" y1="87.5" x2="362" y2="87.5" stroke="#1e1e1e" stroke-width="0.9"/>
<path d="M379,98.5 L381.5,94.1 L376.5,94.1Z" fill="#6e2f78"/>
<path d="M374.5,102.5 L377,98.1 L372,98.1Z" fill="#6e2f78"/>
<path d="M383.5,102.5 L386,98.1 L381,98.1Z" fill="#6e2f78"/>
<path d="M376.5,105 L379,100.6 L374,100.6Z" fill="#6e2f78"/>
<path d="M381.5,105 L384,100.6 L379,100.6Z" fill="#6e2f78"/>
<line x1="379.5" y1="97.5" x2="379.5" y2="103.8" stroke="#1e1e1e" stroke-width="0.9"/>
<line x1="372.1" y1="100.5" x2="387.1" y2="100.5" stroke="#1e1e1e" stroke-width="1.1"/>
<line x1="375.6" y1="97.5" x2="383.6" y2="97.5" stroke="#1e1e1e" stroke-width="0.9"/>
<line x1="375.6" y1="103.5" x2="383.6" y2="103.5" stroke="#1e1e1e" stroke-width="0.9"/>
<line x1="317.2" y1="33.5" x2="380.2" y2="33.5" stroke="#606060" stroke-width="1.25"/>
<rect x="343.05" y="29" width="2" height="2" rx="0.5" fill="#333"/>
<rect x="346.15" y="29" width="2" height="2" rx="0.5" fill="#333"/>
<rect x="349.25" y="29" width="2" height="2" rx="0.5" fill="#333"/>
<rect x="352.35" y="29" width="2" height="2" rx="0.5" fill="#333"/>
<line x1="317.2" y1="44.5" x2="358" y2="44.5" stroke="#606060" stroke-width="1.25"/>
<rect x="331.95" y="39.3" width="2" height="2" rx="0.5" fill="#333"/>
<rect x="335.05" y="39.3" width="2" height="2" rx="0.5" fill="#333"/>
<rect x="338.15" y="39.3" width="2" height="2" rx="0.5" fill="#333"/>
<rect x="341.25" y="39.3" width="2" height="2" rx="0.5" fill="#333"/>
<line x1="336.4" y1="51.5" x2="377.7" y2="51.5" stroke="#606060" stroke-width="1.25"/>
<rect x="356.05" y="46.3" width="2" height="2" rx="0.5" fill="#333"/>
<line x1="336.4" y1="60.5" x2="354.8" y2="60.5" stroke="#606060" stroke-width="1.25"/>
<rect x="344.6" y="55.4" width="2" height="2" rx="0.5" fill="#333"/>
<line x1="357" y1="60.5" x2="381.9" y2="60.5" stroke="#606060" stroke-width="1.25"/>
<rect x="365.35" y="55.4" width="2" height="2" rx="0.5" fill="#333"/>
<rect x="368.45" y="55.4" width="2" height="2" rx="0.5" fill="#333"/>
<rect x="371.55" y="55.4" width="2" height="2" rx="0.5" fill="#333"/>
<line x1="317.2" y1="74.5" x2="336.4" y2="74.5" stroke="#606060" stroke-width="1.25"/>
<rect x="322.7" y="70.2" width="2" height="2" rx="0.5" fill="#333"/>
<rect x="325.8" y="70.2" width="2" height="2" rx="0.5" fill="#333"/>
<rect x="328.9" y="70.2" width="2" height="2" rx="0.5" fill="#333"/>
<line x1="426.5" y1="43.8" x2="426.5" y2="131.6" stroke="#1e1e1e" stroke-width="1.2"/>
<line x1="426.3" y1="131.5" x2="512.9" y2="131.5" stroke="#1e1e1e" stroke-width="1.2"/>
<line x1="423.7" y1="46.5" x2="426.9" y2="46.5" stroke="#1e1e1e" stroke-width="1"/>
<text transform="translate(421.2,49.75) scale(0.93,1)" font-size="7.9" text-anchor="end" fill="#1e1e1e" stroke="#1e1e1e" stroke-width="0.04">8</text>
<line x1="423.7" y1="63.5" x2="426.9" y2="63.5" stroke="#1e1e1e" stroke-width="1"/>
<text transform="translate(421.2,66.65) scale(0.93,1)" font-size="7.9" text-anchor="end" fill="#1e1e1e" stroke="#1e1e1e" stroke-width="0.04">6</text>
<line x1="423.7" y1="80.5" x2="426.9" y2="80.5" stroke="#1e1e1e" stroke-width="1"/>
<text transform="translate(421.2,83.55) scale(0.93,1)" font-size="7.9" text-anchor="end" fill="#1e1e1e" stroke="#1e1e1e" stroke-width="0.04">4</text>
<line x1="423.7" y1="97.5" x2="426.9" y2="97.5" stroke="#1e1e1e" stroke-width="1"/>
<text transform="translate(421.2,100.45) scale(0.93,1)" font-size="7.9" text-anchor="end" fill="#1e1e1e" stroke="#1e1e1e" stroke-width="0.04">2</text>
<line x1="423.7" y1="114.5" x2="426.9" y2="114.5" stroke="#1e1e1e" stroke-width="1"/>
<text transform="translate(421.2,117.35) scale(0.93,1)" font-size="7.9" text-anchor="end" fill="#1e1e1e" stroke="#1e1e1e" stroke-width="0.04">0</text>
<line x1="423.7" y1="131.5" x2="426.9" y2="131.5" stroke="#1e1e1e" stroke-width="1"/>
<text transform="translate(421.2,134.25) scale(0.93,1)" font-size="7.9" text-anchor="end" fill="#1e1e1e" stroke="#1e1e1e" stroke-width="0.04">-2</text>
<line x1="438.5" y1="131" x2="438.5" y2="133.6" stroke="#1e1e1e" stroke-width="1"/>
<line x1="459.5" y1="131" x2="459.5" y2="133.6" stroke="#1e1e1e" stroke-width="1"/>
<line x1="480.5" y1="131" x2="480.5" y2="133.6" stroke="#1e1e1e" stroke-width="1"/>
<line x1="501.5" y1="131" x2="501.5" y2="133.6" stroke="#1e1e1e" stroke-width="1"/>
<text transform="translate(441.2,140.3) rotate(-45) scale(0.95,1)" font-size="7.7" text-anchor="end" fill="#1e1e1e" stroke="#1e1e1e" stroke-width="0.1">Naive</text>
<text transform="translate(462.4,140.3) rotate(-45) scale(0.95,1)" font-size="7.7" text-anchor="end" fill="#1e1e1e" stroke="#1e1e1e" stroke-width="0.1">UnRx</text>
<text transform="translate(483.6,140.3) rotate(-45) scale(0.95,1)" font-size="7.7" text-anchor="end" fill="#1e1e1e" stroke="#1e1e1e" stroke-width="0.1">α-IFNγ</text>
<text transform="translate(504.8,140.3) rotate(-45) scale(0.86,1)" font-size="7.7" text-anchor="end" fill="#1e1e1e" stroke="#1e1e1e" stroke-width="0.1">Ruxo</text>
<text transform="translate(411.8,86.5) rotate(-90)" font-size="8.9" text-anchor="middle" fill="#1e1e1e" stroke="#1e1e1e" stroke-width="0.15">Frequency</text>
<circle cx="433" cy="111.8" r="2.1" fill="#b3283a"/>
<circle cx="435.5" cy="113.4" r="2.1" fill="#b3283a"/>
<circle cx="438" cy="113.6" r="2.1" fill="#b3283a"/>
<circle cx="440.5" cy="113.6" r="2.1" fill="#b3283a"/>
<circle cx="443" cy="113.4" r="2.1" fill="#b3283a"/>
<rect x="457.5" y="81.55" width="4.4" height="4.4" fill="#3a5d8c"/>
<rect x="452.4" y="87.9" width="4.4" height="4.4" fill="#3a5d8c"/>
<rect x="461.9" y="86.4" width="4.4" height="4.4" fill="#3a5d8c"/>
<rect x="457" y="90.6" width="4.4" height="4.4" fill="#3a5d8c"/>
<rect x="457" y="100.6" width="4.4" height="4.4" fill="#3a5d8c"/>
<line x1="459.5" y1="84.4" x2="459.5" y2="98.1" stroke="#1e1e1e" stroke-width="0.9"/>
<line x1="451.7" y1="91.5" x2="466.7" y2="91.5" stroke="#1e1e1e" stroke-width="1.1"/>
<line x1="455.2" y1="84.5" x2="463.2" y2="84.5" stroke="#1e1e1e" stroke-width="0.9"/>
<line x1="455.2" y1="98.5" x2="463.2" y2="98.5" stroke="#1e1e1e" stroke-width="0.9"/>
<path d="M478.3,55.5 L480.8,59.9 L475.8,59.9Z" fill="#6cb24d"/>
<path d="M483.1,52 L485.6,56.4 L480.6,56.4Z" fill="#6cb24d"/>
<path d="M480.4,63 L482.9,67.4 L477.9,67.4Z" fill="#6cb24d"/>
<path d="M478.3,79.5 L480.8,83.9 L475.8,83.9Z" fill="#6cb24d"/>
<path d="M483,78.9 L485.5,83.3 L480.5,83.3Z" fill="#6cb24d"/>
<line x1="480.5" y1="54.9" x2="480.5" y2="82.8" stroke="#1e1e1e" stroke-width="0.9"/>
<line x1="472.9" y1="67.5" x2="487.9" y2="67.5" stroke="#1e1e1e" stroke-width="1.1"/>
<line x1="476.4" y1="54.5" x2="484.4" y2="54.5" stroke="#1e1e1e" stroke-width="0.9"/>
<line x1="476.4" y1="82.5" x2="484.4" y2="82.5" stroke="#1e1e1e" stroke-width="0.9"/>
<path d="M502,82.7 L504.5,78.3 L499.5,78.3Z" fill="#6e2f78"/>
<path d="M498.4,92.6 L500.9,88.2 L495.9,88.2Z" fill="#6e2f78"/>
<path d="M505.1,92.6 L507.6,88.2 L502.6,88.2Z" fill="#6e2f78"/>
<path d="M499.4,105.9 L501.9,101.5 L496.9,101.5Z" fill="#6e2f78"/>
<path d="M505,104.7 L507.5,100.3 L502.5,100.3Z" fill="#6e2f78"/>
<line x1="501.5" y1="85.2" x2="501.5" y2="103.8" stroke="#1e1e1e" stroke-width="0.9"/>
<line x1="494.1" y1="94.5" x2="509.1" y2="94.5" stroke="#1e1e1e" stroke-width="1.1"/>
<line x1="497.6" y1="85.5" x2="505.6" y2="85.5" stroke="#1e1e1e" stroke-width="0.9"/>
<line x1="497.6" y1="103.5" x2="505.6" y2="103.5" stroke="#1e1e1e" stroke-width="0.9"/>
<line x1="436" y1="33.5" x2="502.2" y2="33.5" stroke="#606060" stroke-width="1.25"/>
<rect x="468.1" y="28.9" width="2" height="2" rx="0.5" fill="#333"/>
<line x1="436" y1="42.5" x2="481.4" y2="42.5" stroke="#606060" stroke-width="1.25"/>
<rect x="453.05" y="37.4" width="2" height="2" rx="0.5" fill="#333"/>
<rect x="456.15" y="37.4" width="2" height="2" rx="0.5" fill="#333"/>
<rect x="459.25" y="37.4" width="2" height="2" rx="0.5" fill="#333"/>
<rect x="462.35" y="37.4" width="2" height="2" rx="0.5" fill="#333"/>
<line x1="457.1" y1="51.5" x2="479.3" y2="51.5" stroke="#606060" stroke-width="1.25"/>
<rect x="465.65" y="46.3" width="2" height="2" rx="0.5" fill="#333"/>
<rect x="468.75" y="46.3" width="2" height="2" rx="0.5" fill="#333"/>
<line x1="482" y1="51.5" x2="504.3" y2="51.5" stroke="#606060" stroke-width="1.25"/>
<rect x="490.6" y="46.3" width="2" height="2" rx="0.5" fill="#333"/>
<rect x="493.7" y="46.3" width="2" height="2" rx="0.5" fill="#333"/>
<line x1="436" y1="75.5" x2="457.8" y2="75.5" stroke="#606060" stroke-width="1.25"/>
<rect x="444.35" y="71.2" width="2" height="2" rx="0.5" fill="#333"/>
<rect x="447.45" y="71.2" width="2" height="2" rx="0.5" fill="#333"/>
<line x1="304.5" y1="182.2" x2="304.5" y2="271.6" stroke="#1e1e1e" stroke-width="1.2"/>
<line x1="303.4" y1="271.5" x2="389.7" y2="271.5" stroke="#1e1e1e" stroke-width="1.2"/>
<line x1="300.8" y1="271.5" x2="304" y2="271.5" stroke="#1e1e1e" stroke-width="1"/>
<text transform="translate(297.5,273.85) scale(0.93,1)" font-size="7.9" text-anchor="end" fill="#1e1e1e" stroke="#1e1e1e" stroke-width="0.04">0</text>
<line x1="300.8" y1="242.5" x2="304" y2="242.5" stroke="#1e1e1e" stroke-width="1"/>
<text transform="translate(297.5,245.05) scale(0.93,1)" font-size="7.9" text-anchor="end" fill="#1e1e1e" stroke="#1e1e1e" stroke-width="0.04">5</text>
<line x1="300.8" y1="213.5" x2="304" y2="213.5" stroke="#1e1e1e" stroke-width="1"/>
<text transform="translate(297.5,216.25) scale(0.93,1)" font-size="7.9" text-anchor="end" fill="#1e1e1e" stroke="#1e1e1e" stroke-width="0.04">10</text>
<line x1="300.8" y1="184.5" x2="304" y2="184.5" stroke="#1e1e1e" stroke-width="1"/>
<text transform="translate(297.5,187.45) scale(0.93,1)" font-size="7.9" text-anchor="end" fill="#1e1e1e" stroke="#1e1e1e" stroke-width="0.04">15</text>
<line x1="314.5" y1="271" x2="314.5" y2="273.6" stroke="#1e1e1e" stroke-width="1"/>
<line x1="336.5" y1="271" x2="336.5" y2="273.6" stroke="#1e1e1e" stroke-width="1"/>
<line x1="357.5" y1="271" x2="357.5" y2="273.6" stroke="#1e1e1e" stroke-width="1"/>
<line x1="378.5" y1="271" x2="378.5" y2="273.6" stroke="#1e1e1e" stroke-width="1"/>
<text transform="translate(317.9,280.3) rotate(-45) scale(0.95,1)" font-size="7.7" text-anchor="end" fill="#1e1e1e" stroke="#1e1e1e" stroke-width="0.1">Naive</text>
<text transform="translate(339.8,280.3) rotate(-45) scale(0.95,1)" font-size="7.7" text-anchor="end" fill="#1e1e1e" stroke="#1e1e1e" stroke-width="0.1">UnRx</text>
<text transform="translate(360.6,280.3) rotate(-45) scale(0.95,1)" font-size="7.7" text-anchor="end" fill="#1e1e1e" stroke="#1e1e1e" stroke-width="0.1">α-IFNγ</text>
<text transform="translate(382.1,280.3) rotate(-45) scale(0.86,1)" font-size="7.7" text-anchor="end" fill="#1e1e1e" stroke="#1e1e1e" stroke-width="0.1">Ruxo</text>
<text transform="translate(284.2,226.5) rotate(-90) scale(0.95,1)" font-size="9.4" text-anchor="middle" fill="#1e1e1e" stroke="#1e1e1e" stroke-width="0.15">Cell number (x10<tspan font-size="5.6" dy="-3">6</tspan><tspan dy="3">)</tspan></text>
<circle cx="310" cy="270.6" r="2.1" fill="#b3283a"/>
<circle cx="312.5" cy="270.6" r="2.1" fill="#b3283a"/>
<circle cx="315" cy="270.6" r="2.1" fill="#b3283a"/>
<circle cx="317.5" cy="270.6" r="2.1" fill="#b3283a"/>
<circle cx="320" cy="270.6" r="2.1" fill="#b3283a"/>
<rect x="329.3" y="224.7" width="4.4" height="4.4" fill="#3a5d8c"/>
<rect x="339" y="227" width="4.4" height="4.4" fill="#3a5d8c"/>
<rect x="334" y="228.6" width="4.4" height="4.4" fill="#3a5d8c"/>
<rect x="334" y="243.2" width="4.4" height="4.4" fill="#3a5d8c"/>
<rect x="334" y="253.6" width="4.4" height="4.4" fill="#3a5d8c"/>
<line x1="336.5" y1="224.6" x2="336.5" y2="250" stroke="#1e1e1e" stroke-width="0.9"/>
<line x1="329.1" y1="237.5" x2="344.1" y2="237.5" stroke="#1e1e1e" stroke-width="1.1"/>
<line x1="332.6" y1="224.5" x2="340.6" y2="224.5" stroke="#1e1e1e" stroke-width="0.9"/>
<line x1="332.6" y1="250.5" x2="340.6" y2="250.5" stroke="#1e1e1e" stroke-width="0.9"/>
<path d="M358.1,195 L360.6,199.4 L355.6,199.4Z" fill="#6cb24d"/>
<path d="M355,214.7 L357.5,219.1 L352.5,219.1Z" fill="#6cb24d"/>
<path d="M360.3,210.9 L362.8,215.3 L357.8,215.3Z" fill="#6cb24d"/>
<path d="M358.1,232.7 L360.6,237.1 L355.6,237.1Z" fill="#6cb24d"/>
<path d="M358.1,242 L360.6,246.4 L355.6,246.4Z" fill="#6cb24d"/>
<line x1="357.5" y1="202.8" x2="357.5" y2="240.2" stroke="#1e1e1e" stroke-width="0.9"/>
<line x1="349.9" y1="221.5" x2="364.9" y2="221.5" stroke="#1e1e1e" stroke-width="1.1"/>
<line x1="353.4" y1="202.5" x2="361.4" y2="202.5" stroke="#1e1e1e" stroke-width="0.9"/>
<line x1="353.4" y1="240.5" x2="361.4" y2="240.5" stroke="#1e1e1e" stroke-width="0.9"/>
<path d="M374.5,266.5 L377,262.1 L372,262.1Z" fill="#6e2f78"/>
<path d="M378.5,268 L381,263.6 L376,263.6Z" fill="#6e2f78"/>
<path d="M382.5,268.5 L385,264.1 L380,264.1Z" fill="#6e2f78"/>
<path d="M376.5,270 L379,265.6 L374,265.6Z" fill="#6e2f78"/>
<path d="M381,270 L383.5,265.6 L378.5,265.6Z" fill="#6e2f78"/>
<line x1="378.5" y1="263.5" x2="378.5" y2="267.5" stroke="#1e1e1e" stroke-width="0.9"/>
<line x1="371.4" y1="265.5" x2="386.4" y2="265.5" stroke="#1e1e1e" stroke-width="1.1"/>
<line x1="374.9" y1="263.5" x2="382.9" y2="263.5" stroke="#1e1e1e" stroke-width="0.9"/>
<line x1="374.9" y1="267.5" x2="382.9" y2="267.5" stroke="#1e1e1e" stroke-width="0.9"/>
<line x1="336.3" y1="182.5" x2="377.6" y2="182.5" stroke="#606060" stroke-width="1.25"/>
<rect x="354.4" y="177.6" width="2" height="2" rx="0.5" fill="#333"/>
<rect x="357.5" y="177.6" width="2" height="2" rx="0.5" fill="#333"/>
<line x1="313.7" y1="192.5" x2="354.3" y2="192.5" stroke="#606060" stroke-width="1.25"/>
<rect x="328.35" y="187.8" width="2" height="2" rx="0.5" fill="#333"/>
<rect x="331.45" y="187.8" width="2" height="2" rx="0.5" fill="#333"/>
<rect x="334.55" y="187.8" width="2" height="2" rx="0.5" fill="#333"/>
<rect x="337.65" y="187.8" width="2" height="2" rx="0.5" fill="#333"/>
<line x1="357.1" y1="192.5" x2="381.8" y2="192.5" stroke="#606060" stroke-width="1.25"/>
<rect x="363.8" y="187.8" width="2" height="2" rx="0.5" fill="#333"/>
<rect x="366.9" y="187.8" width="2" height="2" rx="0.5" fill="#333"/>
<rect x="370" y="187.8" width="2" height="2" rx="0.5" fill="#333"/>
<rect x="373.1" y="187.8" width="2" height="2" rx="0.5" fill="#333"/>
<line x1="313.7" y1="219.5" x2="334.2" y2="219.5" stroke="#606060" stroke-width="1.25"/>
<rect x="321.4" y="214.9" width="2" height="2" rx="0.5" fill="#333"/>
<rect x="324.5" y="214.9" width="2" height="2" rx="0.5" fill="#333"/>
<line x1="426.5" y1="183.7" x2="426.5" y2="271.4" stroke="#1e1e1e" stroke-width="1.2"/>
<line x1="426" y1="270.5" x2="510.2" y2="270.5" stroke="#1e1e1e" stroke-width="1.2"/>
<line x1="423.4" y1="270.5" x2="426.6" y2="270.5" stroke="#1e1e1e" stroke-width="1"/>
<text transform="translate(421.1,273.65) scale(0.93,1)" font-size="7.9" text-anchor="end" fill="#1e1e1e" stroke="#1e1e1e" stroke-width="0.04">0.0</text>
<line x1="423.4" y1="253.5" x2="426.6" y2="253.5" stroke="#1e1e1e" stroke-width="1"/>
<text transform="translate(421.1,256.75) scale(0.93,1)" font-size="7.9" text-anchor="end" fill="#1e1e1e" stroke="#1e1e1e" stroke-width="0.04">0.5</text>
<line x1="423.4" y1="237.5" x2="426.6" y2="237.5" stroke="#1e1e1e" stroke-width="1"/>
<text transform="translate(421.1,239.85) scale(0.93,1)" font-size="7.9" text-anchor="end" fill="#1e1e1e" stroke="#1e1e1e" stroke-width="0.04">1.0</text>
<line x1="423.4" y1="220.5" x2="426.6" y2="220.5" stroke="#1e1e1e" stroke-width="1"/>
<text transform="translate(421.1,222.95) scale(0.93,1)" font-size="7.9" text-anchor="end" fill="#1e1e1e" stroke="#1e1e1e" stroke-width="0.04">1.5</text>
<line x1="423.4" y1="203.5" x2="426.6" y2="203.5" stroke="#1e1e1e" stroke-width="1"/>
<text transform="translate(421.1,206.05) scale(0.93,1)" font-size="7.9" text-anchor="end" fill="#1e1e1e" stroke="#1e1e1e" stroke-width="0.04">2.0</text>
<line x1="423.4" y1="186.5" x2="426.6" y2="186.5" stroke="#1e1e1e" stroke-width="1"/>
<text transform="translate(421.1,189.15) scale(0.93,1)" font-size="7.9" text-anchor="end" fill="#1e1e1e" stroke="#1e1e1e" stroke-width="0.04">2.5</text>
<line x1="437.5" y1="270.8" x2="437.5" y2="273.4" stroke="#1e1e1e" stroke-width="1"/>
<line x1="459.5" y1="270.8" x2="459.5" y2="273.4" stroke="#1e1e1e" stroke-width="1"/>
<line x1="480.5" y1="270.8" x2="480.5" y2="273.4" stroke="#1e1e1e" stroke-width="1"/>
<line x1="502.5" y1="270.8" x2="502.5" y2="273.4" stroke="#1e1e1e" stroke-width="1"/>
<text transform="translate(440.9,280.1) rotate(-45) scale(0.95,1)" font-size="7.7" text-anchor="end" fill="#1e1e1e" stroke="#1e1e1e" stroke-width="0.1">Naive</text>
<text transform="translate(462.4,280.1) rotate(-45) scale(0.95,1)" font-size="7.7" text-anchor="end" fill="#1e1e1e" stroke="#1e1e1e" stroke-width="0.1">UnRx</text>
<text transform="translate(484.1,280.1) rotate(-45) scale(0.95,1)" font-size="7.7" text-anchor="end" fill="#1e1e1e" stroke="#1e1e1e" stroke-width="0.1">α-IFNγ</text>
<text transform="translate(505.5,280.1) rotate(-45) scale(0.86,1)" font-size="7.7" text-anchor="end" fill="#1e1e1e" stroke="#1e1e1e" stroke-width="0.1">Ruxo</text>
<text transform="translate(405.5,227) rotate(-90) scale(0.95,1)" font-size="9.4" text-anchor="middle" fill="#1e1e1e" stroke="#1e1e1e" stroke-width="0.15">Cell number (x10<tspan font-size="5.6" dy="-3">6</tspan><tspan dy="3">)</tspan></text>
<circle cx="433" cy="270.4" r="2.1" fill="#b3283a"/>
<circle cx="435.5" cy="270.4" r="2.1" fill="#b3283a"/>
<circle cx="438" cy="270.4" r="2.1" fill="#b3283a"/>
<circle cx="440.5" cy="270.4" r="2.1" fill="#b3283a"/>
<circle cx="443" cy="270.4" r="2.1" fill="#b3283a"/>
<rect x="457" y="236.3" width="4.4" height="4.4" fill="#3a5d8c"/>
<rect x="454" y="242.5" width="4.4" height="4.4" fill="#3a5d8c"/>
<rect x="459.7" y="242.5" width="4.4" height="4.4" fill="#3a5d8c"/>
<rect x="457" y="247.8" width="4.4" height="4.4" fill="#3a5d8c"/>
<rect x="457" y="262.3" width="4.4" height="4.4" fill="#3a5d8c"/>
<line x1="459.5" y1="239.2" x2="459.5" y2="258.5" stroke="#1e1e1e" stroke-width="0.9"/>
<line x1="451.7" y1="248.5" x2="466.7" y2="248.5" stroke="#1e1e1e" stroke-width="1.1"/>
<line x1="455.2" y1="239.5" x2="463.2" y2="239.5" stroke="#1e1e1e" stroke-width="0.9"/>
<line x1="455.2" y1="258.5" x2="463.2" y2="258.5" stroke="#1e1e1e" stroke-width="0.9"/>
<path d="M480.4,188.7 L482.9,193.1 L477.9,193.1Z" fill="#6cb24d"/>
<path d="M480.4,215.5 L482.9,219.9 L477.9,219.9Z" fill="#6cb24d"/>
<path d="M480.4,228 L482.9,232.4 L477.9,232.4Z" fill="#6cb24d"/>
<path d="M483.2,230.3 L485.7,234.7 L480.7,234.7Z" fill="#6cb24d"/>
<path d="M477.6,234.4 L480.1,238.8 L475.1,238.8Z" fill="#6cb24d"/>
<line x1="480.5" y1="202.8" x2="480.5" y2="240" stroke="#1e1e1e" stroke-width="0.9"/>
<line x1="473.4" y1="221.5" x2="488.4" y2="221.5" stroke="#1e1e1e" stroke-width="1.1"/>
<line x1="476.9" y1="202.5" x2="484.9" y2="202.5" stroke="#1e1e1e" stroke-width="0.9"/>
<line x1="476.9" y1="240.5" x2="484.9" y2="240.5" stroke="#1e1e1e" stroke-width="0.9"/>
<path d="M497,267.5 L499.5,263.1 L494.5,263.1Z" fill="#6e2f78"/>
<path d="M501,268.5 L503.5,264.1 L498.5,264.1Z" fill="#6e2f78"/>
<path d="M505,267.5 L507.5,263.1 L502.5,263.1Z" fill="#6e2f78"/>
<path d="M499,270 L501.5,265.6 L496.5,265.6Z" fill="#6e2f78"/>
<path d="M503,270 L505.5,265.6 L500.5,265.6Z" fill="#6e2f78"/>
<line x1="502.5" y1="264.5" x2="502.5" y2="268" stroke="#1e1e1e" stroke-width="0.9"/>
<line x1="494.8" y1="266.5" x2="509.8" y2="266.5" stroke="#1e1e1e" stroke-width="1.1"/>
<line x1="498.3" y1="264.5" x2="506.3" y2="264.5" stroke="#1e1e1e" stroke-width="0.9"/>
<line x1="498.3" y1="268.5" x2="506.3" y2="268.5" stroke="#1e1e1e" stroke-width="0.9"/>
<line x1="437.7" y1="180.5" x2="477.6" y2="180.5" stroke="#606060" stroke-width="1.25"/>
<rect x="452" y="175.5" width="2" height="2" rx="0.5" fill="#333"/>
<rect x="455.1" y="175.5" width="2" height="2" rx="0.5" fill="#333"/>
<rect x="458.2" y="175.5" width="2" height="2" rx="0.5" fill="#333"/>
<rect x="461.3" y="175.5" width="2" height="2" rx="0.5" fill="#333"/>
<line x1="478.8" y1="180.5" x2="503.9" y2="180.5" stroke="#606060" stroke-width="1.25"/>
<rect x="487.25" y="175.5" width="2" height="2" rx="0.5" fill="#333"/>
<rect x="490.35" y="175.5" width="2" height="2" rx="0.5" fill="#333"/>
<rect x="493.45" y="175.5" width="2" height="2" rx="0.5" fill="#333"/>
<line x1="457.3" y1="187.5" x2="477.6" y2="187.5" stroke="#606060" stroke-width="1.25"/>
<rect x="464.9" y="182.9" width="2" height="2" rx="0.5" fill="#333"/>
<rect x="468" y="182.9" width="2" height="2" rx="0.5" fill="#333"/>
<line x1="437.7" y1="232.5" x2="458.5" y2="232.5" stroke="#606060" stroke-width="1.25"/>
<rect x="447.1" y="227.9" width="2" height="2" rx="0.5" fill="#333"/>
<line x1="49.5" y1="346.6" x2="49.5" y2="439.4" stroke="#1e1e1e" stroke-width="1.2"/>
<line x1="48.6" y1="438.5" x2="139.9" y2="438.5" stroke="#1e1e1e" stroke-width="1.2"/>
<line x1="46" y1="438.5" x2="49.2" y2="438.5" stroke="#1e1e1e" stroke-width="1"/>
<text transform="translate(43.2,441.65) scale(0.93,1)" font-size="7.9" text-anchor="end" fill="#1e1e1e" stroke="#1e1e1e" stroke-width="0.04">0</text>
<line x1="46" y1="420.5" x2="49.2" y2="420.5" stroke="#1e1e1e" stroke-width="1"/>
<text transform="translate(43.2,423.52) scale(0.93,1)" font-size="7.9" text-anchor="end" fill="#1e1e1e" stroke="#1e1e1e" stroke-width="0.04">2000</text>
<line x1="46" y1="402.5" x2="49.2" y2="402.5" stroke="#1e1e1e" stroke-width="1"/>
<text transform="translate(43.2,405.39) scale(0.93,1)" font-size="7.9" text-anchor="end" fill="#1e1e1e" stroke="#1e1e1e" stroke-width="0.04">4000</text>
<line x1="46" y1="384.5" x2="49.2" y2="384.5" stroke="#1e1e1e" stroke-width="1"/>
<text transform="translate(43.2,387.26) scale(0.93,1)" font-size="7.9" text-anchor="end" fill="#1e1e1e" stroke="#1e1e1e" stroke-width="0.04">6000</text>
<line x1="46" y1="366.5" x2="49.2" y2="366.5" stroke="#1e1e1e" stroke-width="1"/>
<text transform="translate(43.2,369.13) scale(0.93,1)" font-size="7.9" text-anchor="end" fill="#1e1e1e" stroke="#1e1e1e" stroke-width="0.04">8000</text>
<line x1="46" y1="348.5" x2="49.2" y2="348.5" stroke="#1e1e1e" stroke-width="1"/>
<text transform="translate(43.2,351) scale(0.93,1)" font-size="7.9" text-anchor="end" fill="#1e1e1e" stroke="#1e1e1e" stroke-width="0.04">10000</text>
<line x1="60.5" y1="438.8" x2="60.5" y2="441.4" stroke="#1e1e1e" stroke-width="1"/>
<line x1="83.5" y1="438.8" x2="83.5" y2="441.4" stroke="#1e1e1e" stroke-width="1"/>
<line x1="106.5" y1="438.8" x2="106.5" y2="441.4" stroke="#1e1e1e" stroke-width="1"/>
<line x1="129.5" y1="438.8" x2="129.5" y2="441.4" stroke="#1e1e1e" stroke-width="1"/>
<text transform="translate(63.9,448.1) rotate(-45) scale(0.95,1)" font-size="7.7" text-anchor="end" fill="#1e1e1e" stroke="#1e1e1e" stroke-width="0.1">Naive</text>
<text transform="translate(86.6,448.1) rotate(-45) scale(0.95,1)" font-size="7.7" text-anchor="end" fill="#1e1e1e" stroke="#1e1e1e" stroke-width="0.1">UnRx</text>
<text transform="translate(109.4,448.1) rotate(-45) scale(0.95,1)" font-size="7.7" text-anchor="end" fill="#1e1e1e" stroke="#1e1e1e" stroke-width="0.1">α-IFNγ</text>
<text transform="translate(132.5,448.1) rotate(-45) scale(0.86,1)" font-size="7.7" text-anchor="end" fill="#1e1e1e" stroke="#1e1e1e" stroke-width="0.1">Ruxo</text>
<text transform="translate(15.3,392.5) rotate(-90)" font-size="8.2" text-anchor="middle" fill="#1e1e1e" stroke="#1e1e1e" stroke-width="0.15">MFI IFNγ</text>
<circle cx="56" cy="436.8" r="2.1" fill="#b3283a"/>
<circle cx="58.5" cy="436.8" r="2.1" fill="#b3283a"/>
<circle cx="61" cy="436.8" r="2.1" fill="#b3283a"/>
<circle cx="63.5" cy="436.8" r="2.1" fill="#b3283a"/>
<circle cx="66" cy="436.8" r="2.1" fill="#b3283a"/>
<rect x="78.8" y="400.2" width="4.4" height="4.4" fill="#3a5d8c"/>
<rect x="84.2" y="398.8" width="4.4" height="4.4" fill="#3a5d8c"/>
<rect x="78.8" y="406.8" width="4.4" height="4.4" fill="#3a5d8c"/>
<rect x="84.2" y="409.8" width="4.4" height="4.4" fill="#3a5d8c"/>
<rect x="81.8" y="415.8" width="4.4" height="4.4" fill="#3a5d8c"/>
<line x1="83.5" y1="400.6" x2="83.5" y2="415.6" stroke="#1e1e1e" stroke-width="0.9"/>
<line x1="76.1" y1="408.5" x2="91.1" y2="408.5" stroke="#1e1e1e" stroke-width="1.1"/>
<line x1="79.6" y1="400.5" x2="87.6" y2="400.5" stroke="#1e1e1e" stroke-width="0.9"/>
<line x1="79.6" y1="415.5" x2="87.6" y2="415.5" stroke="#1e1e1e" stroke-width="0.9"/>
<path d="M106.1,358.3 L108.6,362.7 L103.6,362.7Z" fill="#6cb24d"/>
<path d="M106.1,369.8 L108.6,374.2 L103.6,374.2Z" fill="#6cb24d"/>
<path d="M102.4,388 L104.9,392.4 L99.9,392.4Z" fill="#6cb24d"/>
<path d="M109.6,390 L112.1,394.4 L107.1,394.4Z" fill="#6cb24d"/>
<path d="M106.1,401 L108.6,405.4 L103.6,405.4Z" fill="#6cb24d"/>
<line x1="106.5" y1="366.5" x2="106.5" y2="401.1" stroke="#1e1e1e" stroke-width="0.9"/>
<line x1="98.6" y1="383.5" x2="113.6" y2="383.5" stroke="#1e1e1e" stroke-width="1.1"/>
<line x1="102.1" y1="366.5" x2="110.1" y2="366.5" stroke="#1e1e1e" stroke-width="0.9"/>
<line x1="102.1" y1="401.5" x2="110.1" y2="401.5" stroke="#1e1e1e" stroke-width="0.9"/>
<path d="M124,414.9 L126.5,410.5 L121.5,410.5Z" fill="#6e2f78"/>
<path d="M129,416.1 L131.5,411.7 L126.5,411.7Z" fill="#6e2f78"/>
<path d="M131.5,416.5 L134,412.1 L129,412.1Z" fill="#6e2f78"/>
<path d="M134,411.1 L136.5,406.7 L131.5,406.7Z" fill="#6e2f78"/>
<path d="M126,425.5 L128.5,421.1 L123.5,421.1Z" fill="#6e2f78"/>
<line x1="129.5" y1="412" x2="129.5" y2="421.4" stroke="#1e1e1e" stroke-width="0.9"/>
<line x1="121.8" y1="416.5" x2="136.8" y2="416.5" stroke="#1e1e1e" stroke-width="1.1"/>
<line x1="125.3" y1="412.5" x2="133.3" y2="412.5" stroke="#1e1e1e" stroke-width="0.9"/>
<line x1="125.3" y1="421.5" x2="133.3" y2="421.5" stroke="#1e1e1e" stroke-width="0.9"/>
<line x1="59.8" y1="336.5" x2="131.1" y2="336.5" stroke="#606060" stroke-width="1.25"/>
<rect x="94.45" y="331.5" width="2" height="2" rx="0.5" fill="#333"/>
<line x1="59.8" y1="344.5" x2="106.4" y2="344.5" stroke="#606060" stroke-width="1.25"/>
<rect x="77.45" y="339.9" width="2" height="2" rx="0.5" fill="#333"/>
<rect x="80.55" y="339.9" width="2" height="2" rx="0.5" fill="#333"/>
<rect x="83.65" y="339.9" width="2" height="2" rx="0.5" fill="#333"/>
<rect x="86.75" y="339.9" width="2" height="2" rx="0.5" fill="#333"/>
<line x1="82.1" y1="353.5" x2="105" y2="353.5" stroke="#606060" stroke-width="1.25"/>
<rect x="91" y="348.5" width="2" height="2" rx="0.5" fill="#333"/>
<rect x="94.1" y="348.5" width="2" height="2" rx="0.5" fill="#333"/>
<line x1="106.4" y1="352.5" x2="131.1" y2="352.5" stroke="#606060" stroke-width="1.25"/>
<rect x="114.65" y="348.2" width="2" height="2" rx="0.5" fill="#333"/>
<rect x="117.75" y="348.2" width="2" height="2" rx="0.5" fill="#333"/>
<rect x="120.85" y="348.2" width="2" height="2" rx="0.5" fill="#333"/>
<line x1="61.4" y1="394.5" x2="83.6" y2="394.5" stroke="#606060" stroke-width="1.25"/>
<rect x="69.95" y="389.8" width="2" height="2" rx="0.5" fill="#333"/>
<rect x="73.05" y="389.8" width="2" height="2" rx="0.5" fill="#333"/>
<line x1="296.5" y1="345.2" x2="296.5" y2="439.2" stroke="#1e1e1e" stroke-width="1.2"/>
<line x1="295.6" y1="438.5" x2="386.1" y2="438.5" stroke="#1e1e1e" stroke-width="1.2"/>
<line x1="293" y1="438.5" x2="296.2" y2="438.5" stroke="#1e1e1e" stroke-width="1"/>
<text transform="translate(290.2,441.45) scale(0.93,1)" font-size="7.9" text-anchor="end" fill="#1e1e1e" stroke="#1e1e1e" stroke-width="0.04">0</text>
<line x1="293" y1="415.5" x2="296.2" y2="415.5" stroke="#1e1e1e" stroke-width="1"/>
<text transform="translate(290.2,418.37) scale(0.93,1)" font-size="7.9" text-anchor="end" fill="#1e1e1e" stroke="#1e1e1e" stroke-width="0.04">1000</text>
<line x1="293" y1="392.5" x2="296.2" y2="392.5" stroke="#1e1e1e" stroke-width="1"/>
<text transform="translate(290.2,395.29) scale(0.93,1)" font-size="7.9" text-anchor="end" fill="#1e1e1e" stroke="#1e1e1e" stroke-width="0.04">2000</text>
<line x1="293" y1="369.5" x2="296.2" y2="369.5" stroke="#1e1e1e" stroke-width="1"/>
<text transform="translate(290.2,372.21) scale(0.93,1)" font-size="7.9" text-anchor="end" fill="#1e1e1e" stroke="#1e1e1e" stroke-width="0.04">3000</text>
<line x1="293" y1="346.5" x2="296.2" y2="346.5" stroke="#1e1e1e" stroke-width="1"/>
<text transform="translate(290.2,349.13) scale(0.93,1)" font-size="7.9" text-anchor="end" fill="#1e1e1e" stroke="#1e1e1e" stroke-width="0.04">4000</text>
<line x1="307.5" y1="438.6" x2="307.5" y2="441.2" stroke="#1e1e1e" stroke-width="1"/>
<line x1="330.5" y1="438.6" x2="330.5" y2="441.2" stroke="#1e1e1e" stroke-width="1"/>
<line x1="352.5" y1="438.6" x2="352.5" y2="441.2" stroke="#1e1e1e" stroke-width="1"/>
<line x1="375.5" y1="438.6" x2="375.5" y2="441.2" stroke="#1e1e1e" stroke-width="1"/>
<text transform="translate(310.9,447.9) rotate(-45) scale(0.95,1)" font-size="7.7" text-anchor="end" fill="#1e1e1e" stroke="#1e1e1e" stroke-width="0.1">Naive</text>
<text transform="translate(333.4,447.9) rotate(-45) scale(0.95,1)" font-size="7.7" text-anchor="end" fill="#1e1e1e" stroke="#1e1e1e" stroke-width="0.1">UnRx</text>
<text transform="translate(355.6,447.9) rotate(-45) scale(0.95,1)" font-size="7.7" text-anchor="end" fill="#1e1e1e" stroke="#1e1e1e" stroke-width="0.1">α-IFNγ</text>
<text transform="translate(378.7,447.9) rotate(-45) scale(0.86,1)" font-size="7.7" text-anchor="end" fill="#1e1e1e" stroke="#1e1e1e" stroke-width="0.1">Ruxo</text>
<text transform="translate(267.1,391.3) rotate(-90)" font-size="8.6" text-anchor="middle" fill="#1e1e1e" stroke="#1e1e1e" stroke-width="0.15">MFI TNFα</text>
<circle cx="307.6" cy="397.3" r="2.1" fill="#b3283a"/>
<circle cx="302.8" cy="408.8" r="2.1" fill="#b3283a"/>
<circle cx="312.6" cy="408.8" r="2.1" fill="#b3283a"/>
<circle cx="305.5" cy="411.3" r="2.1" fill="#b3283a"/>
<circle cx="309.7" cy="411.3" r="2.1" fill="#b3283a"/>
<line x1="307.5" y1="401.4" x2="307.5" y2="412.1" stroke="#1e1e1e" stroke-width="0.9"/>
<line x1="300.2" y1="407.5" x2="315.2" y2="407.5" stroke="#1e1e1e" stroke-width="1.1"/>
<line x1="303.7" y1="401.5" x2="311.7" y2="401.5" stroke="#1e1e1e" stroke-width="0.9"/>
<line x1="303.7" y1="412.5" x2="311.7" y2="412.5" stroke="#1e1e1e" stroke-width="0.9"/>
<rect x="327.5" y="370.4" width="4.4" height="4.4" fill="#3a5d8c"/>
<rect x="323.1" y="376.8" width="4.4" height="4.4" fill="#3a5d8c"/>
<rect x="332.3" y="376.8" width="4.4" height="4.4" fill="#3a5d8c"/>
<rect x="327.5" y="380.8" width="4.4" height="4.4" fill="#3a5d8c"/>
<rect x="327.5" y="386" width="4.4" height="4.4" fill="#3a5d8c"/>
<line x1="330.5" y1="374.3" x2="330.5" y2="385.3" stroke="#1e1e1e" stroke-width="0.9"/>
<line x1="322.7" y1="379.5" x2="337.7" y2="379.5" stroke="#1e1e1e" stroke-width="1.1"/>
<line x1="326.2" y1="374.5" x2="334.2" y2="374.5" stroke="#1e1e1e" stroke-width="0.9"/>
<line x1="326.2" y1="385.5" x2="334.2" y2="385.5" stroke="#1e1e1e" stroke-width="0.9"/>
<path d="M349.7,360.7 L352.2,365.1 L347.2,365.1Z" fill="#6cb24d"/>
<path d="M355.4,359.9 L357.9,364.3 L352.9,364.3Z" fill="#6cb24d"/>
<path d="M350.2,370.8 L352.7,375.2 L347.7,375.2Z" fill="#6cb24d"/>
<path d="M355.4,370.8 L357.9,375.2 L352.9,375.2Z" fill="#6cb24d"/>
<path d="M352.9,380.2 L355.4,384.6 L350.4,384.6Z" fill="#6cb24d"/>
<line x1="352.5" y1="362.5" x2="352.5" y2="379.5" stroke="#1e1e1e" stroke-width="0.9"/>
<line x1="344.9" y1="370.5" x2="359.9" y2="370.5" stroke="#1e1e1e" stroke-width="1.1"/>
<line x1="348.4" y1="362.5" x2="356.4" y2="362.5" stroke="#1e1e1e" stroke-width="0.9"/>
<line x1="348.4" y1="379.5" x2="356.4" y2="379.5" stroke="#1e1e1e" stroke-width="0.9"/>
<path d="M375,373 L377.5,368.6 L372.5,368.6Z" fill="#6e2f78"/>
<path d="M371.8,383.5 L374.3,379.1 L369.3,379.1Z" fill="#6e2f78"/>
<path d="M378.2,386.7 L380.7,382.3 L375.7,382.3Z" fill="#6e2f78"/>
<path d="M372.9,393.7 L375.4,389.3 L370.4,389.3Z" fill="#6e2f78"/>
<path d="M378.2,393.7 L380.7,389.3 L375.7,389.3Z" fill="#6e2f78"/>
<line x1="375.5" y1="375.8" x2="375.5" y2="392.6" stroke="#1e1e1e" stroke-width="0.9"/>
<line x1="368" y1="384.5" x2="383" y2="384.5" stroke="#1e1e1e" stroke-width="1.1"/>
<line x1="371.5" y1="375.5" x2="379.5" y2="375.5" stroke="#1e1e1e" stroke-width="0.9"/>
<line x1="371.5" y1="392.5" x2="379.5" y2="392.5" stroke="#1e1e1e" stroke-width="0.9"/>
<line x1="307.1" y1="343.5" x2="376" y2="343.5" stroke="#606060" stroke-width="1.25"/>
<rect x="337.45" y="339.1" width="2" height="2" rx="0.5" fill="#333"/>
<rect x="340.55" y="339.1" width="2" height="2" rx="0.5" fill="#333"/>
<rect x="343.65" y="339.1" width="2" height="2" rx="0.5" fill="#333"/>
<line x1="307.1" y1="354.5" x2="351.8" y2="354.5" stroke="#606060" stroke-width="1.25"/>
<rect x="323.8" y="349.3" width="2" height="2" rx="0.5" fill="#333"/>
<rect x="326.9" y="349.3" width="2" height="2" rx="0.5" fill="#333"/>
<rect x="330" y="349.3" width="2" height="2" rx="0.5" fill="#333"/>
<rect x="333.1" y="349.3" width="2" height="2" rx="0.5" fill="#333"/>
<line x1="351.8" y1="356.5" x2="377.9" y2="356.5" stroke="#606060" stroke-width="1.25"/>
<rect x="363.85" y="352" width="2" height="2" rx="0.5" fill="#333"/>
<line x1="307.1" y1="362.5" x2="329.4" y2="362.5" stroke="#606060" stroke-width="1.25"/>
<rect x="314.15" y="357.4" width="2" height="2" rx="0.5" fill="#333"/>
<rect x="317.25" y="357.4" width="2" height="2" rx="0.5" fill="#333"/>
<rect x="320.35" y="357.4" width="2" height="2" rx="0.5" fill="#333"/>
<line x1="64.5" y1="322.5" x2="79.7" y2="322.5" stroke="#c9606b" stroke-width="1.2"/>
<text transform="translate(82.2,325.2) scale(0.92,1)" font-size="7.6" text-anchor="start" fill="#1e1e1e" stroke="#1e1e1e" stroke-width="0.1">Naive</text>
<line x1="105.2" y1="322.5" x2="119.9" y2="322.5" stroke="#6f8bb5" stroke-width="1.2"/>
<text transform="translate(122.3,325.2) scale(0.92,1)" font-size="7.6" text-anchor="start" fill="#1e1e1e" stroke="#1e1e1e" stroke-width="0.1">UnRx</text>
<line x1="143.8" y1="322.5" x2="158.7" y2="322.5" stroke="#8fc078" stroke-width="1.2"/>
<text transform="translate(161.7,325.2) scale(0.92,1)" font-size="7.6" text-anchor="start" fill="#1e1e1e" stroke="#1e1e1e" stroke-width="0.1">α-IFNγ</text>
<line x1="187.6" y1="322.5" x2="202.7" y2="322.5" stroke="#8f6a9d" stroke-width="1.2"/>
<text transform="translate(205.3,325.2) scale(0.92,1)" font-size="7.6" text-anchor="start" fill="#1e1e1e" stroke="#1e1e1e" stroke-width="0.1">Ruxo</text>
<path d="M150.6,387 C151.67,386.97 155.15,386.97 157,386.8 C158.85,386.63 160.53,386.55 161.7,386 C162.87,385.45 163.2,384.83 164,383.5 C164.8,382.17 165.67,380.33 166.5,378 C167.33,375.67 168.17,372.17 169,369.5 C169.83,366.83 170.75,363.95 171.5,362 C172.25,360.05 172.97,358.62 173.5,357.8 C174.03,356.98 174.28,357.07 174.7,357.1 C175.12,357.13 175.48,357.27 176,358 C176.52,358.73 177.22,360 177.8,361.5 C178.38,363 178.97,365 179.5,367 C180.03,369 180.53,371.5 181,373.5 C181.47,375.5 181.8,377.42 182.3,379 C182.8,380.58 183.08,381.8 184,383 C184.92,384.2 186.3,385.57 187.8,386.2 C189.3,386.83 183.8,386.67 193,386.8 C202.2,386.93 234.67,386.97 243,387 L243,387 L150.6,387Z" fill="#c4545a" fill-opacity="0.64" stroke="none"/>
<path d="M150.6,387 C151.67,386.97 155.15,386.97 157,386.8 C158.85,386.63 160.53,386.55 161.7,386 C162.87,385.45 163.2,384.83 164,383.5 C164.8,382.17 165.67,380.33 166.5,378 C167.33,375.67 168.17,372.17 169,369.5 C169.83,366.83 170.75,363.95 171.5,362 C172.25,360.05 172.97,358.62 173.5,357.8 C174.03,356.98 174.28,357.07 174.7,357.1 C175.12,357.13 175.48,357.27 176,358 C176.52,358.73 177.22,360 177.8,361.5 C178.38,363 178.97,365 179.5,367 C180.03,369 180.53,371.5 181,373.5 C181.47,375.5 181.8,377.42 182.3,379 C182.8,380.58 183.08,381.8 184,383 C184.92,384.2 186.3,385.57 187.8,386.2 C189.3,386.83 183.8,386.67 193,386.8 C202.2,386.93 234.67,386.97 243,387" fill="none" stroke="#b5404e" stroke-width="1"/>
<path d="M150.6,404.5 C152.17,404.48 157.6,404.57 160,404.4 C162.4,404.23 163.67,404.15 165,403.5 C166.33,402.85 167.12,401.83 168,400.5 C168.88,399.17 169.58,397.75 170.3,395.5 C171.02,393.25 171.6,389.75 172.3,387 C173,384.25 173.83,381.13 174.5,379 C175.17,376.87 175.7,375.25 176.3,374.2 C176.9,373.15 177.52,372.8 178.1,372.7 C178.68,372.6 179.23,372.8 179.8,373.6 C180.37,374.4 180.92,375.6 181.5,377.5 C182.08,379.4 182.67,382.33 183.3,385 C183.93,387.67 184.6,391.5 185.3,393.5 C186,395.5 186.5,396.12 187.5,397 C188.5,397.88 189.55,398.38 191.3,398.8 C193.05,399.22 195.55,399.33 198,399.5 C200.45,399.67 203.33,399.72 206,399.8 C208.67,399.88 211.55,399.92 214,400 C216.45,400.08 218.53,399.97 220.7,400.3 C222.87,400.63 225.12,401.47 227,402 C228.88,402.53 230.33,403.1 232,403.5 C233.67,403.9 235.17,404.23 237,404.4 C238.83,404.57 242,404.48 243,404.5 L243,404.5 L150.6,404.5Z" fill="#7c84a8" fill-opacity="0.64" stroke="none"/>
<path d="M150.6,404.5 C152.17,404.48 157.6,404.57 160,404.4 C162.4,404.23 163.67,404.15 165,403.5 C166.33,402.85 167.12,401.83 168,400.5 C168.88,399.17 169.58,397.75 170.3,395.5 C171.02,393.25 171.6,389.75 172.3,387 C173,384.25 173.83,381.13 174.5,379 C175.17,376.87 175.7,375.25 176.3,374.2 C176.9,373.15 177.52,372.8 178.1,372.7 C178.68,372.6 179.23,372.8 179.8,373.6 C180.37,374.4 180.92,375.6 181.5,377.5 C182.08,379.4 182.67,382.33 183.3,385 C183.93,387.67 184.6,391.5 185.3,393.5 C186,395.5 186.5,396.12 187.5,397 C188.5,397.88 189.55,398.38 191.3,398.8 C193.05,399.22 195.55,399.33 198,399.5 C200.45,399.67 203.33,399.72 206,399.8 C208.67,399.88 211.55,399.92 214,400 C216.45,400.08 218.53,399.97 220.7,400.3 C222.87,400.63 225.12,401.47 227,402 C228.88,402.53 230.33,403.1 232,403.5 C233.67,403.9 235.17,404.23 237,404.4 C238.83,404.57 242,404.48 243,404.5" fill="none" stroke="#435f8e" stroke-width="1"/>
<path d="M150.6,422.1 C152.17,422.08 157.53,422.27 160,422 C162.47,421.73 163.9,421.83 165.4,420.5 C166.9,419.17 167.82,417.08 169,414 C170.18,410.92 171.42,405.58 172.5,402 C173.58,398.42 174.38,394.47 175.5,392.5 C176.62,390.53 178.03,390.37 179.2,390.2 C180.37,390.03 181.45,389.87 182.5,391.5 C183.55,393.13 184.47,397.05 185.5,400 C186.53,402.95 187.45,407.12 188.7,409.2 C189.95,411.28 191.12,411.53 193,412.5 C194.88,413.47 197.5,414.42 200,415 C202.5,415.58 205.5,415.82 208,416 C210.5,416.18 213.02,416.23 215,416.1 C216.98,415.97 218.4,415.13 219.9,415.2 C221.4,415.27 222.48,415.78 224,416.5 C225.52,417.22 226.95,418.62 229,419.5 C231.05,420.38 233.97,421.37 236.3,421.8 C238.63,422.23 241.88,422.05 243,422.1 L243,422.1 L150.6,422.1Z" fill="#9fcb7e" fill-opacity="0.64" stroke="none"/>
<path d="M150.6,422.1 C152.17,422.08 157.53,422.27 160,422 C162.47,421.73 163.9,421.83 165.4,420.5 C166.9,419.17 167.82,417.08 169,414 C170.18,410.92 171.42,405.58 172.5,402 C173.58,398.42 174.38,394.47 175.5,392.5 C176.62,390.53 178.03,390.37 179.2,390.2 C180.37,390.03 181.45,389.87 182.5,391.5 C183.55,393.13 184.47,397.05 185.5,400 C186.53,402.95 187.45,407.12 188.7,409.2 C189.95,411.28 191.12,411.53 193,412.5 C194.88,413.47 197.5,414.42 200,415 C202.5,415.58 205.5,415.82 208,416 C210.5,416.18 213.02,416.23 215,416.1 C216.98,415.97 218.4,415.13 219.9,415.2 C221.4,415.27 222.48,415.78 224,416.5 C225.52,417.22 226.95,418.62 229,419.5 C231.05,420.38 233.97,421.37 236.3,421.8 C238.63,422.23 241.88,422.05 243,422.1" fill="none" stroke="#68aa48" stroke-width="1"/>
<path d="M150.6,439.4 C152.17,439.38 157.68,439.45 160,439.3 C162.32,439.15 163.08,440.05 164.5,438.5 C165.92,436.95 167.33,433.42 168.5,430 C169.67,426.58 170.62,421.33 171.5,418 C172.38,414.67 173.08,411.75 173.8,410 C174.52,408.25 175.1,407.67 175.8,407.5 C176.5,407.33 177.22,407.58 178,409 C178.78,410.42 179.67,413.17 180.5,416 C181.33,418.83 182.07,423.1 183,426 C183.93,428.9 184.77,431.65 186.1,433.4 C187.43,435.15 188.97,435.82 191,436.5 C193.03,437.18 195.13,437.2 198.3,437.5 C201.47,437.8 206.55,438.08 210,438.3 C213.45,438.52 216.5,438.63 219,438.8 C221.5,438.97 221,439.2 225,439.3 C229,439.4 240,439.38 243,439.4 L243,439.4 L150.6,439.4Z" fill="#93688f" fill-opacity="0.64" stroke="none"/>
<path d="M150.6,439.4 C152.17,439.38 157.68,439.45 160,439.3 C162.32,439.15 163.08,440.05 164.5,438.5 C165.92,436.95 167.33,433.42 168.5,430 C169.67,426.58 170.62,421.33 171.5,418 C172.38,414.67 173.08,411.75 173.8,410 C174.52,408.25 175.1,407.67 175.8,407.5 C176.5,407.33 177.22,407.58 178,409 C178.78,410.42 179.67,413.17 180.5,416 C181.33,418.83 182.07,423.1 183,426 C183.93,428.9 184.77,431.65 186.1,433.4 C187.43,435.15 188.97,435.82 191,436.5 C193.03,437.18 195.13,437.2 198.3,437.5 C201.47,437.8 206.55,438.08 210,438.3 C213.45,438.52 216.5,438.63 219,438.8 C221.5,438.97 221,439.2 225,439.3 C229,439.4 240,439.38 243,439.4" fill="none" stroke="#74407a" stroke-width="1"/>
<line x1="150.6" y1="387.5" x2="243" y2="387.5" stroke="#b5404e" stroke-width="1"/>
<line x1="150.6" y1="404.5" x2="243" y2="404.5" stroke="#435f8e" stroke-width="1"/>
<line x1="150.6" y1="422.5" x2="243" y2="422.5" stroke="#68aa48" stroke-width="1"/>
<line x1="150.6" y1="439.5" x2="243" y2="439.5" stroke="#74407a" stroke-width="1"/>
<rect x="150.6" y="350.6" width="88.8" height="88.8" fill="none" stroke="#1e1e1e" stroke-width="1.2"/>
<line x1="155.5" y1="439.4" x2="155.5" y2="441.8" stroke="#1e1e1e" stroke-width="0.9"/>
<line x1="173.5" y1="439.4" x2="173.5" y2="441.8" stroke="#1e1e1e" stroke-width="0.9"/>
<line x1="183.5" y1="439.4" x2="183.5" y2="441.8" stroke="#1e1e1e" stroke-width="0.9"/>
<line x1="207.5" y1="439.4" x2="207.5" y2="441.8" stroke="#1e1e1e" stroke-width="0.9"/>
<line x1="229.5" y1="439.4" x2="229.5" y2="441.8" stroke="#1e1e1e" stroke-width="0.9"/>
<line x1="191.5" y1="439.4" x2="191.5" y2="441" stroke="#1e1e1e" stroke-width="0.5"/>
<line x1="195.5" y1="439.4" x2="195.5" y2="441" stroke="#1e1e1e" stroke-width="0.5"/>
<line x1="198.5" y1="439.4" x2="198.5" y2="441" stroke="#1e1e1e" stroke-width="0.5"/>
<line x1="200.5" y1="439.4" x2="200.5" y2="441" stroke="#1e1e1e" stroke-width="0.5"/>
<line x1="202.5" y1="439.4" x2="202.5" y2="441" stroke="#1e1e1e" stroke-width="0.5"/>
<line x1="204.5" y1="439.4" x2="204.5" y2="441" stroke="#1e1e1e" stroke-width="0.5"/>
<line x1="205.5" y1="439.4" x2="205.5" y2="441" stroke="#1e1e1e" stroke-width="0.5"/>
<line x1="206.5" y1="439.4" x2="206.5" y2="441" stroke="#1e1e1e" stroke-width="0.5"/>
<line x1="214.5" y1="439.4" x2="214.5" y2="441" stroke="#1e1e1e" stroke-width="0.5"/>
<line x1="218.5" y1="439.4" x2="218.5" y2="441" stroke="#1e1e1e" stroke-width="0.5"/>
<line x1="220.5" y1="439.4" x2="220.5" y2="441" stroke="#1e1e1e" stroke-width="0.5"/>
<line x1="222.5" y1="439.4" x2="222.5" y2="441" stroke="#1e1e1e" stroke-width="0.5"/>
<line x1="224.5" y1="439.4" x2="224.5" y2="441" stroke="#1e1e1e" stroke-width="0.5"/>
<line x1="225.5" y1="439.4" x2="225.5" y2="441" stroke="#1e1e1e" stroke-width="0.5"/>
<line x1="227.5" y1="439.4" x2="227.5" y2="441" stroke="#1e1e1e" stroke-width="0.5"/>
<line x1="228.5" y1="439.4" x2="228.5" y2="441" stroke="#1e1e1e" stroke-width="0.5"/>
<line x1="153.5" y1="439.4" x2="153.5" y2="440.9" stroke="#1e1e1e" stroke-width="0.5"/>
<line x1="155.5" y1="439.4" x2="155.5" y2="440.9" stroke="#1e1e1e" stroke-width="0.5"/>
<line x1="158.5" y1="439.4" x2="158.5" y2="440.9" stroke="#1e1e1e" stroke-width="0.5"/>
<line x1="160.5" y1="439.4" x2="160.5" y2="440.9" stroke="#1e1e1e" stroke-width="0.5"/>
<line x1="162.5" y1="439.4" x2="162.5" y2="440.9" stroke="#1e1e1e" stroke-width="0.5"/>
<line x1="165.5" y1="439.4" x2="165.5" y2="440.9" stroke="#1e1e1e" stroke-width="0.5"/>
<line x1="167.5" y1="439.4" x2="167.5" y2="440.9" stroke="#1e1e1e" stroke-width="0.5"/>
<line x1="169.5" y1="439.4" x2="169.5" y2="440.9" stroke="#1e1e1e" stroke-width="0.5"/>
<line x1="172.5" y1="439.4" x2="172.5" y2="440.9" stroke="#1e1e1e" stroke-width="0.5"/>
<rect x="170" y="439.4" width="6" height="1.6" fill="#1e1e1e"/>
<text transform="translate(149.4,451.5) scale(0.93,1)" font-size="7.8" text-anchor="start" fill="#1e1e1e" stroke="#1e1e1e" stroke-width="0.1">-10<tspan font-size="5.3" dy="-2.8" stroke-width="0.08">3</tspan></text>
<text transform="translate(170.8,451.5) scale(0.84,1)" font-size="7.6" text-anchor="start" fill="#1e1e1e" stroke="#1e1e1e" stroke-width="0.1">0</text>
<text transform="translate(180,451.5) scale(0.93,1)" font-size="7.8" text-anchor="start" fill="#1e1e1e" stroke="#1e1e1e" stroke-width="0.1">10<tspan font-size="5.3" dy="-2.8" stroke-width="0.08">3</tspan></text>
<text transform="translate(204,451.5) scale(0.93,1)" font-size="7.8" text-anchor="start" fill="#1e1e1e" stroke="#1e1e1e" stroke-width="0.1">10<tspan font-size="5.3" dy="-2.8" stroke-width="0.08">4</tspan></text>
<text transform="translate(225.2,451.5) scale(0.93,1)" font-size="7.8" text-anchor="start" fill="#1e1e1e" stroke="#1e1e1e" stroke-width="0.1">10<tspan font-size="5.3" dy="-2.8" stroke-width="0.08">5</tspan></text>
<text transform="translate(195,464.6) scale(0.92,1)" font-size="9.4" text-anchor="middle" fill="#1e1e1e" stroke="#1e1e1e" stroke-width="0.1">IFNγ</text>
<path d="M397.4,386.1 C400.83,386.08 413.33,386.1 418,386 C422.67,385.9 423.57,385.97 425.4,385.5 C427.23,385.03 427.9,384.37 429,383.2 C430.1,382.03 431.12,380.37 432,378.5 C432.88,376.63 433.67,373.78 434.3,372 C434.93,370.22 435.27,369.38 435.8,367.8 C436.33,366.22 436.92,364.2 437.5,362.5 C438.08,360.8 438.72,358.62 439.3,357.6 C439.88,356.58 440.42,356.4 441,356.4 C441.58,356.4 442.3,356.83 442.8,357.6 C443.3,358.37 443.63,359.43 444,361 C444.37,362.57 444.67,365 445,367 C445.33,369 445.55,371.08 446,373 C446.45,374.92 447.08,376.93 447.7,378.5 C448.32,380.07 448.9,381.35 449.7,382.4 C450.5,383.45 451.45,384.22 452.5,384.8 C453.55,385.38 449.67,385.68 456,385.9 C462.33,386.12 484.75,386.07 490.5,386.1 L490.5,386.1 L397.4,386.1Z" fill="#c4545a" fill-opacity="0.64" stroke="none"/>
<path d="M397.4,386.1 C400.83,386.08 413.33,386.1 418,386 C422.67,385.9 423.57,385.97 425.4,385.5 C427.23,385.03 427.9,384.37 429,383.2 C430.1,382.03 431.12,380.37 432,378.5 C432.88,376.63 433.67,373.78 434.3,372 C434.93,370.22 435.27,369.38 435.8,367.8 C436.33,366.22 436.92,364.2 437.5,362.5 C438.08,360.8 438.72,358.62 439.3,357.6 C439.88,356.58 440.42,356.4 441,356.4 C441.58,356.4 442.3,356.83 442.8,357.6 C443.3,358.37 443.63,359.43 444,361 C444.37,362.57 444.67,365 445,367 C445.33,369 445.55,371.08 446,373 C446.45,374.92 447.08,376.93 447.7,378.5 C448.32,380.07 448.9,381.35 449.7,382.4 C450.5,383.45 451.45,384.22 452.5,384.8 C453.55,385.38 449.67,385.68 456,385.9 C462.33,386.12 484.75,386.07 490.5,386.1" fill="none" stroke="#b5404e" stroke-width="1"/>
<path d="M397.4,403.8 C400.5,403.78 411.9,403.83 416,403.7 C420.1,403.57 419.85,403.42 422,403 C424.15,402.58 426.88,402.27 428.9,401.2 C430.92,400.13 432.65,398.53 434.1,396.6 C435.55,394.67 436.53,392.37 437.6,389.6 C438.67,386.83 439.6,382.68 440.5,380 C441.4,377.32 442.27,374.83 443,373.5 C443.73,372.17 444.3,371.83 444.9,372 C445.5,372.17 445.98,372.5 446.6,374.5 C447.22,376.5 448.08,381.48 448.6,384 C449.12,386.52 449.27,387.85 449.7,389.6 C450.13,391.35 450.62,392.95 451.2,394.5 C451.78,396.05 452.4,397.62 453.2,398.9 C454,400.18 454.95,401.42 456,402.2 C457.05,402.98 453.75,403.33 459.5,403.6 C465.25,403.87 485.33,403.77 490.5,403.8 L490.5,403.8 L397.4,403.8Z" fill="#7c84a8" fill-opacity="0.64" stroke="none"/>
<path d="M397.4,403.8 C400.5,403.78 411.9,403.83 416,403.7 C420.1,403.57 419.85,403.42 422,403 C424.15,402.58 426.88,402.27 428.9,401.2 C430.92,400.13 432.65,398.53 434.1,396.6 C435.55,394.67 436.53,392.37 437.6,389.6 C438.67,386.83 439.6,382.68 440.5,380 C441.4,377.32 442.27,374.83 443,373.5 C443.73,372.17 444.3,371.83 444.9,372 C445.5,372.17 445.98,372.5 446.6,374.5 C447.22,376.5 448.08,381.48 448.6,384 C449.12,386.52 449.27,387.85 449.7,389.6 C450.13,391.35 450.62,392.95 451.2,394.5 C451.78,396.05 452.4,397.62 453.2,398.9 C454,400.18 454.95,401.42 456,402.2 C457.05,402.98 453.75,403.33 459.5,403.6 C465.25,403.87 485.33,403.77 490.5,403.8" fill="none" stroke="#435f8e" stroke-width="1"/>
<path d="M397.4,421.4 C400.17,421.4 410.23,421.5 414,421.4 C417.77,421.3 417.9,421.27 420,420.8 C422.1,420.33 424.77,419.48 426.6,418.6 C428.43,417.72 429.85,416.47 431,415.5 C432.15,414.53 432.67,414.3 433.5,412.8 C434.33,411.3 435.23,408.82 436,406.5 C436.77,404.18 437.27,401.62 438.1,398.9 C438.93,396.18 440.22,391.85 441,390.2 C441.78,388.55 442.25,388.95 442.8,389 C443.35,389.05 443.82,389.62 444.3,390.5 C444.78,391.38 445.2,392.88 445.7,394.3 C446.2,395.72 446.82,397.27 447.3,399 C447.78,400.73 448.1,402.87 448.6,404.7 C449.1,406.53 449.73,408.37 450.3,410 C450.87,411.63 450.93,412.78 452,414.5 C453.07,416.22 455.15,419.15 456.7,420.3 C458.25,421.45 455.67,421.22 461.3,421.4 C466.93,421.58 485.63,421.4 490.5,421.4 L490.5,421.4 L397.4,421.4Z" fill="#9fcb7e" fill-opacity="0.64" stroke="none"/>
<path d="M397.4,421.4 C400.17,421.4 410.23,421.5 414,421.4 C417.77,421.3 417.9,421.27 420,420.8 C422.1,420.33 424.77,419.48 426.6,418.6 C428.43,417.72 429.85,416.47 431,415.5 C432.15,414.53 432.67,414.3 433.5,412.8 C434.33,411.3 435.23,408.82 436,406.5 C436.77,404.18 437.27,401.62 438.1,398.9 C438.93,396.18 440.22,391.85 441,390.2 C441.78,388.55 442.25,388.95 442.8,389 C443.35,389.05 443.82,389.62 444.3,390.5 C444.78,391.38 445.2,392.88 445.7,394.3 C446.2,395.72 446.82,397.27 447.3,399 C447.78,400.73 448.1,402.87 448.6,404.7 C449.1,406.53 449.73,408.37 450.3,410 C450.87,411.63 450.93,412.78 452,414.5 C453.07,416.22 455.15,419.15 456.7,420.3 C458.25,421.45 455.67,421.22 461.3,421.4 C466.93,421.58 485.63,421.4 490.5,421.4" fill="none" stroke="#68aa48" stroke-width="1"/>
<path d="M397.4,439.4 C401.33,439.4 416.52,439.5 421,439.4 C425.48,439.3 423.13,439.45 424.3,438.8 C425.47,438.15 426.85,436.75 428,435.5 C429.15,434.25 430.23,432.72 431.2,431.3 C432.17,429.88 433.03,428.55 433.8,427 C434.57,425.45 435.13,423.75 435.8,422 C436.47,420.25 437.22,418.23 437.8,416.5 C438.38,414.77 438.67,413.28 439.3,411.6 C439.93,409.92 441.02,407.07 441.6,406.4 C442.18,405.73 442.32,407.22 442.8,407.6 C443.28,407.98 444.02,407.72 444.5,408.7 C444.98,409.68 445.32,411.67 445.7,413.5 C446.08,415.33 446.38,417.7 446.8,419.7 C447.22,421.7 447.72,423.57 448.2,425.5 C448.68,427.43 449.15,429.55 449.7,431.3 C450.25,433.05 450.87,434.68 451.5,436 C452.13,437.32 447,438.63 453.5,439.2 C460,439.77 484.33,439.37 490.5,439.4 L490.5,439.4 L397.4,439.4Z" fill="#93688f" fill-opacity="0.64" stroke="none"/>
<path d="M397.4,439.4 C401.33,439.4 416.52,439.5 421,439.4 C425.48,439.3 423.13,439.45 424.3,438.8 C425.47,438.15 426.85,436.75 428,435.5 C429.15,434.25 430.23,432.72 431.2,431.3 C432.17,429.88 433.03,428.55 433.8,427 C434.57,425.45 435.13,423.75 435.8,422 C436.47,420.25 437.22,418.23 437.8,416.5 C438.38,414.77 438.67,413.28 439.3,411.6 C439.93,409.92 441.02,407.07 441.6,406.4 C442.18,405.73 442.32,407.22 442.8,407.6 C443.28,407.98 444.02,407.72 444.5,408.7 C444.98,409.68 445.32,411.67 445.7,413.5 C446.08,415.33 446.38,417.7 446.8,419.7 C447.22,421.7 447.72,423.57 448.2,425.5 C448.68,427.43 449.15,429.55 449.7,431.3 C450.25,433.05 450.87,434.68 451.5,436 C452.13,437.32 447,438.63 453.5,439.2 C460,439.77 484.33,439.37 490.5,439.4" fill="none" stroke="#74407a" stroke-width="1"/>
<line x1="397.4" y1="386.5" x2="490.5" y2="386.5" stroke="#b5404e" stroke-width="1"/>
<line x1="397.4" y1="403.5" x2="490.5" y2="403.5" stroke="#435f8e" stroke-width="1"/>
<line x1="397.4" y1="421.5" x2="490.5" y2="421.5" stroke="#68aa48" stroke-width="1"/>
<line x1="397.4" y1="439.5" x2="490.5" y2="439.5" stroke="#74407a" stroke-width="1"/>
<rect x="397.4" y="349.5" width="89.5" height="89.9" fill="none" stroke="#1e1e1e" stroke-width="1.2"/>
<line x1="402.5" y1="439.4" x2="402.5" y2="441.8" stroke="#1e1e1e" stroke-width="0.9"/>
<line x1="419.5" y1="439.4" x2="419.5" y2="441.8" stroke="#1e1e1e" stroke-width="0.9"/>
<line x1="430.5" y1="439.4" x2="430.5" y2="441.8" stroke="#1e1e1e" stroke-width="0.9"/>
<line x1="454.5" y1="439.4" x2="454.5" y2="441.8" stroke="#1e1e1e" stroke-width="0.9"/>
<line x1="475.5" y1="439.4" x2="475.5" y2="441.8" stroke="#1e1e1e" stroke-width="0.9"/>
<line x1="437.5" y1="439.4" x2="437.5" y2="441" stroke="#1e1e1e" stroke-width="0.5"/>
<line x1="441.5" y1="439.4" x2="441.5" y2="441" stroke="#1e1e1e" stroke-width="0.5"/>
<line x1="444.5" y1="439.4" x2="444.5" y2="441" stroke="#1e1e1e" stroke-width="0.5"/>
<line x1="447.5" y1="439.4" x2="447.5" y2="441" stroke="#1e1e1e" stroke-width="0.5"/>
<line x1="449.5" y1="439.4" x2="449.5" y2="441" stroke="#1e1e1e" stroke-width="0.5"/>
<line x1="450.5" y1="439.4" x2="450.5" y2="441" stroke="#1e1e1e" stroke-width="0.5"/>
<line x1="452.5" y1="439.4" x2="452.5" y2="441" stroke="#1e1e1e" stroke-width="0.5"/>
<line x1="453.5" y1="439.4" x2="453.5" y2="441" stroke="#1e1e1e" stroke-width="0.5"/>
<line x1="460.5" y1="439.4" x2="460.5" y2="441" stroke="#1e1e1e" stroke-width="0.5"/>
<line x1="464.5" y1="439.4" x2="464.5" y2="441" stroke="#1e1e1e" stroke-width="0.5"/>
<line x1="467.5" y1="439.4" x2="467.5" y2="441" stroke="#1e1e1e" stroke-width="0.5"/>
<line x1="469.5" y1="439.4" x2="469.5" y2="441" stroke="#1e1e1e" stroke-width="0.5"/>
<line x1="471.5" y1="439.4" x2="471.5" y2="441" stroke="#1e1e1e" stroke-width="0.5"/>
<line x1="472.5" y1="439.4" x2="472.5" y2="441" stroke="#1e1e1e" stroke-width="0.5"/>
<line x1="473.5" y1="439.4" x2="473.5" y2="441" stroke="#1e1e1e" stroke-width="0.5"/>
<line x1="474.5" y1="439.4" x2="474.5" y2="441" stroke="#1e1e1e" stroke-width="0.5"/>
<line x1="400.5" y1="439.4" x2="400.5" y2="440.9" stroke="#1e1e1e" stroke-width="0.5"/>
<line x1="402.5" y1="439.4" x2="402.5" y2="440.9" stroke="#1e1e1e" stroke-width="0.5"/>
<line x1="405.5" y1="439.4" x2="405.5" y2="440.9" stroke="#1e1e1e" stroke-width="0.5"/>
<line x1="407.5" y1="439.4" x2="407.5" y2="440.9" stroke="#1e1e1e" stroke-width="0.5"/>
<line x1="409.5" y1="439.4" x2="409.5" y2="440.9" stroke="#1e1e1e" stroke-width="0.5"/>
<line x1="411.5" y1="439.4" x2="411.5" y2="440.9" stroke="#1e1e1e" stroke-width="0.5"/>
<line x1="414.5" y1="439.4" x2="414.5" y2="440.9" stroke="#1e1e1e" stroke-width="0.5"/>
<line x1="416.5" y1="439.4" x2="416.5" y2="440.9" stroke="#1e1e1e" stroke-width="0.5"/>
<line x1="418.5" y1="439.4" x2="418.5" y2="440.9" stroke="#1e1e1e" stroke-width="0.5"/>
<rect x="416.3" y="439.4" width="6" height="1.6" fill="#1e1e1e"/>
<text transform="translate(395.9,451.5) scale(0.93,1)" font-size="7.8" text-anchor="start" fill="#1e1e1e" stroke="#1e1e1e" stroke-width="0.1">-10<tspan font-size="5.3" dy="-2.8" stroke-width="0.08">3</tspan></text>
<text transform="translate(417.1,451.5) scale(0.84,1)" font-size="7.6" text-anchor="start" fill="#1e1e1e" stroke="#1e1e1e" stroke-width="0.1">0</text>
<text transform="translate(426.4,451.5) scale(0.93,1)" font-size="7.8" text-anchor="start" fill="#1e1e1e" stroke="#1e1e1e" stroke-width="0.1">10<tspan font-size="5.3" dy="-2.8" stroke-width="0.08">3</tspan></text>
<text transform="translate(450.7,451.5) scale(0.93,1)" font-size="7.8" text-anchor="start" fill="#1e1e1e" stroke="#1e1e1e" stroke-width="0.1">10<tspan font-size="5.3" dy="-2.8" stroke-width="0.08">4</tspan></text>
<text transform="translate(471.9,451.5) scale(0.93,1)" font-size="7.8" text-anchor="start" fill="#1e1e1e" stroke="#1e1e1e" stroke-width="0.1">10<tspan font-size="5.3" dy="-2.8" stroke-width="0.08">5</tspan></text>
<text transform="translate(441.8,464.6) scale(0.92,1)" font-size="9.4" text-anchor="middle" fill="#1e1e1e" stroke="#1e1e1e" stroke-width="0.1">TNFα</text>
</svg></body></html>
